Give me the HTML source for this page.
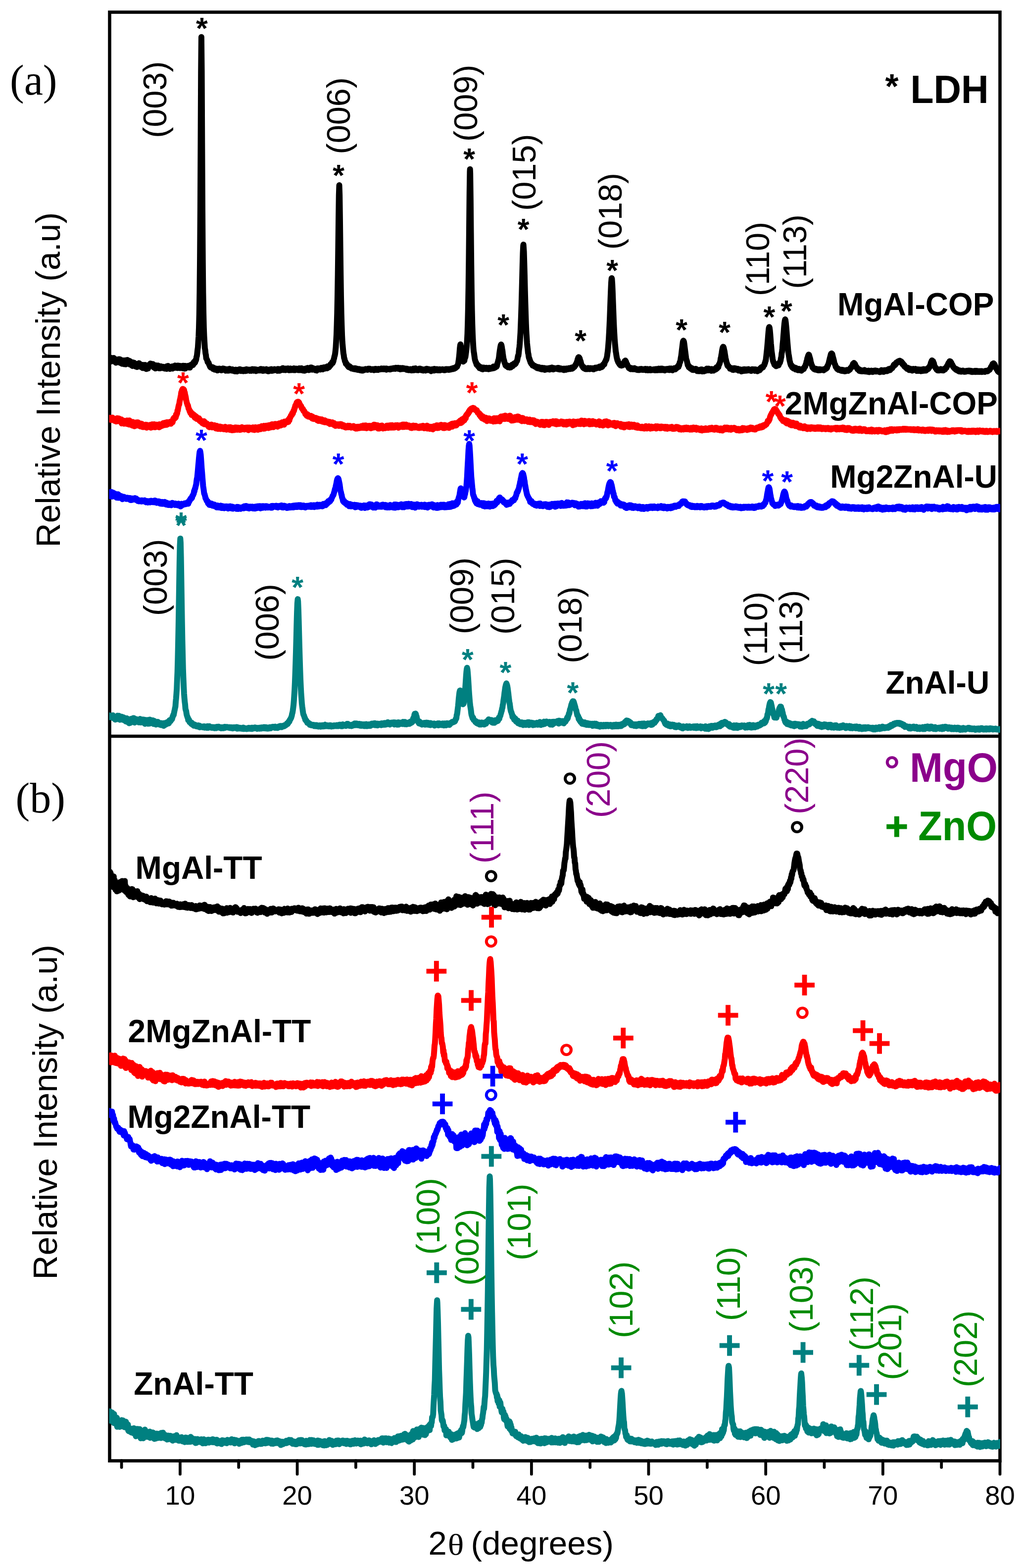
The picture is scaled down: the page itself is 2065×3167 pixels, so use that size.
<!DOCTYPE html><html><head><meta charset="utf-8"><title>XRD patterns</title><style>html,body{margin:0;padding:0;background:#fff}svg{display:block}</style></head><body>
<svg width="2065" height="3167" viewBox="0 0 2065 3167">
<rect width="2065" height="3167" fill="#fff"/>
<defs><clipPath id="pa"><rect x="220.5" y="28" width="1800.5" height="2919"/></clipPath></defs>
<g fill="none" stroke="#000" stroke-width="6.6">
<rect x="221.5" y="24.6" width="1799" height="2925.9"/>
<line x1="221.5" y1="1487" x2="2020.5" y2="1487"/>
</g>
<g clip-path="url(#pa)" fill="none" stroke-width="12.0" stroke-linejoin="round" stroke-linecap="round">
<path stroke="#000000" d="M220.0 722.8l.7 3.4 .7 1 .7-4.8 .7 1 .7 6.7 .7-7.5 .7 .3 .7 6.8 .7-3 .7-2.3 .7 1.2 .7 1.3 .7-3.1 .7-.8 .7 6.1 .7-.6 .7-.8 .7 3 .7-2 .7 4 .7-6.7 .7 3 .7-.6 .7-1.3 .7 2.1 .7-3.1 .7 4.9 .7 .7 .7-6.2 .7 3.1 .7-1.5 .7-1.4 .7 7.3 .7-3.7 .7-2.1 .7 4.9 .7-3.7 .7 6.3 .7-5.7 .7-1.3 .7 1.6 .7 1.3 .7 1.2 .7 3.8 .7-1.8 .7-3.1 .7-2.9 .7 1.1 .7 7 .7-4.8 .7 1.7 .7-5.6 .7-.3 .7 7 .7-2.1 .7-2.2 .7 .5 .7-1.6 .7 1.2 .7-.7 .7 7.4 .7-2.7 .7-2.6 .7 5.7 .7-4.4 .7-.9 .7 4.9 .7 2.8 .7-7.2 .7 6.9 .7-5 .7-.7 .7-.5 .7 2.5 .7 3.9 .7-2 .7 3.1 .7-5.5 .7 .9 .7-.5 .7 6.2 .7-.3 .7-5 .7 .9 .7-1 .7 3.8 .7-6.1 .7 .3 .7 2.9 .7-1.3 .7 5.3 .7-.6 .7-1.3 .7 1.3 .7 .6 .7 1.1 .7 1.4 .7-6.2 .7 4.1 .7-3.9 .7 2.5 .7 2.9 .7 1 .7-1 .7-5.6 .7 2.8 .7-1.4 .7 6.8 .7-6.6 .7 .9 .7 1 .7-2.5 .7 6.1 .7-2.2 .7-4.2 .7 2.1 .7-3.8 .7 3.5 .7-3.4 .7-1.9 .7 .3 .7 3.1 .7 .5 .7-2.3 .7 2.6 .7-1.9 .7-1.3 .7 1.9 .7 1 .7 4.3 .7-5.3 .7 .2 .7 3.7 .7 3.1 .7-.3 .7-1.4 .7-4.4 .7 5.3 .7-.8 .7-3.8 .7 2.3 .7-2.8 .7 5.3 .7-.5 .7 .7 .7-.3 .7-3.2 .7 3.6 .7-3.5 .7-.7 .7 1.8 .7 .8 .7-1.3 .7 2.2 .7 0 .7-2.4 .7 2.5 .7-1.7 .7 2.5 .7-2.9 .7 3.3 .7-2.5 .7 .8 .7 .7 .7-1.1 .7-1.8 .7 4.5 .7-5.7 .7 1.4 .7 1.5 .7-3.3 .7 .9 .7 4.2 .7 0 .7-.8 .7 1.8 .7-.8 .7-2.9 .7 2.3 .7-2 .7 2.5 .7-2.4 .7-1.7 .7 4.4 .7-1.4 .7 .1 .7-1.4 .7 1.3 .7-2.3 .7 .7 .7-3.2 .7 2.9 .7 1.6 .7-.7 .7 .6 .7-1.9 .7 2.4 .7-4.7 .7 4.8 .7-3.1 .7-1.6 .7 3.2 .7-.9 .7-.1 .7 2.6 .7-4.3 .7 2.9 .7-1.1 .7 .7 .7-.1 .7-2.2 .7 2.4 .7 2.1 .7-4.1 .7-1 .7 .4 .7 2.3 .7 3 .7-5.5 .7 5.5 .7-2.7 .7-2.5 .7 1.6 .7-1.4 .7 2.7 .7-1.2 .7-1.6 .7-.4 .7 3.4 .7-.7 .7-1.9 .7-.2 .7 1.8 .7 1.2 .7-5 .7 .2 .7 .9 .7 .4 .7-2.8 .7-.7 .7 .3 .7 .2 .7 1.1 .7-1.6 .7-3.9 .7-.9 .7 1.1 .7 1.1 .7-1.1 .7-4.4 .7 .8 .7-2 .7-5.4 .7-1.7 .7-6.1 .7-6.5 .7-4.9 .7-11.7 .7-10.1 .7-17.7 .7-27.1 .7-44.7 .7-67.7 .7-96.8 .7-136.1 .7-144.8 .7-70.1 .7 69.7 .7 144.2 .7 135.1 .7 99.8 .7 68 .7 41 .7 29 .7 17.5 .7 12.6 .7 11.7 .7 3.5 .7 7 .7 2.9 .7 7 .7 .9 .7 1.6 .7 1.3 .7 3.6 .7 .7 .7 .1 .7 .9 .7 2.7 .7 1.8 .7 .7 .7 2.5 .7 .8 .7 .8 .7 .1 .7-.8 .7 .8 .7 0 .7 .5 .7-1 .7 3.6 .7-1.9 .7-.5 .7 2.1 .7 1.4 .7-1 .7 0 .7 1.4 .7-1.9 .7-.4 .7 2.4 .7-.1 .7 1.3 .7-1.7 .7 1.4 .7-3.2 .7 0 .7 2.2 .7-1.5 .7-.7 .7 .3 .7 1 .7-.1 .7 1 .7 1.2 .7-2.1 .7-.8 .7 1.5 .7-2.4 .7 1.5 .7-.2 .7 .3 .7-1.2 .7 2.1 .7 .5 .7 .6 .7 .9 .7-2.4 .7 1.2 .7-.9 .7-.9 .7 2.7 .7-.6 .7 .8 .7-.5 .7 .4 .7-3.2 .7-.4 .7 .8 .7 .9 .7 1.2 .7-.9 .7 .4 .7 1.1 .7-2.6 .7 2.6 .7-2.4 .7 1 .7 2 .7 0 .7-1 .7-.3 .7 2.2 .7-2.2 .7-1 .7 .9 .7-1 .7 3.2 .7-2.9 .7 3.3 .7-3.2 .7 .2 .7 1 .7-1.2 .7 .2 .7-1.2 .7 1.1 .7-1.5 .7 .7 .7 2.8 .7-2.6 .7 0 .7 1.8 .7 .9 .7-2.2 .7 .5 .7 1.5 .7 .4 .7-.7 .7-1.9 .7-.1 .7 2.2 .7-.4 .7 .6 .7-.6 .7-1.6 .7-1.2 .7 3.1 .7-.8 .7-.5 .7 .4 .7-1.2 .7-.2 .7 .9 .7-.4 .7 .9 .7 .9 .7-.4 .7-1.9 .7 0 .7 2.3 .7-2.2 .7 1.7 .7-2.9 .7 1.5 .7 .3 .7 1.2 .7 .3 .7-3 .7 1.9 .7 .1 .7-1.9 .7 2.9 .7-1.1 .7 1.8 .7-3.1 .7 1.5 .7-.8 .7 1.3 .7-.2 .7-.6 .7-.9 .7 .5 .7-.8 .7 1.9 .7-2 .7-.1 .7-.9 .7 0 .7 2.9 .7-2.5 .7 2.4 .7-1 .7 1.8 .7-3.2 .7 3.3 .7-.5 .7-.8 .7 .7 .7 .1 .7-1.1 .7 .8 .7-1.7 .7-.9 .7 2.7 .7-.8 .7 1.8 .7-2.6 .7 2.4 .7 .7 .7-.3 .7 .3 .7-3.3 .7 0 .7 .2 .7 .5 .7-1.1 .7 0 .7-.7 .7 3.7 .7-2.4 .7 1 .7-.7 .7 1.2 .7 .2 .7-1.7 .7 .6 .7-1.7 .7 .8 .7-.1 .7 .4 .7 .2 .7 1.1 .7-1 .7-.1 .7 2 .7-3.5 .7-.1 .7 .1 .7 3.3 .7-1 .7 .2 .7 .9 .7-3.2 .7 2.7 .7-3.1 .7 1 .7 .4 .7 .3 .7-2.4 .7 .8 .7-1.9 .7 1 .7 2.9 .7-.3 .7-1.3 .7 .9 .7 .5 .7-2.3 .7 2.8 .7-2.1 .7-1.1 .7 1.6 .7 .3 .7 .4 .7 0 .7-2.6 .7 2.5 .7 1.1 .7-1.1 .7 1.2 .7-1.9 .7 1.2 .7-2.8 .7 3.1 .7-1.9 .7 1.9 .7-2.3 .7 1.2 .7 .9 .7-.6 .7-.4 .7 1.4 .7-3.6 .7 .1 .7 1.9 .7 1.7 .7-1 .7-1.4 .7-.8 .7 1.5 .7 .2 .7-.1 .7 .6 .7-1.5 .7 2.4 .7-2.6 .7-.9 .7 .9 .7 2.5 .7-3.4 .7 .5 .7 3 .7-2.6 .7 2.4 .7-3.6 .7 4 .7-2.9 .7-.2 .7 2.7 .7 1.2 .7-.1 .7-1 .7 .8 .7 .4 .7-2.1 .7-2.1 .7 3.4 .7-2.3 .7-.6 .7 .9 .7-2.5 .7-.2 .7 1.2 .7 1.6 .7 .7 .7 .9 .7-.9 .7 .5 .7-1.8 .7 .4 .7-.9 .7-2.6 .7 0 .7 3.7 .7-2.6 .7 3.3 .7-1.4 .7-2 .7 3.1 .7-.3 .7-1.7 .7 1.1 .7 .4 .7 .1 .7 1.8 .7-2.9 .7 1.3 .7 .6 .7 1.6 .7-4.2 .7-.2 .7 .6 .7 .2 .7-.2 .7-.4 .7 .6 .7 0 .7 1 .7 .6 .7-1.6 .7-1.2 .7-.6 .7 .6 .7-.6 .7 1.3 .7 1.8 .7-.8 .7-2.5 .7-.8 .7 .1 .7 1.6 .7-.5 .7 1.3 .7-2.9 .7 .5 .7 1.7 .7-.8 .7-.5 .7 1.4 .7-3.9 .7-.1 .7 1.2 .7-.5 .7 1.3 .7-.6 .7-2.2 .7 .2 .7-.8 .7-3 .7 1.4 .7-2 .7-.5 .7-1.8 .7-1.6 .7 2.3 .7-2 .7-1.6 .7-3.9 .7-1.9 .7-3.9 .7-1.9 .7-3.7 .7-6 .7-7 .7-12.6 .7-12.1 .7-20.6 .7-24.1 .7-35.2 .7-42.7 .7-53.5 .7-58.3 .7-48.8 .7-19.4 .7 19.7 .7 48.9 .7 57.6 .7 54 .7 45.5 .7 34.4 .7 23.5 .7 20.1 .7 13.6 .7 7.7 .7 7.7 .7 7.2 .7 3.3 .7 6.1 .7 1.1 .7 3.9 .7 2.2 .7 .2 .7 3.9 .7-.6 .7 .4 .7 .8 .7 2.2 .7 1.4 .7-.7 .7 2.6 .7-1.5 .7 2.5 .7-2.4 .7 1.3 .7 0 .7 1.4 .7 0 .7 .4 .7 1.8 .7-.6 .7 .3 .7-.6 .7 1.6 .7-.9 .7 .9 .7 .6 .7-.9 .7-.5 .7-.5 .7 2.2 .7-.4 .7 .3 .7-1.6 .7 .9 .7 1.6 .7-1.8 .7 2 .7-.7 .7-.8 .7 .7 .7-.8 .7 2 .7 .4 .7-2 .7 1 .7 1.5 .7-1.6 .7 1 .7 .8 .7-.7 .7-1.4 .7 2.3 .7-.5 .7-.6 .7-.8 .7 .7 .7-.7 .7-.9 .7 0 .7-.4 .7 .3 .7 0 .7 1 .7-.3 .7-.1 .7 .6 .7-2.1 .7 .8 .7-.9 .7 1 .7-.9 .7 0 .7 .1 .7 .9 .7 1.1 .7-1.3 .7 1.4 .7-1.3 .7 .3 .7 .7 .7-1.1 .7 1.1 .7 .4 .7 .6 .7-2.2 .7 1.9 .7-.8 .7-.1 .7-1.6 .7 2.2 .7-1.8 .7 .7 .7 0 .7 1 .7-.9 .7 1.1 .7-2.1 .7 1.2 .7-.3 .7-.2 .7 .2 .7-.2 .7-.7 .7 .8 .7-1.6 .7 1 .7-.1 .7-.6 .7 .9 .7 .3 .7-1.4 .7 .5 .7-.6 .7 1.5 .7-1.3 .7 .4 .7 .5 .7 0 .7-1.1 .7 2.4 .7-1.9 .7 1 .7-1 .7 1 .7-.6 .7 0 .7 .4 .7 .3 .7 .1 .7 .2 .7-1.2 .7-.5 .7 .3 .7 .1 .7 .7 .7-.7 .7-.4 .7-.6 .7 1.1 .7-1.4 .7 .9 .7 .3 .7-.3 .7-1.3 .7 .4 .7 1.4 .7-2.2 .7 1.5 .7-.6 .7 .5 .7-.6 .7-.7 .7 1.2 .7-1.4 .7 2.4 .7 0 .7-1.1 .7 .6 .7 0 .7 1.3 .7-2.6 .7 .8 .7 .3 .7 1.1 .7-.2 .7-.8 .7-1.2 .7 1.9 .7-.6 .7-.8 .7 1.5 .7-.5 .7-.4 .7 0 .7 .8 .7-.8 .7 .5 .7 1.8 .7-1.3 .7-.6 .7 1 .7 1.4 .7-.1 .7-.5 .7 .9 .7-.4 .7-.1 .7-.8 .7-.8 .7 2 .7-.3 .7 1.1 .7-2.2 .7 1.8 .7-2.3 .7 2.4 .7 .1 .7-3.4 .7 .9 .7 2.2 .7-.2 .7-1.1 .7-2 .7-.5 .7 .9 .7 2.6 .7-.4 .7-1.3 .7 1.3 .7 .7 .7-2.2 .7 2.2 .7-2.2 .7 .2 .7-1.1 .7 .4 .7 1.5 .7-1.9 .7 2.1 .7-1.4 .7 2.4 .7-2.3 .7 .4 .7 .4 .7 1.3 .7 .9 .7-.2 .7 0 .7-.3 .7-.6 .7-.8 .7-.8 .7 2.7 .7-2 .7 .9 .7-2.5 .7 1.1 .7-1 .7 1.1 .7 1.5 .7-1.4 .7 1.5 .7-1.9 .7 1.2 .7 .4 .7 .5 .7-.9 .7 1.9 .7 .7 .7-.4 .7-3 .7 1.5 .7-.7 .7 .6 .7-1.9 .7 2.2 .7-1.2 .7 1.8 .7-3.3 .7 1.3 .7 .2 .7 1.2 .7-.3 .7-2 .7 .4 .7 1.4 .7-1 .7-.5 .7 2.3 .7-.3 .7-1.5 .7 .6 .7 1.2 .7-2.3 .7 2.1 .7-.2 .7-.6 .7-.2 .7 0 .7-.4 .7 .2 .7-1 .7 1.1 .7 .4 .7-.4 .7 .6 .7-.6 .7 .9 .7-.2 .7-1.8 .7 1.8 .7-1.4 .7-.5 .7 0 .7 .5 .7 .4 .7-.5 .7-.4 .7 1.3 .7-1.1 .7 1.1 .7-1.5 .7 .9 .7-.8 .7 1 .7-.5 .7-.1 .7-1.4 .7 1.3 .7-1 .7 .6 .7 0 .7-1.7 .7-.5 .7 1.4 .7 .2 .7-.4 .7-1.2 .7 .5 .7-2.1 .7-.4 .7 .6 .7-.8 .7-.2 .7-2.5 .7-1.2 .7-1.4 .7-4.9 .7-4.6 .7-6.1 .7-7.4 .7-9.1 .7-6 .5-2 .9 3.9 .7 6.8 .7 7.4 .7 6.3 .7 4.1 .7 3.2 .7 1.9 .7 1.2 .7-.9 .7-1.2 .7 .3 .7-3.9 .7-2.6 .7-.5 .7-5.4 .7-4.9 .7-5.3 .7-8 .7-10.6 .7-13.5 .7-22.5 .7-30.1 .7-40.8 .7-53.2 .7-67.6 .7-68.3 .7-44.7 .3-4.9 .4 8.6 .7 50.8 .7 68.6 .7 65.5 .7 53.3 .7 38.5 .7 28.5 .7 19.8 .7 14.5 .7 12.1 .7 7.6 .7 3.7 .7 5.5 .7 5.1 .7 3.6 .7 1.7 .7 2.8 .7 .2 .7 3.5 .7 1.5 .7-.3 .7 .3 .7 .1 .7 3 .7 .6 .7-1.7 .7 2.5 .7 2 .7-3 .7 .8 .7 0 .7 1.7 .7 0 .7 2.1 .7-3 .7 .7 .7 3 .7-3.6 .7 1 .7 .5 .7-1.5 .7 1.1 .7 1.3 .7 .1 .7 0 .7 .2 .7 0 .7-2.3 .7 2.5 .7-.3 .7-1.5 .7 .7 .7-.8 .7 2.4 .7-2.5 .7-.5 .7 2.3 .7-.3 .7 .2 .7-.9 .7-1.2 .7 .1 .7 .1 .7 0 .7 1.2 .7-2.8 .7 1.8 .7-3 .7 .5 .7 2.6 .7-2.9 .7 .7 .7 1.2 .7-1.4 .7-1 .7 .2 .7 .2 .7-1.3 .7-4 .7-2 .7-1.9 .7-3.4 .7-1.9 .7-4.1 .7-6.5 .7-5.2 .7-4.7 .7-4.2 .7-3.5 .8-1.9 .6 1 .7 3.3 .7 4.4 .7 3.8 .7 6.2 .7 5 .7 4.7 .7 2.3 .7 2.2 .7 3.5 .7 1.7 .7 1.6 .7 2.7 .7 .4 .7 .8 .7 .4 .7-1.5 .7 0 .7 1.5 .7 2 .7-.6 .7 .6 .7-.6 .7 .6 .7 .7 .7-1.2 .7 .3 .7 .2 .7-1.3 .7-.1 .7-3.3 .7-.5 .7 3 .7-3.1 .7-.1 .7-1.1 .7 1.5 .7-2.8 .7 2.5 .7-2.6 .7 1.1 .7-.2 .7-1.9 .7-2.2 .7-.7 .7-.8 .7-2.6 .7-4.2 .7-3.8 .7-.2 .7-5.2 .7-7.2 .7-4.6 .7-7.9 .7-10.9 .7-10.4 .7-17.2 .7-18.6 .7-21.5 .7-25.2 .7-26.7 .7-28.1 .7-24.3 .7-13.9 .4-2.6 1 14.6 .7 22.9 .7 26.3 .7 28.7 .7 25.3 .7 22.6 .7 20.3 .7 16.4 .7 10.5 .7 11 .7 7.3 .7 5.6 .7 7.2 .7 2.6 .7 5.5 .7 3.1 .7 .3 .7 3.8 .7 .3 .7 3.7 .7-.4 .7 2.7 .7 .8 .7 .6 .7-.6 .7 3 .7-1.3 .7 2.1 .7-.8 .7 .3 .7 1.4 .7-1.2 .7 2 .7-.9 .7 1.5 .7 .1 .7 1.3 .7-1.9 .7 .1 .7 2.8 .7-1.7 .7-.2 .7 1.3 .7-1.6 .7 3 .7-.6 .7-.2 .7-1.2 .7 2.3 .7 .7 .7-.3 .7 .7 .7-3.1 .7 2.7 .7 .6 .7-1.5 .7-1.4 .7 1.9 .7-1.1 .7-.7 .7 3.7 .7-.3 .7-.7 .7 .5 .7-.3 .7-.8 .7-1.3 .7 .7 .7 .8 .7 .2 .7-1.2 .7-.9 .7 .7 .7-.8 .7 2.8 .7-3.1 .7 .5 .7 .5 .7-1.2 .7 .9 .7 .2 .7-1.9 .7 3.5 .7-1.5 .7-1.3 .7 3.2 .7-2.9 .7 2.2 .7-.9 .7-.7 .7 .4 .7 .4 .7-.4 .7-.4 .7 .5 .7 0 .7 .9 .7-1.8 .7-.5 .7 2.7 .7-2.6 .7 1.9 .7-.2 .7 1.5 .7-2.5 .7 2.5 .7-2.3 .7 .3 .7 1.8 .7-1.4 .7 1.4 .7 .4 .7-1.7 .7 2.1 .7-1.1 .7 1.6 .7-2.9 .7 .2 .7 1.6 .7-1.1 .7 .3 .7 1.4 .7-1.7 .7-.9 .7 .2 .7 1 .7 .5 .7-.2 .7-.9 .7-.8 .7-.5 .7 .1 .7-.2 .7 1.9 .7-1.5 .7-.9 .7 1.4 .7-.7 .7-1.4 .7 2.5 .7-.4 .7-2.3 .7 1.3 .7-1.5 .7 .1 .7-.6 .7-.5 .7-1.6 .7-1.7 .7 .5 .7-2.3 .7-1.7 .7-1.1 .7-2.2 .7-1.6 .7-3.3 .7-1.5 .7-2.3 .7-.7 .3 .1 .4 .2 .7 1.1 .7 1.2 .7 3.3 .7 1.3 .7 2.1 .7 3.3 .7 1.8 .7 1.7 .7 1.9 .7 .8 .7-.1 .7 2.6 .7-1.9 .7 3 .7-.8 .7 .2 .7 .7 .7 .1 .7 1.6 .7 0 .7-.1 .7-1.4 .7 .6 .7-1.1 .7 1.8 .7-2.1 .7 .9 .7-.8 .7 2 .7 .2 .7-1.9 .7 1.7 .7-2 .7 1.6 .7-1.3 .7 .6 .7 .6 .7-.8 .7-.4 .7 1.2 .7 .6 .7 .6 .7-2 .7-.3 .7-.6 .7 .2 .7-.7 .7 .5 .7 1.2 .7-2 .7 1.3 .7-1.3 .7-.4 .7 .6 .7-.3 .7-.1 .7-1.1 .7 1.2 .7 .9 .7-2.9 .7 0 .7 1.3 .7-1.1 .7-.6 .7 1.8 .7-2.4 .7 1.3 .7-1.5 .7-2.3 .7 0 .7-1.3 .7 .4 .7 .1 .7-3.5 .7-1.4 .7-1.4 .7-1 .7-2.3 .7-.1 .7-3.5 .7-3.1 .7-5.4 .7-4.7 .7-7 .7-9.1 .7-9.1 .7-12.7 .7-13.8 .7-15.8 .7-19.3 .7-19.2 .7-17.7 .7-15.2 .7-8.3 .3-.7 .4 1.5 .7 9.7 .7 15.2 .7 19.4 .7 18.7 .7 18.9 .7 16.1 .7 13.1 .7 12 .7 8.4 .7 7.3 .7 7.4 .7 3.7 .7 5.2 .7 3.8 .7 3.2 .7 2.6 .7 .1 .7 3.5 .7 .4 .7 1.6 .7 .6 .7 2 .7-.7 .7-.2 .7 2.9 .7-.1 .7 .4 .7-1.6 .7 .2 .7 1 .7-.1 .7-.9 .7-1.1 .7-1.1 .7-2.8 .7-1 .7-1.8 .7-.2 .6-.7 .8 1.3 .7 1.6 .7 2.5 .7 2 .7-.1 .7 3.3 .7 .6 .7 .3 .7 2 .7 1.7 .7 .4 .7-1.6 .7 .6 .7 1.8 .7 1 .7-2.4 .7 .1 .7 1.9 .7-.1 .7 .6 .7-1.8 .7 .9 .7 .9 .7-1.3 .7 .1 .7-1.1 .7 2.3 .7-.9 .7-.1 .7 1 .7 .8 .7 .2 .7-1.4 .7 1 .7-.6 .7 1.4 .7-.1 .7-.3 .7 .4 .7-.9 .7 .2 .7-1.2 .7 1.7 .7-1.2 .7 .8 .7-1.6 .7 1.2 .7 .7 .7 .1 .7-.2 .7-1 .7 1.2 .7 0 .7-.3 .7-.7 .7-.7 .7 1.3 .7-1.6 .7 2.7 .7-1.7 .7-.1 .7 .5 .7-1.1 .7 2.4 .7 .2 .7-.5 .7-.8 .7 1.1 .7-1.9 .7 .4 .7-.9 .7 .9 .7 1.7 .7-.8 .7-.3 .7 .1 .7 .4 .7 .1 .7-.4 .7 .2 .7-1.3 .7 1.2 .7 .7 .7-1.6 .7 0 .7 1.7 .7-2.4 .7 .1 .7 2 .7-2.4 .7 .6 .7 2 .7-1.7 .7 1.4 .7-.2 .7-2.7 .7 .7 .7 2.3 .7-2.1 .7 .2 .7 1.8 .7-2.9 .7 3 .7-1.1 .7 0 .7-2.1 .7 2.4 .7 .8 .7-1.4 .7-1 .7 .4 .7-.1 .7 1.3 .7 1.4 .7-2.8 .7 1.2 .7-.2 .7-.2 .7 .2 .7-.1 .7-1.4 .7 2 .7-1.1 .7-.7 .7 2.2 .7-1 .7-2 .7 3.1 .7-1.4 .7-.8 .7-.3 .7-.6 .7 .8 .7 .2 .7 .2 .7 2.4 .7-1.7 .7-1.6 .7 .5 .7 0 .7-1.5 .7 1.2 .7 0 .7 1.2 .7-2 .7 .6 .7-.3 .7-2.3 .7 .9 .7-1 .7-1.7 .7-1.3 .7 2.4 .7-4.4 .7 1.2 .7-3.6 .7-3.1 .7 0 .7-4.3 .7-4.6 .7-3.6 .7-5.6 .7-6.4 .7-5.5 .7-5.7 .7-5.3 .7-2.1 .4-.2 1 2.4 .7 4.6 .7 6 .7 5.7 .7 5.2 .7 5.6 .7 5.2 .7 3.7 .7 1.6 .7 2.7 .7 3 .7 3.9 .7-.6 .7 1.7 .7 3 .7-1.8 .7 1.3 .7 .5 .7-.3 .7 3.2 .7-1.2 .7 .7 .7 .1 .7-.7 .7 3.5 .7-2.6 .7 .9 .7 1.9 .7-1.4 .7 .8 .7-.6 .7 1 .7-.9 .7 .6 .7-1.8 .7 .1 .7 2.1 .7 1.4 .7 .9 .7-.7 .7-1 .7 .5 .7 .2 .7 .2 .7 1.1 .7-2.7 .7 .4 .7 1.4 .7-2.3 .7-.4 .7 3.5 .7-3.5 .7 3.8 .7 .2 .7-3.1 .7 2.4 .7-2 .7-.3 .7 2.7 .7-.7 .7-.8 .7-1.6 .7 2 .7-1.9 .7 1.6 .7-1.2 .7-2.8 .7 3.1 .7 .1 .7 .2 .7-1 .7-2.4 .7 3.4 .7-1.7 .7-.8 .7 .1 .7 .1 .7 2.6 .7-2.8 .7 3.5 .7-3.6 .7 2.9 .7-2 .7 1.1 .7-1.5 .7 2.8 .7-3.2 .7 1 .7 .3 .7-.9 .7-1.3 .7-.2 .7 2 .7-3.6 .7-1 .7 2.9 .7-.7 .7-1.4 .7-1.5 .7 .8 .7-3 .7-2.7 .7-.3 .7-1.8 .7-2.5 .7-2 .7-5.6 .7-1.9 .7-4.9 .7-3.9 .7-4.8 .7-3.9 .7-2.6 .9-1.5 .5 .6 .7 2.1 .7 3.5 .7 2.9 .7 4.6 .7 4.3 .7 4.5 .7 3.3 .7 2.9 .7 3 .7 1.6 .7 3.3 .7 1.8 .7 .5 .7-.4 .7 2.1 .7 .2 .7 .3 .7 .9 .7 2.4 .7-1.5 .7 .6 .7 .1 .7-.6 .7 1.7 .7-.5 .7 2.2 .7-1.1 .7 1.5 .7-.4 .7-1.4 .7-1.8 .7 .8 .7-.4 .7 2.4 .7-2.4 .7 2 .7-1.2 .7 .7 .7 1.2 .7-1.6 .7-.3 .7 .8 .7 2.9 .7-1.3 .7-.8 .7-.3 .7-.1 .7 1.3 .7 1.2 .7-.5 .7 1.4 .7 .8 .7-1.8 .7-1 .7 1.8 .7-3 .7 2.6 .7 .4 .7-.6 .7-2.8 .7 1.9 .7 .9 .7-1.6 .7 1.8 .7-2.7 .7 1.5 .7 .1 .7 .9 .7-1.6 .7-.7 .7 1.8 .7-2.5 .7 1 .7 .4 .7 1.3 .7-1.5 .7 .7 .7 .5 .7 .1 .7 1.2 .7-1.9 .7 .5 .7-2.2 .7 .7 .7 .2 .7-.2 .7 1.2 .7-1.3 .7 1.5 .7 1.1 .7-2.9 .7 .8 .7 1.2 .7-1.7 .7 .5 .7 1.8 .7-.7 .7 1.9 .7-1.5 .7 .6 .7-1.9 .7-.2 .7 1.4 .7-1.3 .7 .6 .7-3.1 .7-1.1 .7 1.7 .7-2.7 .7-.7 .7 .7 .7 .5 .7-1.8 .7 .9 .7-1.9 .7-1.4 .7-.2 .7-1.1 .7-3.3 .7-.5 .7-4.1 .7-.7 .7-5.6 .7-6.1 .7-6.5 .7-6.7 .7-7.9 .7-8.5 .7-9.2 .7-8.4 .7-6.7 .8-2.6 .6 1.5 .7 5 .7 7.8 .7 9.3 .7 9.7 .7 7.2 .7 8.5 .7 4.5 .7 5.5 .7 5.5 .7 3.7 .7 2.4 .7 1.7 .7 0 .7 3.8 .7-.5 .7 1.8 .7 .7 .7-2.1 .7 3.1 .7-3.1 .7 2.2 .7-1.4 .7-.7 .7 1.5 .7-1.7 .7 1.5 .7-2 .7-1.7 .7-2.3 .7 .6 .7-2.4 .7-2.1 .7-4.7 .7-2.3 .7-7.4 .7-2.9 .7-6.9 .7-9 .7-6 .7-10.7 .7-8 .7-9.6 .7-7.1 .7-5.3 .8-3 .6 1.6 .7 5.4 .7 6.9 .7 8.3 .7 9.2 .7 9.1 .7 8.4 .7 8.3 .7 7.9 .7 5 .7 3.9 .7 5 .7 4 .7 2.8 .7 3.1 .7 2.2 .7 1.9 .7 .6 .7-.7 .7 3.6 .7 .8 .7 .4 .7-.6 .7 2 .7-2.6 .7 2.7 .7-.3 .7 .6 .7-2 .7 3.6 .7-3.2 .7 .9 .7 1.6 .7 .5 .7-1.3 .7 .6 .7 2.5 .7-2.1 .7 .5 .7-1.1 .7 1.8 .7 .5 .7 .3 .7-1.8 .7 .6 .7 1.1 .7 1.1 .7-.8 .7-2.1 .7-.7 .7 .5 .7 .2 .7-1.4 .7 .9 .7-2.6 .7-1.5 .7 .2 .7-1.1 .7-3.3 .7-1.7 .7-2.5 .7-3.2 .7-1.4 .7-4.3 .7-1.9 .7-2.5 .7-1.9 .7-1.3 .7 .6 .7 2.4 .7 2.5 .7 2.1 .7 3 .7 4.5 .7 1.7 .7 3.4 .7 .7 .7 1.9 .7 3.2 .7-.8 .7 1.5 .7 1 .7 1.3 .7-.7 .7 1.4 .7-1 .7 1.6 .7-1.8 .7 .6 .7-.3 .7 .2 .7 1.9 .7-.8 .7 1 .7 .6 .7-2.3 .7 1.8 .7 .6 .7-1.8 .7-.6 .7 1.2 .7 .2 .7 .5 .7-.3 .7-.8 .7-.3 .7 .5 .7 .3 .7-.8 .7 .2 .7 1.6 .7-1.5 .7-1 .7 1.2 .7-1.1 .7 0 .7-.8 .7-1.3 .7 .9 .7-1.3 .7-.1 .7-3.7 .7-.2 .7-2.1 .7-2 .7-1.8 .7-3.5 .7-2.5 .7-3.4 .7-2.3 .7-3 .7-2.8 .7-1.4 .8-.5 .6 .6 .7 .9 .7 2.8 .7 3.1 .7 2.3 .7 2.5 .7 3 .7 3.8 .7 1.9 .7 1.2 .7 1.8 .7 3.1 .7 1 .7 1.1 .7-.6 .7 2.9 .7-1.3 .7 .8 .7 .1 .7 2.3 .7-.4 .7 .1 .7-.1 .7 1.1 .7-.5 .7 .2 .7-.7 .7 2 .7-2.1 .7 2.4 .7 .2 .7-1.1 .7-.9 .7 .3 .7-.2 .7 1.7 .7-.9 .7 1.9 .7-1.9 .7 0 .7 .9 .7 .5 .7-1.1 .7-1.3 .7 0 .7 1.5 .7 0 .7 .4 .7-1.4 .7 .3 .7-.7 .7-.9 .7 .2 .7-2.5 .7-1 .7-.6 .7-1 .7 .1 .7-1.8 .7-1.6 .7-1 .7-2.4 .7 .5 .7-.6 .4-1.6 1 1 .7 .7 .7 1 .7 3.2 .7 0 .7 2.6 .7 .6 .7-.4 .7 2 .7 1.9 .7-.6 .7 .6 .7-.1 .7 1.6 .7 1.8 .7-2.6 .7 3 .7-.8 .7-.9 .7 2 .7 .1 .7 .2 .7-1.6 .7-.2 .7 .9 .7 .8 .7-1.7 .7 0 .7 .3 .7-1.2 .7 2.9 .7-1.2 .7 .1 .7 .7 .7 .7 .7-.2 .7-1.2 .7 0 .7 .3 .7 .8 .7 1 .7-2.7 .7 2.1 .7 .9 .7-1 .7-.6 .7 .3 .7 .1 .7 .3 .7-2 .7 2.4 .7-.9 .7-1 .7 2.2 .7-1.9 .7 1.3 .7-1.8 .7 .9 .7-1.4 .7 .3 .7 .2 .7-.7 .7 2.4 .7-1.1 .7-.3 .7 1 .7-1.2 .7 .8 .7 .5 .7 .2 .7-.8 .7 1.2 .7 .4 .7 .3 .7-1.7 .7 1.4 .7-.2 .7-1.3 .7-2.2 .7 2 .7-.5 .7 .7 .7-1.8 .7 2.9 .7-2.7 .7 2.7 .7-3.1 .7 .8 .7 .8 .7-1.8 .7 .5 .7 .9 .7 .2 .7 .5 .7-1.7 .7 1.6 .7-3 .7 1.2 .7 .4 .7-2.9 .7 2.7 .7-.2 .7-1.3 .7 1 .7-1.4 .7-1.9 .7 1 .7-1.8 .7-.1 .7 .4 .7-1.8 .7-.5 .7-.6 .7-2.9 .7-1.2 .7-.6 .7 .6 .7 .9 .7-2.4 .7 .7 .7-2.7 .7-1.1 .7 0 .7 .6 .7-.2 .7-1.8 .7-.8 .7 .8 .7-1.2 .5-.5 .9 1.3 .7-1.7 .7 2.2 .7 .8 .7-1.9 .7 2.6 .7-1.6 .7 1 .7 1.3 .7 3 .7-2.1 .7 2 .7 .8 .7-.1 .7 3.5 .7-1.9 .7 3.1 .7-.6 .7 1.3 .7 .8 .7 .3 .7 1.1 .7 .8 .7-2.5 .7 .2 .7 1.8 .7-1 .7 2.3 .7 1.7 .7-1.5 .7-1.2 .7-.1 .7 1.8 .7 1 .7 .4 .7-.1 .7-1.2 .7 1.9 .7-1.4 .7 .7 .7-2.8 .7 2.1 .7-1.8 .7 .5 .7 .3 .7 1.1 .7-2.2 .7 2.8 .7-1.3 .7-.6 .7 3.3 .7-1.1 .7-1.2 .7-.8 .7 1.7 .7 1.3 .7-1 .7-.8 .7-.8 .7 .4 .7 2.3 .7-2.8 .7 3.3 .7-1.1 .7-1.5 .7-.9 .7 1 .7 2 .7-3.5 .7 .5 .7-.8 .7 2.5 .7 .8 .7-1.6 .7-1.1 .7 2.5 .7-1.5 .7 1.4 .7-2.3 .7-1 .7-.6 .7 .4 .7 .1 .7 .4 .7-1.9 .7-1.8 .7 1 .7-2.5 .7-1.5 .7-1.1 .7-2.2 .7-3.1 .7 .1 .7-3.5 .7-1 .6 .9 .8 .4 .7 .3 .7 2.9 .7 .3 .7 3 .7 3.2 .7 1.6 .7 .6 .7 2 .7 .7 .7-.4 .7 2.9 .7-.2 .7 .5 .7 1.6 .7-1.1 .7-.7 .7 .4 .7 .4 .7 1.1 .7-.2 .7-1.6 .7 .3 .7-1.5 .7 2.1 .7 .6 .7-2 .7 1.6 .7-1.7 .7 2.3 .7-.4 .7 .5 .7-2.4 .7-.7 .7 .9 .7-2 .7 1.9 .7-2.5 .7-.9 .7-.7 .7 .6 .7-3 .7-.2 .7-2.1 .7 0 .7-3.2 .7-1.2 .7 0 .7-1.7 .7-1.6 .9 1.5 .5-1.1 .7 .8 .7 1.7 .7 .7 .7 2.2 .7 .8 .7 .8 .7 2 .7 2.1 .7-.3 .7 1.9 .7 .7 .7 1 .7-.2 .7 .1 .7 1.7 .7 .9 .7-.6 .7-.6 .7 2.3 .7-.4 .7 .8 .7-1.2 .7 2.2 .7-.8 .7 1.7 .7-1.5 .7-.5 .7 1 .7 1.2 .7 0 .7 .4 .7-1.7 .7 1 .7-1.4 .7 .3 .7-.5 .7 1.6 .7 .7 .7-.8 .7 .1 .7 .8 .7-1.4 .7 .6 .7 .7 .7-1.6 .7 1.3 .7-1.6 .7 .7 .7-.5 .7 .6 .7-.7 .7-.4 .7 1 .7-.2 .7 .9 .7-1.7 .7 1.6 .7-1.3 .7 1.2 .7-1.1 .7 2.3 .7-.9 .7 0 .7-.9 .7 1.7 .7-1.3 .7 .5 .7 .5 .7 .1 .7-1.1 .7-.8 .7 2.1 .7-1.7 .7-.5 .7 1.4 .7 .7 .7-1.8 .7 0 .7 1.6 .7-.2 .7-.7 .7 .1 .7 1.1 .7-1.7 .7 .5 .7 .2 .7 .9 .7-1 .7-.6 .7 1.6 .7-.1 .7-1.2 .7 1.3 .7-.2 .7-.6 .7 .4 .7-.2 .7 .4 .7 .2 .7-1.4 .7-.6 .7 .4 .7 .5 .7-.8 .7-.3 .7 0 .7 1.2 .7-.5 .7-1.5 .7 0 .7-.6 .7-.9 .7 .6 .7-1.9 .7-.5 .7-1.4 .7-1.8 .7-1.4 .7-.3 .7-1.6 .7-1.5 .7-1.7 .7-.6 .7-.3 .5-.5 .9 1 .7 1.3 .7 .3 .7 2.6 .7 .9 .7 2.4 .7 1.6 .7 0 .7 2.4 .7 .5 .7 1.8 .7 1.5 .7 .1 .7 1 .7 .6 .7-.6 .7 .9 .7 0 .7 .6"/>
<path stroke="#ff0000" d="M220.0 843.9l.7 3.6 .7-3.7 .7 0 .7 1.1 .7-.5 .7 2.4 .7-2.8 .7 4.3 .7-.1 .7-4.7 .7 3.1 .7-2.4 .7 1 .7 1.1 .7 .5 .7 .3 .7 3.2 .7-4 .7-.3 .7 3.3 .7 2 .7-.2 .7-.4 .7-5.9 .7 6 .7-2.3 .7 1.5 .7-3.4 .7-1.4 .7 4.7 .7-.6 .7 1.5 .7-3.8 .7 .1 .7 5.7 .7-5.6 .7 8.1 .7-6.4 .7 4.2 .7-1.5 .7-.8 .7-1.4 .7 5.3 .7 1.1 .7-1.7 .7-1.2 .7 1 .7-1.6 .7 .2 .7 3.3 .7-6 .7-.6 .7 7.1 .7 .1 .7-4.5 .7 3.5 .7-.3 .7 2.3 .7-8.2 .7 8.3 .7-3.7 .7-.2 .7 2.5 .7-.3 .7-1.5 .7-1 .7 6.1 .7-.7 .7-6.4 .7 3 .7 3.5 .7 1.2 .7 .9 .7-6.2 .7 5.9 .7-1.7 .7-5.5 .7 1.2 .7-.3 .7-1.1 .7 5.1 .7-3.3 .7 3.2 .7-5.1 .7 6.6 .7-1.4 .7 .9 .7-1.3 .7-.9 .7-1.8 .7 6.1 .7-5.8 .7 3.2 .7-2.8 .7 .2 .7 4.7 .7 1.6 .7-3 .7 2.6 .7 .6 .7-2.1 .7 1.9 .7-3.2 .7-.7 .7 .4 .7-1.1 .7 .5 .7 4.6 .7 .9 .7-5.6 .7 4.2 .7 .3 .7-.6 .7-1.2 .7 0 .7 1.4 .7-2.9 .7 3.3 .7-3.7 .7-1.1 .7 5.8 .7-5.7 .7 .5 .7-1.1 .7-.4 .7 .6 .7 5.2 .7-1.5 .7-1.9 .7-2.5 .7 5.6 .7-2.1 .7 2.6 .7-2.3 .7-2.8 .7-.1 .7 4.6 .7-4 .7-.6 .7 1.6 .7-1.1 .7 0 .7 3.5 .7-2.2 .7 3.5 .7-6.1 .7 1.2 .7 3.6 .7-3.3 .7 1.9 .7-2.6 .7-.5 .7 2.9 .7-4 .7 1.5 .7 .1 .7-3.3 .7 .4 .7 .9 .7-1.6 .7 4.4 .7-1 .7-1.8 .7 .1 .7-2.7 .7 2.1 .7 2.7 .7-5.3 .7 3.9 .7 .3 .7-3.1 .7 .5 .7-.9 .7 2.2 .7-1.6 .7-1.9 .7 .5 .7-.8 .7 4.1 .7-2.9 .7-1.4 .7-.5 .7-.1 .7 1.8 .7-4.3 .7-2.8 .7 0 .7-1.9 .7 .2 .7 1.2 .7-3.2 .7 1.9 .7-.9 .7-6.1 .7 1.8 .7-2.8 .7-.6 .7-6.3 .7 0 .7-4.7 .7-3.6 .7-2.9 .7-.9 .7-5.3 .7-3.8 .7-2.5 .7-3.9 .7-3.6 .7-5.4 .7-.9 .7-3.2 .7-1.4 .7-1.3 .4-.1 1 .5 .7 .8 .7 1 .7 3.6 .7 1.4 .7 3.8 .7 3 .7 3.2 .7 4.7 .7 3.3 .7 3 .7 1.7 .7 3 .7-.1 .7 2.9 .7 3.8 .7 .6 .7 1.9 .7 2.9 .7-.9 .7 4.3 .7 .7 .7-2.1 .7 2.6 .7 3.2 .7-2.4 .7-.7 .7 1.3 .7 2.3 .7-1.7 .7 .3 .7 .9 .7 4.1 .7 1.3 .7-3.7 .7 2.8 .7 1.1 .7-2.7 .7 4.7 .7-.4 .7 0 .7-.8 .7 1.9 .7 .5 .7-2.5 .7 .2 .7 4.6 .7-2.1 .7 .3 .7 3.6 .7-.5 .7 .8 .7 1 .7 .7 .7-.5 .7 2.2 .7-.9 .7 .5 .7 .4 .7-4.2 .7 6 .7-.8 .7-3.5 .7 4.3 .7 .4 .7-.7 .7-.8 .7 1.8 .7-1.9 .7 1.8 .7 1.8 .7 1 .7-.7 .7 2.6 .7 .4 .7 .5 .7-1.7 .7-1.9 .7-1.1 .7 3.3 .7-.5 .7-3.4 .7 .7 .7 5 .7-1.3 .7 1 .7-3.5 .7 .9 .7 1.3 .7-.9 .7-2 .7 3.1 .7 1.5 .7-1.8 .7 3.8 .7 .2 .7-5.6 .7 2.5 .7 1.3 .7-1.2 .7 3.7 .7-4.2 .7 3.8 .7-3.4 .7 3.6 .7-4.7 .7 4.9 .7 .2 .7-1.5 .7-1.5 .7 .6 .7-1.7 .7 .9 .7 1.5 .7 0 .7-.3 .7 2.5 .7-4.1 .7 3.6 .7 .6 .7-3.2 .7-1.8 .7 4.8 .7-.5 .7-1.4 .7 2.8 .7-4 .7 3 .7-.4 .7-1.6 .7 2.4 .7-4.2 .7 1.2 .7 1.1 .7 2.9 .7-1.2 .7-4.2 .7 3.6 .7-2.8 .7 1.7 .7 3.7 .7-4.1 .7-1 .7 5 .7-4.4 .7 2.2 .7-2.1 .7 4 .7-1.3 .7 .2 .7-4.2 .7 1.6 .7 2.9 .7-3.3 .7-1 .7 4.5 .7-3.4 .7 1.9 .7-2.3 .7-.4 .7 2.1 .7 .8 .7 .7 .7 .9 .7-2.5 .7 .9 .7-2.3 .7 3.3 .7-3.2 .7-1.7 .7 1.1 .7-.3 .7 2.9 .7-2.6 .7 1.7 .7-.7 .7 2.6 .7-2.9 .7-.4 .7 .2 .7-.6 .7 2.5 .7-.7 .7 .9 .7-3.1 .7 3.9 .7-1.3 .7 2.5 .7 .2 .7-5.2 .7 3.2 .7-2 .7 2.3 .7-3.2 .7 2.2 .7 .9 .7-1.2 .7-1.6 .7 2.5 .7 1.1 .7-3.6 .7-.9 .7 1.8 .7 .2 .7 0 .7 3.3 .7-4.1 .7-1.1 .7-.2 .7 2.7 .7-1.3 .7 1.2 .7 1.2 .7-2.4 .7-1.3 .7 4.8 .7-4.5 .7 .8 .7-1.8 .7 3.6 .7-2.4 .7 3 .7-2.2 .7 2.2 .7-3.4 .7 2.4 .7-4.9 .7 1.5 .7-.5 .7 .4 .7-1.3 .7 .5 .7 4.5 .7-5.8 .7 2.8 .7 2.7 .7-3 .7-.2 .7 .3 .7-2.9 .7 .2 .7 3.2 .7-.9 .7-2.8 .7 1.6 .7 3.4 .7-5.5 .7 4.1 .7 .9 .7-2.8 .7-2.8 .7 2.2 .7 2.2 .7-.9 .7 1.2 .7-2.5 .7-3.7 .7 0 .7 5.4 .7-2.1 .7 2.5 .7-.7 .7-1.7 .7-.6 .7 1.2 .7-4.6 .7 1.5 .7 2 .7-.8 .7-2.5 .7 1.3 .7-1.2 .7 5.1 .7-4.7 .7 3.2 .7-3.6 .7-.7 .7-.9 .7 1.7 .7 2.9 .7 0 .7-3 .7 1.8 .7-1.8 .7 1.8 .7-5.3 .7 .2 .7 0 .7 3.6 .7 .7 .7-1 .7 1.1 .7-6.2 .7 .9 .7-.2 .7 .9 .7-.1 .7-.2 .7-2 .7 1.7 .7 .1 .7 .2 .7-4.5 .7 3.9 .7-4.9 .7 0 .7 1.7 .7-5.1 .7 .4 .7-1.5 .7-2.6 .7-1.4 .7-.6 .7 0 .7-3.4 .7-.8 .7 1.4 .7-3.4 .7-2.5 .7 .5 .7-2.8 .7-3.1 .7-.6 .7-4.1 .7-1.1 .7-.4 .7-2.5 .7-2.1 .7-1.1 .7 .7 .7-1.3 .7 .7 .7-.8 .7 1.1 .7 .2 .7 2.2 .7 1.2 .7 1.8 .7 .4 .7 2.1 .7-.2 .7 2.6 .7 1.7 .7 1.2 .7-.3 .7 .3 .7 3 .7 1.6 .7 .3 .7-.1 .7 1.9 .7 .3 .7 3.5 .7 .1 .7 .5 .7 1.1 .7 1.6 .7 .5 .7-3.5 .7 .5 .7 4.3 .7-2.3 .7 1.9 .7-1.2 .7 2.1 .7 .1 .7-1.6 .7 2.2 .7-2.7 .7 .4 .7 2.3 .7 2.2 .7 .6 .7-3.9 .7 1.6 .7-.5 .7 3.7 .7-1.9 .7-.2 .7 .8 .7 0 .7 .8 .7-1.9 .7 .3 .7 1 .7-.4 .7 4.1 .7-3.5 .7 3.7 .7-2.4 .7 3.5 .7-3.6 .7 2.2 .7 .8 .7-3 .7 2.6 .7-.2 .7 1.5 .7-2 .7 .6 .7-2 .7 3.2 .7 1.5 .7-.7 .7 .3 .7 0 .7-2.3 .7 3.6 .7-3.8 .7 2.1 .7 1.9 .7-.1 .7-2 .7 .4 .7 1.4 .7-.5 .7-.9 .7 .8 .7 2.5 .7-1.1 .7 .5 .7-1.6 .7-.2 .7 4.3 .7-.1 .7-1.6 .7 .8 .7 .1 .7-.9 .7-1.5 .7-.2 .7 3.6 .7 .7 .7-3.2 .7 3.9 .7-3.4 .7 4.4 .7-1.4 .7 .2 .7 2.5 .7-1.1 .7-.9 .7 1.4 .7-1.8 .7-.9 .7 2.4 .7 .1 .7-1 .7-1.5 .7 3.3 .7-.7 .7-2.9 .7 2.3 .7-.3 .7-2.3 .7 3 .7-2.5 .7 2.9 .7 .1 .7 1.4 .7-2.4 .7 1.6 .7 1 .7-2.8 .7 .8 .7 2 .7 1.3 .7-1.9 .7 2.4 .7 .2 .7-2.7 .7-.1 .7 1.3 .7-.1 .7 1.2 .7-3.3 .7 3.3 .7-2 .7-.9 .7 .5 .7-.8 .7 .5 .7 2.4 .7-1.8 .7 2.7 .7-.9 .7-1.1 .7 .2 .7 1 .7 .3 .7-1.4 .7-1.4 .7 2.8 .7-1.2 .7 2.4 .7 .6 .7-2.7 .7 .1 .7 3.3 .7-1 .7 0 .7-2.8 .7 3.6 .7-1.8 .7-.6 .7-1.3 .7 2.5 .7 .5 .7-2.1 .7 1.9 .7-.5 .7-2.4 .7 2.2 .7-3.2 .7 2.1 .7 0 .7 1.3 .7 0 .7-1.2 .7-3.3 .7 .5 .7 2.8 .7 1.4 .7-4.8 .7 4.3 .7-1.7 .7 1 .7-3.8 .7 2.3 .7 3.3 .7-4.6 .7 .5 .7 1.3 .7 .7 .7-2.6 .7 .2 .7 3.3 .7-3.8 .7 1.3 .7 0 .7-.3 .7 4.1 .7-4.8 .7 2.7 .7-3.2 .7 4.6 .7-1.3 .7-3.6 .7 2.3 .7-.3 .7-3.7 .7 5.7 .7-4.2 .7 3 .7-4 .7 2.6 .7-.5 .7 2.5 .7-2.9 .7-.9 .7 1.3 .7-1.2 .7 6.5 .7-4.2 .7 3.8 .7-2.5 .7 2.8 .7-3 .7-2.2 .7 .3 .7 1.1 .7-2 .7 3.5 .7-3.8 .7 2.8 .7 .5 .7 2.7 .7-3.4 .7 2.9 .7-2.6 .7 .7 .7 1.2 .7-2 .7 2.5 .7-.5 .7-3.1 .7 2.2 .7-3.6 .7 .5 .7 3.9 .7-3.6 .7 3.8 .7-4.7 .7 1.8 .7-1.9 .7 3 .7-.4 .7-2.2 .7-.8 .7 4.6 .7-1.4 .7-.3 .7 .7 .7-3.9 .7 .6 .7 4.3 .7-3 .7 2.1 .7 .6 .7 0 .7 0 .7-.9 .7-3.6 .7 2.5 .7-.4 .7-1.7 .7 2.4 .7-1.9 .7-1.1 .7 2.6 .7-2.2 .7 4.8 .7-4.5 .7 1.2 .7 .5 .7-1.5 .7 1.5 .7 .1 .7-2.5 .7 .1 .7 2.1 .7-1.4 .7 2.8 .7-4.7 .7 4.8 .7-4.6 .7-.4 .7 2.5 .7 2.3 .7-1.7 .7-2.2 .7 2.2 .7-.4 .7-2.5 .7 2.8 .7 1.5 .7 0 .7-2.2 .7 0 .7 .9 .7 1.1 .7-2.4 .7 .6 .7 0 .7 2.9 .7-.1 .7 1.5 .7-3.5 .7 .4 .7 3.4 .7-3.8 .7 1.7 .7-2.6 .7 3.4 .7-3.6 .7 4 .7-2.5 .7 2 .7 .5 .7-2.7 .7 .4 .7-1.2 .7 2.3 .7 .1 .7 1 .7-2.3 .7 .8 .7 .4 .7 1.8 .7-2.1 .7 2.3 .7-1.3 .7 1.1 .7-.1 .7-3 .7 2.9 .7-2.3 .7 2.2 .7-1.8 .7 1.6 .7-1.5 .7-2.3 .7 2.4 .7-2.2 .7 4.4 .7 .5 .7-4.2 .7 4 .7-1.9 .7 1.1 .7-.2 .7-2.3 .7 3 .7-4.7 .7 5.7 .7-3.2 .7 3.1 .7-4.2 .7 4.1 .7-3.4 .7 3.8 .7-.5 .7 1.1 .7-1.1 .7-3.3 .7 0 .7 3.7 .7 .6 .7 .5 .7-1.1 .7 1.6 .7-4.3 .7-.1 .7-2 .7 4.5 .7-4 .7 2.7 .7-.7 .7 .4 .7-1.6 .7-2.8 .7 4.7 .7 .5 .7-5.4 .7 5.5 .7-2.3 .7 1.3 .7 .5 .7-.5 .7-2.2 .7 1.4 .7-4.1 .7 2 .7 .3 .7-2.9 .7 5 .7-.1 .7-2.2 .7-1 .7-1.1 .7 5.8 .7-5.5 .7-.3 .7 1.9 .7 4 .7-6 .7 .2 .7 1.4 .7 .8 .7 2 .7-3.3 .7 1 .7 2.8 .7-3.8 .7 0 .7 4 .7-.7 .7 1.3 .7-1 .7-1.2 .7-4.3 .7-.2 .7 .6 .7 3.1 .7-3.2 .7-2.2 .7 5.9 .7-4.1 .7-2.3 .7 4.8 .7-.4 .7-2.8 .7-1.4 .7 4 .7-4.8 .7 4.2 .7-1.8 .7 2.2 .7-4.1 .7 3.1 .7-2.1 .7-2.2 .7 1.9 .7-2.2 .7-.4 .7-1.3 .7 1.9 .7-1.2 .7-.7 .7-2.6 .7 5 .7-4.5 .7 3.9 .7-5.2 .7-1.7 .7 5.3 .7-2.3 .7 .3 .7-2.5 .7-2.8 .7 3.9 .7 .1 .7-3.4 .7-2.8 .7 .1 .7 2 .7-6 .7 .5 .7-2.4 .7 1.4 .7-1 .7-2.6 .7-.1 .7-.1 .7-3.7 .7 .1 .7 .3 .7-3.6 .7 1.6 .7-2.4 .7-.9 .7-.9 .7 .5 .7 0 .7-1.2 .7 .6 .7-1.2 .7 1.7 .7-.2 .7-.9 .7 2 .7 .8 .7-.4 .7 1.2 .7 .7 .7 .4 .7-.9 .7 .3 .7 2.1 .7 2 .7 1.4 .7-.7 .7 .7 .7 1.7 .7-1.1 .7 4 .7-1.4 .7 0 .7 4.2 .7-2.7 .7 2.7 .7-.8 .7 4.4 .7-1 .7-3.2 .7 4.8 .7-2.9 .7 2.7 .7 1 .7 .6 .7 .9 .7-1.3 .7 1.4 .7-4.4 .7 4.1 .7 .6 .7 2.2 .7-3.3 .7-2.2 .7 3.5 .7-1 .7 1.1 .7-3.6 .7 .1 .7 3.5 .7 1.1 .7-1 .7-2.4 .7 2.2 .7 1.6 .7-.3 .7 0 .7-2.5 .7 3.5 .7-4.3 .7 4.9 .7-6.2 .7-.5 .7 1 .7 3.2 .7 2.1 .7-5.4 .7 2.9 .7-3.8 .7 2.7 .7 2.8 .7 .2 .7-.1 .7-1.7 .7-4 .7 4.9 .7 .4 .7-3.3 .7 4.4 .7-2.4 .7-1.9 .7-4.7 .7-.8 .7 3.6 .7-.2 .7 .4 .7-.1 .7 1.3 .7-1.6 .7-4.1 .7 .7 .7 .4 .7-.9 .7 5.5 .7-6.7 .7 .5 .7 3.7 .7-2.9 .7 .6 .7 1.8 .7 2.4 .7 .3 .7-2.9 .7 3.2 .7-4.4 .7-1.7 .7 3.6 .7 2.4 .7-6.5 .7 5.1 .7-3.3 .7 5.1 .7 2.9 .7-1.3 .7-.3 .7-.8 .7 2.2 .7-1.2 .7-1.8 .7-1.2 .7-.6 .7 4.1 .7-6.1 .7 3 .7-1.4 .7 1 .7-.7 .7-1.7 .7-1.1 .7 6.2 .7-6.5 .7 1.7 .7-1.5 .7 1 .7 3.2 .7-1.9 .7-.5 .7 5.6 .7-2.6 .7 2.1 .7-.5 .7-1.4 .7 4.3 .7-6.4 .7 3.2 .7-3.2 .7 5.6 .7-1.7 .7 .9 .7 1.4 .7 .1 .7-.5 .7-1.2 .7 1.3 .7-.3 .7-.5 .7-2.6 .7 2.1 .7-.5 .7 2.7 .7 1 .7-3.6 .7 1.2 .7 1.4 .7-3.7 .7 5.2 .7-3.9 .7 .5 .7 2.1 .7 1.3 .7-2.8 .7 1.8 .7-2.3 .7-.7 .7 2.6 .7-.3 .7 2.7 .7-4.6 .7 .8 .7 .2 .7 3.2 .7 .2 .7 3.1 .7-5 .7 3.4 .7 .2 .7-.2 .7-3.1 .7 3.9 .7-.1 .7-.2 .7-1.5 .7 1.4 .7-.6 .7 2.4 .7 1 .7-4.7 .7 4 .7-4.9 .7-.6 .7 4.6 .7-3.5 .7-.9 .7 1.2 .7 5.3 .7-5.6 .7 1.8 .7 4 .7-6.4 .7 5.7 .7-4.9 .7 3.4 .7-4.5 .7 0 .7 2.1 .7-.6 .7 1.3 .7 .7 .7-3.1 .7 3.7 .7 2.1 .7-1.7 .7-.8 .7-.8 .7-3.1 .7 1.1 .7 1.7 .7-2.2 .7 .2 .7-.3 .7 2.7 .7-1.2 .7-3.1 .7 4.3 .7-2.1 .7-1.8 .7 2.5 .7 2.2 .7-1.7 .7-1 .7-2.4 .7 2.9 .7 3.2 .7-5.8 .7 5.4 .7-4.3 .7 3.1 .7 .8 .7 .1 .7-1.1 .7-.4 .7-1.1 .7 2.1 .7-.4 .7 .3 .7-2.6 .7-1.6 .7 .1 .7 0 .7 2 .7 1.4 .7 1.4 .7-3.2 .7 4.2 .7-4.9 .7 4.7 .7-1.2 .7-3.5 .7 .4 .7 .4 .7-.4 .7 4.8 .7-5.5 .7 2 .7-1.8 .7 3 .7 .9 .7-1.1 .7-1.1 .7-2.6 .7 2.3 .7-2.1 .7 3.2 .7 .7 .7-.2 .7-1 .7 1.5 .7-3.5 .7 1.1 .7 5.3 .7-6.1 .7-1.3 .7 4.3 .7-.1 .7-3.2 .7 2.2 .7 3 .7-1 .7-4.4 .7 3.2 .7-1 .7-1.6 .7 2.7 .7-4 .7 .5 .7 .8 .7 3.6 .7-3.7 .7-1.2 .7 4.6 .7-4.9 .7 .5 .7 4.8 .7-2.8 .7-4.1 .7 4.3 .7-1.5 .7-.5 .7-.1 .7 3.5 .7-4.2 .7 5.9 .7-2 .7-4.9 .7 5.4 .7-1 .7-2.9 .7-.2 .7 4.5 .7-3.4 .7-1.5 .7 4.2 .7-1.6 .7-.7 .7 2.4 .7-4.5 .7-.4 .7 3.9 .7 2.8 .7-4.4 .7-.8 .7 .6 .7-1.5 .7 1.3 .7 4.4 .7 0 .7-3.4 .7-2.6 .7 1.6 .7 3.9 .7-.3 .7-.9 .7-3.1 .7 3 .7-2.2 .7 .8 .7 .8 .7 3.2 .7-3.9 .7 1.8 .7 1.5 .7-4.4 .7 2.1 .7-2.5 .7 4.3 .7-5.2 .7 4.8 .7 2.8 .7-6.1 .7-.2 .7 4.5 .7-1.8 .7-.9 .7 1 .7 3.1 .7-1.8 .7 3 .7-3.3 .7-1 .7-2.6 .7 1.3 .7-2.5 .7 2.8 .7-2.7 .7 4.6 .7-4.2 .7-.8 .7 7 .7-3.9 .7 1.4 .7-1.5 .7 5.1 .7-1.6 .7-5 .7 .3 .7 3.3 .7 1.6 .7-1.2 .7 1.1 .7-1.9 .7 .7 .7-1.3 .7 2.2 .7-.7 .7-2 .7 3.2 .7 .9 .7-4.3 .7-.1 .7-.3 .7 4.7 .7 .7 .7-4.7 .7 5.9 .7-.6 .7-3.6 .7 2.8 .7-2 .7-2.6 .7 2.5 .7 0 .7-.3 .7 1.6 .7-.3 .7 0 .7 .9 .7 .2 .7-3.1 .7 5.5 .7-1.8 .7-2.9 .7 .2 .7 5 .7-.4 .7-2 .7 2.4 .7-4.4 .7 5.5 .7-4.1 .7 2 .7-1 .7 1.4 .7-2.6 .7-.9 .7-.7 .7 1.9 .7-.3 .7-.8 .7 2.2 .7 1.5 .7-4.8 .7-.3 .7 3.8 .7 1.9 .7-.9 .7-3.7 .7 .3 .7 2.2 .7-3 .7 1.9 .7 .2 .7 2.4 .7-1.5 .7 .9 .7-1.9 .7 .3 .7-1.9 .7 4.4 .7-3.2 .7-.1 .7 4.1 .7-1.9 .7 2.3 .7-4 .7 3.9 .7-4.1 .7 4.8 .7-3.8 .7 2.3 .7 1.1 .7-1.4 .7 1.9 .7-1.1 .7-.4 .7 1.9 .7-2.3 .7 2.5 .7 .1 .7-1.8 .7-1.2 .7 2.5 .7-.2 .7 1 .7-1.3 .7 1.7 .7-2 .7 2 .7-2.4 .7-1 .7 2.8 .7-4.2 .7 1.1 .7 3 .7 .6 .7-2.8 .7 1.3 .7-1.4 .7-.4 .7 2.4 .7-3.4 .7 2.5 .7 1.3 .7-2.3 .7 3.1 .7-3.2 .7 .5 .7-1.4 .7 .8 .7 2.7 .7-2.1 .7-.2 .7 .6 .7-.9 .7 1.2 .7 .7 .7-2.5 .7 1.6 .7-1.3 .7-1.1 .7 3.3 .7 1.2 .7-.9 .7-2.1 .7-1.5 .7 3.6 .7-2 .7 1.6 .7-2.8 .7 1.8 .7 .7 .7-.2 .7-1.9 .7 3.2 .7-1.1 .7-2.4 .7 0 .7 2.9 .7-2.6 .7 .4 .7 1.4 .7-1.3 .7-.2 .7 1 .7-.2 .7 .1 .7 2.3 .7-3.3 .7 1.9 .7 1.6 .7-.9 .7-2.4 .7 0 .7 3.7 .7-.6 .7-.4 .7-1.3 .7-.1 .7 .2 .7-.3 .7 1.7 .7-2.5 .7 .8 .7 1.1 .7-.7 .7-1.2 .7-.7 .7 2.5 .7 1.6 .7-1.1 .7 1.3 .7-1.2 .7 .2 .7 .6 .7 .1 .7-.9 .7 .7 .7-1.4 .7-2.1 .7 .3 .7 1.7 .7-1.7 .7-.1 .7 1.9 .7-.7 .7-.7 .7 3.5 .7-1.4 .7 2.1 .7-.1 .7-1.8 .7-.8 .7 .5 .7 2.7 .7-.7 .7-1.2 .7 1.3 .7 0 .7-1.2 .7-1.5 .7 3 .7-1.8 .7 .7 .7-2.3 .7 1.2 .7-.8 .7-.7 .7 3.3 .7-3.4 .7 2.7 .7-1.7 .7 2.4 .7-.9 .7-2 .7 .6 .7 .5 .7 2 .7-1.7 .7 2.3 .7-2.7 .7 2.1 .7-2.9 .7 2.5 .7-.8 .7 1.7 .7-3.3 .7 .3 .7 1.8 .7-3.1 .7 .6 .7 3 .7-.5 .7-.9 .7 .6 .7-1.4 .7-.3 .7-.7 .7 4.1 .7-2.6 .7 1.3 .7 .2 .7 .3 .7-2 .7 2.2 .7-1.7 .7 .6 .7 1 .7 1.5 .7-2.4 .7-.2 .7 2 .7-2.9 .7 2 .7 2.4 .7-1.9 .7-1.8 .7 .7 .7-.7 .7 1.9 .7 .6 .7-2.6 .7 2.7 .7-2.4 .7-1.1 .7 2.5 .7-2.3 .7 3.1 .7-.4 .7-.5 .7 .3 .7-1.5 .7 1.9 .7-.7 .7-1.5 .7-1 .7-.5 .7 1.9 .7 .9 .7-2.4 .7 .2 .7-.8 .7-.3 .7 .8 .7 2.1 .7-1.3 .7 .1 .7 1.8 .7-1 .7 1 .7 .7 .7-1.1 .7-.9 .7-2.2 .7 .2 .7 3.2 .7-3.2 .7 2.4 .7-1.8 .7 3.2 .7-.6 .7-2 .7 2.4 .7-1 .7-.9 .7 1.1 .7 2.2 .7-3.5 .7 3.3 .7-3.6 .7 .5 .7 .1 .7 1.7 .7 2 .7-4 .7 .2 .7 1.2 .7-1.8 .7 1.3 .7-1.6 .7-1.4 .7 1.3 .7-1.1 .7 3.5 .7-2.6 .7 .1 .7-1.2 .7 2.5 .7-2.3 .7 2.7 .7 1 .7-.5 .7 .7 .7-1.4 .7-1.6 .7 2.9 .7-1.6 .7 2.1 .7-.9 .7-2.8 .7 2.7 .7-.6 .7-.5 .7 .7 .7-.4 .7-1 .7 .3 .7-1.5 .7 2.5 .7-.3 .7-1.1 .7 .6 .7 1.7 .7-.8 .7 2.3 .7-2.1 .7-.3 .7-.1 .7 2.3 .7-.9 .7 1.6 .7-3 .7 3.2 .7-2.7 .7 2.2 .7 .2 .7-1.7 .7 1.1 .7-1.5 .7 .8 .7 1 .7-4.5 .7 3.6 .7-.3 .7 .4 .7-2.7 .7-.5 .7 1.3 .7 .8 .7-.5 .7-.2 .7-.4 .7 1.3 .7-1.8 .7 3 .7-.3 .7-.2 .7-2.1 .7-1 .7 1.5 .7 1.2 .7-2.4 .7 1.3 .7-2.7 .7-.4 .7 1.5 .7 .7 .7 .5 .7-1.6 .7-.6 .7 2.9 .7-.5 .7-1.1 .7 1.1 .7-1 .7 2.2 .7-1.5 .7 .6 .7 .9 .7-.7 .7-1 .7-.7 .7 .4 .7-2.1 .7 .4 .7 1 .7-1.7 .7 .3 .7 1.2 .7-.6 .7 0 .7-2.6 .7 1.7 .7-2.1 .7-.1 .7 2.6 .7-.6 .7-1.2 .7 .2 .7 .8 .7-3.4 .7 1.5 .7-.8 .7-1.6 .7 1.3 .7 .1 .7-2.1 .7 .6 .7-.3 .7-.5 .7-.5 .7-2.1 .7-.5 .7-1.7 .7-2.7 .7 1.8 .7-.7 .7-1.3 .7-1.3 .7-1.5 .7-3.5 .7-2.5 .7-1.2 .7-1.8 .7-.9 .7-1.5 .7-1.8 .7-.5 .7-1.4 .7-1.4 .7-.8 .7-1.4 .7-1.5 .7-.3 .3-.1 .4 .3 .7-.6 .7 1.4 .7-.7 .7 1.5 .7 .9 .7 .8 .7 1.6 .7 .8 .7 1.6 .7 1.8 .7-.5 .7 2.1 .7 .5 .7 .4 .7 2.4 .7 2.3 .7 0 .7 1.2 .7 2.1 .7-1 .7 2.1 .7-.3 .7 .1 .7 3.4 .7-.4 .7-1.9 .7 .5 .7 1 .7 1.8 .7-1 .7-1.9 .7 4.9 .7-.4 .7-2.6 .7 4.6 .7-2.4 .7-2.8 .7 2.6 .7-1.4 .7 4 .7-.1 .7-1.6 .7-1.2 .7 5.4 .7-3 .7-1.1 .7 5 .7 .4 .7-4.5 .7 1.3 .7-2 .7 0 .7 5.2 .7-.2 .7 .1 .7-3.1 .7-.9 .7 4.6 .7-3.8 .7 4.9 .7-1.7 .7-.7 .7-2.7 .7 2.9 .7-.7 .7 3.5 .7 .1 .7-.1 .7 .5 .7 1.1 .7 .8 .7-.8 .7-3.3 .7 .2 .7 4.2 .7-2.1 .7 .1 .7-.1 .7 .9 .7 .1 .7-1 .7 3.2 .7-2.5 .7-.1 .7 2.1 .7-3.6 .7 .6 .7 3.6 .7-1.1 .7-1.1 .7 2.1 .7-2.2 .7 2.3 .7 1.5 .7-2.6 .7 1.2 .7-1.5 .7-.5 .7 2.4 .7-1.2 .7 1.1 .7 .9 .7-2.3 .7-.6 .7-.6 .7 .8 .7-.5 .7 .5 .7 1.8 .7-.8 .7-1 .7 .6 .7-.9 .7 2.4 .7 .4 .7-1.5 .7 1 .7 .6 .7-2.6 .7-.2 .7 .1 .7 .5 .7-.9 .7-.1 .7 2.9 .7-1.2 .7-1.5 .7 2.3 .7-2.2 .7 1.6 .7 1.1 .7-2.8 .7 .2 .7 .5 .7 1.5 .7 1.2 .7-1.2 .7-.2 .7 .1 .7-.9 .7-.2 .7 1.9 .7-.3 .7-1.1 .7-.1 .7 .5 .7 1.7 .7-2.3 .7 1.3 .7-.7 .7 1.1 .7-1.7 .7 .7 .7-1.1 .7 2.5 .7-1.7 .7-.2 .7 2 .7 .2 .7 .1 .7-.9 .7 1.4 .7-2.6 .7 .4 .7-.2 .7 1 .7 0 .7-.8 .7 .7 .7-1.3 .7 .5 .7 .4 .7-.7 .7 .6 .7-1.5 .7 1.6 .7 1.3 .7-2.8 .7 3.2 .7-3.3 .7 1.6 .7-.3 .7-1.1 .7 1.3 .7-1.1 .7 1.9 .7 .8 .7-1.8 .7-1.2 .7 1.8 .7-.5 .7-.2 .7-.1 .7 1.7 .7-.6 .7-2.9 .7 .9 .7 2.5 .7-2.6 .7 2.1 .7-2.2 .7 3.9 .7-.2 .7 .1 .7-1.6 .7 2.2 .7-1.5 .7-.8 .7 2.4 .7-4.2 .7 3.6 .7-2 .7 1 .7-.3 .7-2.3 .7 2.4 .7-1.2 .7 .1 .7 2 .7 1 .7-1.9 .7 2.7 .7-1 .7 1.5 .7-.3 .7-.7 .7 1.1 .7-1.8 .7-2.1 .7 2.3 .7 1.1 .7-1.8 .7-2.1 .7 3.1 .7-.9 .7 .7 .7-.5 .7 1.3 .7-2 .7 .3 .7-1.4 .7 2.9 .7 .8 .7-.2 .7-.3 .7-3.9 .7 4.1 .7-2.8 .7 2.1 .7-1.4 .7 2.6 .7 .3 .7-2.5 .7 1.9 .7-.9 .7-.8 .7-1.5 .7 .6 .7 .5 .7-.9 .7 2.7 .7-1.3 .7 2.4 .7 .3 .7-.7 .7-1.4 .7 2.1 .7 .1 .7-.3 .7-1.3 .7-.1 .7-.9 .7 1.8 .7 .9 .7 .1 .7-2.2 .7 .1 .7-.5 .7-1.2 .7 3.2 .7 1 .7-2.2 .7-1.2 .7 1.6 .7-1.2 .7 .9 .7-.1 .7 .2 .7 1.8 .7-1.9 .7 1.5 .7-1.5 .7-1 .7 .9 .7 .1 .7 .4 .7-1.3 .7 3 .7-3.2 .7 0 .7-.3 .7 .3 .7-.1 .7 1.4 .7-1.1 .7 .5 .7 .4 .7 .3 .7 1.3 .7-.8 .7 1 .7-1.6 .7 .4 .7-.2 .7 .7 .7-.2 .7-1.4 .7 3.1 .7 .6 .7-2.1 .7 1.8 .7 .2 .7-2.8 .7-1 .7-.7 .7 2 .7 1.5 .7-3.1 .7 1.6 .7-.2 .7 .8 .7-1.4 .7-2.3 .7 .5 .7 2.7 .7-1.2 .7 .4 .7-2.8 .7 2.5 .7-1.1 .7 1.9 .7-1.2 .7-.3 .7-1 .7 .3 .7-.2 .7-.3 .7 .8 .7 1.2 .7-.1 .7-1.3 .7 1.5 .7-2.4 .7 2.2 .7-1.5 .7-.1 .7 .4 .7 .9 .7-2.2 .7 1.1 .7 .5 .7-.4 .7-1.2 .7 1 .7-.1 .7 .6 .7-.8 .7 .3 .7-.1 .7-1.5 .7 1.1 .7 .5 .7 .3 .7-1.9 .7 1.3 .7-.2 .7-.7 .7 1.6 .7-1.8 .7 1.7 .7-.9 .7-.6 .7 0 .7 .4 .7 .9 .7-.7 .7-.1 .7 .5 .7-.5 .7 .4 .7-.7 .7 1.2 .7 .6 .7-1.1 .7-.4 .7 .3 .7 1 .7 .2 .7 .1 .7-1.5 .7-.3 .7 .7 .7 1.5 .7-.1 .7-1.4 .7-.3 .7 1.5 .7-1.3 .7 .5 .7 .2 .7 .8 .7-.4 .7-1.9 .7 2.3 .7-1.4 .7 2.1 .7-.6 .7-1.5 .7 .2 .7 .9 .7 .2 .7-.5 .7 1 .7 .6 .7-.8 .7-1.5 .7 .3 .7 .8 .7-1 .7 .3 .7 2.3 .7-2 .7 2.3 .7 0 .7-1.7 .7 1.2 .7-1.9 .7 1.1 .7 .5 .7-1.3 .7-.2 .7 1.8 .7-2.6 .7 2.8 .7-.6 .7-.5 .7-.3 .7-1.6 .7 .8 .7-.1 .7 .9 .7-.3 .7 1.8 .7-2.9 .7 1.7 .7-.1 .7 .1 .7-1.2 .7 1.5 .7-.1 .7 .7 .7 .7 .7 .9 .7-1.2 .7-.5 .7 1.6 .7-2.7 .7 1.4 .7-.8 .7 1 .7-.3 .7 1 .7-.1 .7-2 .7 2.3 .7-.9 .7-.1 .7-.9 .7-.2 .7 1 .7 0 .7 1.6 .7-.9 .7-.5 .7-1.2 .7 3 .7-1.4 .7-.8 .7-1.2 .7 1.4 .7 1.3 .7 .3 .7-3.3 .7 2.9 .7-1 .7 .4 .7 1.5 .7 .1 .7-3 .7 .7 .7-.2 .7 .4 .7 .3 .7 1.6 .7-1.1 .7-.9 .7 .5 .7 0 .7-.1 .7 .2 .7 .4 .7-2.2 .7 .8 .7 0 .7 1 .7-2 .7 .6 .7 1.8 .7-1.5 .7 1.9 .7-1.2 .7 .7 .7-.6 .7-1.7 .7 2 .7-.9 .7 .5 .7-1 .7-.5 .7 .5 .7 .1 .7 0 .7-.8 .7 .5 .7-.3 .7 1.7 .7-2 .7 .1 .7 2.5 .7 .5 .7-.1 .7 0 .7-2.1 .7 1.5 .7-.7 .7 .7 .7-.8 .7 .3 .7-.9 .7 .7 .7 .4 .7-.4 .7 .3 .7 .3 .7 1.3 .7-.7 .7-1.3 .7 2.2 .7-.9 .7-.3 .7-1.3 .7 .2 .7 2 .7-.3 .7-.6 .7 1 .7-.1 .7-.4 .7-2.1 .7 .3 .7 .9 .7 1.1 .7-2.3 .7 .1 .7 1.6 .7-.9 .7-.5 .7 1.1 .7-.3 .7 1.8 .7-.1 .7-2.1 .7-.5 .7 2.2 .7-2.5 .7 2.4 .7-2.3 .7 2.7 .7-1.9 .7 .9 .7-.2 .7-1.9 .7 .6 .7 .3 .7 0 .7 .8 .7 .5 .7-1.1 .7-.4 .7-.1 .7 1.8 .7 .4 .7-1.9 .7 2 .7-1.2 .7-.6 .7 2.1 .7-2.1 .7-.2 .7 1.9 .7 0 .7-2 .7 2.3 .7-.3 .7 .3 .7-.7 .7-.1 .7 .5 .7-.2 .7-.4 .7-1.4 .7 .5 .7-.7 .7 .9 .7 1.2 .7-.3 .7 .1 .7-.2 .7 .9 .7-.4 .7-1.5 .7 1.4 .7-.5 .7-.9 .7 1.5 .7-.7 .7 .6 .7 0 .7-.2 .7-1.5 .7 .9 .7 1.3 .7-1.3 .7-.4 .7-.1 .7 .4 .7 0 .7-1 .7 .4 .7 .6 .7-.6"/>
<path stroke="#0000ff" d="M220.0 1001.3l.7 0 .7-.3 .7-5.4 .7-1.7 .7 8.7 .7-3.2 .7-5.8 .7 8.7 .7 .7 .7-6.5 .7 5 .7-6.5 .7 3.3 .7 3.6 .7-3.3 .7 1.2 .7-3 .7 6.2 .7-2.4 .7-1.7 .7 4.4 .7 1.8 .7-3.4 .7 1.6 .7 2 .7-7.1 .7 4.4 .7 2.8 .7-5.8 .7 1.1 .7 2.6 .7 1.6 .7-.7 .7 .3 .7-2.8 .7 4.7 .7-2.3 .7-1.3 .7 5.5 .7-1.7 .7-1.1 .7 1.5 .7-1.4 .7-2 .7 2.5 .7 .6 .7-.1 .7-1 .7 1.9 .7 .2 .7-.2 .7-2.1 .7-.1 .7 1.5 .7 .9 .7-1.8 .7 1.9 .7-.4 .7-1.6 .7 1.8 .7 0 .7 2.4 .7-3.7 .7 3.6 .7 0 .7-1.3 .7-1.7 .7 2.5 .7-2.7 .7 .6 .7 1.4 .7-1 .7 .1 .7-.7 .7-1 .7 1.4 .7 2.1 .7 .2 .7-2.9 .7 2.3 .7-.6 .7 .5 .7 2.7 .7-.5 .7-1 .7 .2 .7 2 .7-2.1 .7 1.8 .7-.1 .7 .2 .7-1.1 .7 1 .7 .7 .7-2.3 .7 1.9 .7-1.1 .7 .2 .7-.3 .7-.3 .7 1.6 .7-1.4 .7-.8 .7 2.7 .7-1.5 .7 1 .7 1.8 .7-1.3 .7-.3 .7-.9 .7 1.9 .7 1.1 .7-1 .7 .3 .7-1.8 .7-.1 .7 .2 .7 .5 .7 1.7 .7-1.9 .7-1.3 .7 1.3 .7-1.2 .7 1.4 .7-1.3 .7 2.5 .7-2.2 .7 .6 .7 .1 .7-.6 .7 2.5 .7-3.7 .7 3.1 .7-1.8 .7-.6 .7 .6 .7 2.6 .7 .7 .7-.5 .7-1.9 .7 1 .7-1.5 .7 1.4 .7-.4 .7-.8 .7 1.3 .7 2.8 .7-1.5 .7-1 .7-.5 .7 3.5 .7-3.4 .7-.2 .7 .4 .7 2.8 .7 .8 .7-3.6 .7 2.3 .7 .1 .7-.5 .7-2.3 .7 3.2 .7-1 .7 2.5 .7 .5 .7-1.4 .7-2.1 .7 1.2 .7 1.6 .7 1.4 .7-1.9 .7-.2 .7 1.3 .7 1.2 .7-3.1 .7 1.9 .7 .1 .7-.7 .7-.6 .7 2.7 .7-.7 .7-3.2 .7-.8 .7 1.3 .7 .8 .7-1.2 .7 .9 .7 1.7 .7 .3 .7 .4 .7-.2 .7-2.6 .7 1 .7 .9 .7-.7 .7-.1 .7 1.4 .7 .9 .7 .1 .7-2.9 .7-.4 .7 1.2 .7 3 .7-2.4 .7 2.4 .7-.8 .7 2.1 .7-4.6 .7 3.7 .7-4.3 .7 3.1 .7-.6 .7-1.7 .7 0 .7 .4 .7 .4 .7-2 .7 1.3 .7-2 .7 2 .7 0 .7-1.1 .7 .3 .7 .1 .7-.7 .7-2.2 .7-.3 .7-.3 .7 3.1 .7-3.3 .7 .2 .7-3.4 .7 .6 .7-1.4 .7-2.2 .7-.9 .7-1 .7 1.3 .7-1.2 .7-.7 .7-3.8 .7-.7 .7-.7 .7-2.5 .7-.6 .7-5.5 .7 .7 .7-4.5 .7-.9 .7-3.2 .7-2.9 .7-2.4 .7-6.5 .7-4.9 .7-2.6 .7-7.7 .7-7.3 .7-8.4 .7-7.5 .7-7.9 .7-6.9 .7-5.9 .9-2.2 .5 2.6 .7 4.8 .7 8.9 .7 10 .7 10.7 .7 7.7 .7 9.3 .7 8.4 .7 8.6 .7 4.6 .7 5 .7 5.9 .7 .5 .7 2.9 .7 2.3 .7 3.8 .7 .3 .7 2.1 .7 1.8 .7 1.3 .7 .3 .7-.2 .7 4 .7 1 .7-.7 .7-.7 .7 4 .7-3.7 .7 4 .7-.8 .7-1.5 .7 1.8 .7 .1 .7-2.4 .7 2.4 .7 1.7 .7-.4 .7-2.1 .7 .6 .7 2.6 .7-2.9 .7 3.4 .7-.5 .7-.5 .7 .3 .7 .5 .7-1.7 .7 4.1 .7-2.4 .7 1.3 .7-2.6 .7 3.7 .7-.9 .7-2 .7 3.1 .7 0 .7-1.8 .7-.8 .7 2.7 .7-3.8 .7 4.6 .7 .1 .7-4 .7 4.1 .7-3.1 .7 2.6 .7 .3 .7-3.2 .7 .8 .7 2.9 .7-.7 .7-.2 .7-2.1 .7 2.4 .7-3.1 .7 1.2 .7 0 .7-.9 .7 1.9 .7-2 .7 4.3 .7-2.3 .7 1.2 .7-1.2 .7-1.9 .7 1.4 .7-2 .7 1.4 .7 1.6 .7-2 .7 3.5 .7-1.1 .7-2.6 .7 1.9 .7 2.3 .7-2.8 .7-.5 .7 .8 .7 .9 .7-.4 .7-.7 .7 .9 .7 0 .7 .9 .7 1.3 .7-1.6 .7-2.4 .7 .4 .7 .8 .7 2.9 .7-3.8 .7 2.7 .7-1 .7-.6 .7 1.9 .7 .5 .7 .1 .7-2.5 .7-.2 .7-.1 .7-.1 .7-.3 .7 1.1 .7-1.2 .7 1.1 .7 1.2 .7-1 .7-3.3 .7 3.7 .7-2.6 .7-.9 .7 .3 .7-.9 .7 1 .7 .9 .7-1.5 .7 3.9 .7-2.2 .7 .7 .7-.7 .7 2.8 .7 0 .7-1.5 .7-2.1 .7 2.9 .7-1.6 .7-1 .7 1.3 .7 1.1 .7-.3 .7-2.5 .7 3.6 .7-1.8 .7 1.9 .7-2 .7 2.2 .7-.2 .7-3.5 .7 3.8 .7-.9 .7-.5 .7-2.7 .7 2.6 .7-.1 .7 .7 .7-2.3 .7-1.6 .7 2.8 .7-1.7 .7-.1 .7 1.6 .7-2.8 .7 .1 .7 4.4 .7-.4 .7-.3 .7-1.4 .7-.5 .7-1 .7-.8 .7 3.4 .7-2.5 .7 2.2 .7-3.1 .7 .9 .7 .8 .7-.3 .7-.8 .7 2.5 .7-3.2 .7 2.3 .7-.2 .7-.2 .7-1.6 .7 2.1 .7 .4 .7-.7 .7 .1 .7-.1 .7-.5 .7 .6 .7-.3 .7-1.1 .7 2.5 .7-2.3 .7-1.1 .7 2.3 .7 1.1 .7-3.4 .7-.4 .7 1.3 .7-.3 .7-.6 .7 .4 .7 .6 .7-1 .7 1.4 .7-.6 .7-.1 .7-1.3 .7 2.8 .7-.7 .7-.4 .7-1.3 .7 3 .7-1.3 .7 .3 .7-1.3 .7 .3 .7 .3 .7-1.8 .7 0 .7 2.5 .7-2 .7-1.2 .7 2.1 .7 1.9 .7-1.9 .7 .7 .7 1.6 .7-3.3 .7 .2 .7-.6 .7 1.8 .7-.9 .7 2.2 .7-.9 .7-1.1 .7 2.9 .7 .1 .7 .5 .7-2.7 .7 .7 .7 .3 .7 .9 .7 .3 .7-2.8 .7-.5 .7 .4 .7 .1 .7 2.4 .7-.6 .7-2.2 .7 2.3 .7 .1 .7-.9 .7 1 .7-3.2 .7 2.7 .7-3.1 .7 3.5 .7-1.6 .7 1.2 .7-3.3 .7 .2 .7 2.9 .7-3.4 .7 1 .7 2.1 .7 .3 .7-3.3 .7-.4 .7 2.5 .7-1.9 .7 .3 .7-1.1 .7 1.4 .7 2.2 .7-1 .7-2.5 .7 .3 .7 3.7 .7-1.2 .7-2.1 .7 2 .7 .8 .7 .2 .7-.8 .7-2.3 .7 3.4 .7-.7 .7 .9 .7-1.5 .7 1.9 .7-.2 .7-2.2 .7-.8 .7 2.2 .7-2 .7 .5 .7-.6 .7 .6 .7-.3 .7 1.5 .7-.5 .7-2.1 .7 2.2 .7 .5 .7-1.4 .7-2 .7 3.6 .7-.3 .7-3.1 .7 1 .7 2.2 .7-.6 .7-2.4 .7 .9 .7-1.4 .7 4 .7-.6 .7-2.6 .7 .8 .7 1.4 .7-1.1 .7-2.1 .7 3.2 .7-.4 .7-3.5 .7 3.9 .7-2 .7 .4 .7 .2 .7 .9 .7-2 .7-1.3 .7 .7 .7 2.2 .7-1.1 .7-.4 .7 .1 .7-.3 .7 2 .7-.1 .7-3 .7-1.8 .7 .5 .7 .2 .7 .6 .7 1 .7-.3 .7-1.2 .7 1.8 .7-4.3 .7 1 .7 1.3 .7-1.2 .7-1.2 .7 0 .7-3.7 .7 2.6 .7-1.6 .7 .8 .7-3.6 .7 .2 .7 1.6 .7-3.6 .7 .5 .7-.1 .7-2.7 .7-1.3 .7-1.3 .7-2.4 .7-.5 .7-1 .7-2.5 .7-2.5 .7-2 .7-3.3 .7-2.8 .7-.6 .7-4.6 .7-2.7 .7-3.7 .7-4 .7-2.7 .7-1.5 .7-1.1 .3 .3 .4 .3 .7 1.7 .7 3.1 .7 3.4 .7 3.3 .7 5.3 .7 5.4 .7 3.6 .7 2.2 .7 4.1 .7 1.5 .7 4.8 .7 1.2 .7 2.8 .7 3.4 .7-.1 .7 2.1 .7-2.7 .7 2.3 .7 1.9 .7-1.3 .7 2.3 .7-.5 .7 1.1 .7-1.5 .7 3.6 .7-1.9 .7 .7 .7-.6 .7 .7 .7-.3 .7 4.4 .7-.8 .7-.2 .7-3.3 .7 1 .7 3.6 .7 0 .7-3.5 .7 2.3 .7 .6 .7-1.2 .7-.3 .7-.3 .7 2.5 .7-1.9 .7 2.3 .7-3.6 .7 3 .7 2 .7-3.9 .7-.6 .7 4 .7-2.9 .7 2.1 .7-2.9 .7 2.8 .7-.3 .7-2.1 .7 1.7 .7 1 .7 .4 .7-1.1 .7 1.8 .7 .4 .7-3.7 .7 4.4 .7-3.2 .7 1.3 .7 1.7 .7-1.3 .7-1.4 .7 1.9 .7-2.3 .7-1.6 .7 3.8 .7-1.5 .7 2.8 .7-4.6 .7 3.9 .7-1.6 .7-2.5 .7 1.8 .7 2 .7 .1 .7-1.9 .7 .1 .7 .7 .7 .1 .7-2.7 .7-2.9 .7 3.6 .7-3.5 .7 .1 .7 2.7 .7 .7 .7-2.9 .7 3.4 .7 .8 .7 1.2 .7-2.6 .7 3.3 .7-4.4 .7 2.3 .7-2 .7 .7 .7-.8 .7 4.3 .7-.5 .7-2.6 .7-3.4 .7 .6 .7-.5 .7 .7 .7 .9 .7-.2 .7 .6 .7 2.6 .7-2 .7 .9 .7 .1 .7-1.2 .7 2.1 .7-2.6 .7-.6 .7 2.8 .7 .6 .7-4 .7 2.3 .7-2.6 .7 1.3 .7 1.9 .7 .1 .7-1.6 .7 2.7 .7 .2 .7-4.1 .7 4.8 .7-4.4 .7 4.4 .7-2 .7 2.3 .7-3.9 .7 3.4 .7-3.1 .7 2.5 .7 .5 .7 .7 .7-1.2 .7-1.2 .7-2.8 .7 4.7 .7-.9 .7-3.1 .7 3.8 .7-2.1 .7 1.8 .7-1.4 .7 2.3 .7-.6 .7 1 .7-.1 .7-6.1 .7 4 .7 2.4 .7-6.6 .7 4.9 .7-3.2 .7 1.9 .7-3.2 .7 3.9 .7 1.4 .7-.8 .7-.4 .7 1.1 .7-2.3 .7-2.5 .7 1.9 .7 1.9 .7-3.5 .7 .7 .7 2.8 .7-5 .7 .1 .7 2.2 .7 3.6 .7-4.8 .7 3.1 .7 .8 .7-4.3 .7 5.3 .7-.6 .7-5.4 .7 2.8 .7-.4 .7 2.1 .7-5 .7 2.2 .7-2.1 .7 3.2 .7-3.1 .7 4.9 .7-3.3 .7-2.3 .7 1.9 .7 1.6 .7-2.2 .7-.4 .7 4.4 .7-1.3 .7-3.5 .7 4.7 .7-4 .7 5.1 .7 .5 .7-3.5 .7-1.7 .7 3.8 .7 .2 .7-1.6 .7 .4 .7-2.6 .7 6.1 .7-6 .7 2.2 .7-1.5 .7 2.3 .7-2.8 .7-1.2 .7 2.9 .7-1.8 .7 2.6 .7-2.6 .7 4 .7-2.2 .7-.6 .7-.1 .7 .8 .7 0 .7 0 .7-2 .7 4.2 .7-2.4 .7-.8 .7 2.6 .7 .2 .7-1.8 .7 2.4 .7-3.5 .7-1 .7 1.2 .7 3.7 .7-4.2 .7 3.7 .7-.5 .7 .2 .7-1.7 .7 .6 .7 2.9 .7-3 .7-2.4 .7 2.6 .7-2.8 .7 .4 .7 .5 .7 1.7 .7 .2 .7-1 .7-2.5 .7 .5 .7 3.1 .7-3.9 .7 5.1 .7-1.1 .7-.1 .7 2.4 .7-5 .7 3.3 .7-1.2 .7 2.6 .7-1 .7-.2 .7-.9 .7 3.2 .7-2.2 .7-2.4 .7-1 .7 5.6 .7-.4 .7-1.9 .7 .6 .7 1.1 .7-1.7 .7-3 .7 2.8 .7-.9 .7-2.9 .7 2.3 .7 2.6 .7-.1 .7-4 .7 3.8 .7-4.6 .7 .9 .7-.9 .7 1.1 .7 4.2 .7-5 .7 .3 .7 .8 .7 3.8 .7-3.8 .7 .6 .7 .7 .7 2.2 .7-3.2 .7 2.4 .7 .4 .7-5.5 .7 5.7 .7-3.9 .7 1.2 .7-3.4 .7 5.8 .7-5.7 .7 5.4 .7-3.1 .7 1.1 .7-.5 .7-4.4 .7 4.1 .7-3.1 .7-1 .7 5.3 .7-4.6 .7 3.9 .7-4.4 .7 2.9 .7 0 .7-3.2 .7 .4 .7 2.2 .7-4.8 .7-1.8 .7 3.6 .7-.6 .7-4.8 .7-3.3 .7-2.6 .7-2.1 .7-2.1 .7-5.1 .7-4 .7-4.1 .5-1.1 .9 2.1 .7 3.5 .7 2.1 .7 4.6 .7 .2 .7 1.4 .7-.1 .7 1.7 .7 2.9 .7-.3 .7-4.6 .7-1.4 .7-4.4 .7-2.3 .7-5.6 .7-4.1 .7-9.2 .7-9.8 .7-15 .7-12.5 .7-12.2 .7-14.2 .7-8.8 .7-3.7 .7 3.2 .7 10.3 .7 12.1 .7 13.6 .7 13.4 .7 13.4 .7 7.2 .7 8 .7 7.1 .7 5.5 .7 7.7 .7 2.7 .7 .4 .7 3.8 .7 .1 .7 4.1 .7 2.5 .7-2.7 .7 5.2 .7 .4 .7 2 .7-2.4 .7 .8 .7-2.7 .7 6 .7-.2 .7-.6 .7 1.1 .7-3.1 .7 3.9 .7-.5 .7-2.9 .7 3.5 .7-1.1 .7 1.2 .7-3.5 .7 4.4 .7-2.7 .7 3.1 .7 1 .7-5.7 .7 4 .7-3.7 .7 2 .7 4.4 .7-2 .7 .4 .7-1.6 .7-.8 .7-1.5 .7 3.1 .7 2 .7-3.1 .7 0 .7 1.8 .7-4.1 .7 3.7 .7 1.9 .7-4.8 .7 5.3 .7-1.1 .7 .5 .7-5.1 .7 2.3 .7 1.4 .7 .1 .7-3.5 .7 4.5 .7-5.3 .7 3.3 .7 1 .7-1 .7-.1 .7-3.2 .7 1.9 .7-.6 .7-2.3 .7-.5 .7-3.9 .7 .3 .7 2.8 .7-2.8 .7 .3 .7-1.9 .7-1.7 .7-2.2 .7 .2 .7-1.7 .4-.2 1 1.7 .7 .6 .7 2 .7 .6 .7-.8 .7 .1 .7 2.9 .7-1.8 .7 1.1 .7 1.6 .7 2 .7-1.5 .7 .2 .7 2.5 .7 .7 .7-.3 .7 1.6 .7-1.5 .7 3.3 .7-1.5 .7-2 .7-.1 .7 2.7 .7-3.9 .7 2.4 .7 .3 .7-2 .7 2.1 .7-1.2 .7-2.3 .7-1 .7 .2 .7-.2 .7 .1 .7-3.3 .7-.3 .7 .6 .7 .4 .7-1.1 .7 1 .7-3 .7-1.4 .7 .1 .7 .2 .7-2.9 .7-2 .7-1.6 .7-4.1 .7-1.7 .7 .4 .7-3.2 .7 0 .7-2.9 .7-1.5 .7-2.8 .7-3.8 .7-2 .7-4.6 .7-2.2 .7-4.3 .7-2.8 .7-4 .7-3.1 .7-1 .7-.9 .4 .2 1 1.9 .7 3.5 .7 2.5 .7 5 .7 3.6 .7 6.2 .7 2.9 .7 4.6 .7 3.7 .7 3.1 .7 3.2 .7 3.4 .7 1 .7 2.3 .7 .8 .7 1.6 .7 1 .7 2.3 .7-.2 .7 1.2 .7 4.5 .7-1 .7 1.1 .7 1.3 .7-3.1 .7 1.5 .7 1.2 .7 2.8 .7-.7 .7 1.3 .7-.7 .7-.7 .7 1.6 .7-1.1 .7 3 .7-.3 .7-1.7 .7 1.9 .7-2.3 .7 3.5 .7-3.5 .7 2 .7-.6 .7-1.7 .7 2.3 .7-2.7 .7 0 .7 1.3 .7 3.4 .7-4.9 .7 .7 .7 .6 .7 2.3 .7-.3 .7 1.6 .7-2.3 .7-.3 .7 3 .7-2.6 .7-1.1 .7-.1 .7 .2 .7 2.2 .7-.8 .7-1.8 .7 2.1 .7-2 .7 4 .7-.2 .7 .6 .7 1 .7-1.1 .7-3.4 .7 .3 .7 4 .7-2.1 .7 2.8 .7-5.2 .7 4.7 .7-5.1 .7 4.2 .7-3.1 .7 2.2 .7-4.2 .7 .9 .7 2.9 .7-2.6 .7-1.2 .7 2 .7 1.9 .7-1.5 .7-2.6 .7 5.9 .7-6.1 .7 3.5 .7-.9 .7 .7 .7 1.5 .7-2.4 .7-2.8 .7 3.8 .7-3 .7 1.3 .7-2.1 .7 0 .7 1.7 .7-1 .7-.3 .7 4.5 .7-2.2 .7-3.2 .7-.7 .7 .2 .7 1.4 .7 3.7 .7 .3 .7-1.5 .7-1.7 .7 3.3 .7-1.3 .7-1.7 .7 .6 .7 2.2 .7-3.7 .7 3 .7 .4 .7-6.4 .7 2.8 .7 2.5 .7-3.2 .7-1.9 .7 3.6 .7 1.9 .7-4.5 .7 3.1 .7 1 .7-3 .7 1.9 .7-2.4 .7-.5 .7 .9 .7-1.5 .7 3 .7-1 .7 .1 .7 1.2 .7-2.8 .7 1.9 .7 1.8 .7 1 .7-.7 .7-3.4 .7 3 .7-2.7 .7 1.7 .7-.4 .7-.2 .7 .9 .7-.1 .7 4.7 .7-2.2 .7-.7 .7-1.1 .7 3.8 .7-2.7 .7 1.7 .7-3 .7-1.3 .7 4.5 .7-.5 .7-.2 .7 .4 .7-2.8 .7-1.7 .7 4.9 .7-3.2 .7 2.9 .7-5.4 .7-.3 .7 .8 .7 5.8 .7-1.8 .7 0 .7 .9 .7 .9 .7-3.9 .7-2.5 .7 4.3 .7 .6 .7-1 .7-3.5 .7 3.7 .7-1.2 .7 1.6 .7-.5 .7 1.9 .7-4.5 .7 .8 .7-2.2 .7 4.2 .7-1.6 .7 3 .7-5.2 .7 2.9 .7 1.6 .7-2.9 .7 .8 .7 2.2 .7-.5 .7-5.6 .7 3.9 .7-1.6 .7 .7 .7-1.4 .7 4.4 .7-2.4 .7-2.2 .7 1.5 .7-3.7 .7 4 .7-.2 .7-1.6 .7-3.4 .7 3.1 .7-4.4 .7 .4 .7 2 .7-1.6 .7 2.4 .7-.1 .7-1.4 .7-2.2 .7 3.9 .7-1.8 .7 0 .7-5.3 .7-1.3 .7-1.4 .7 1.4 .7-.8 .7-4.1 .7 .2 .7-3.6 .7-4.7 .7-1.4 .7-4.3 .7-4 .7-3.4 .7-2.7 .7-2.2 .7-1 .7-1.4 .3-.3 .4 .6 .7 .4 .7 2.8 .7 1.9 .7 3.7 .7 3.2 .7 4.1 .7 1.9 .7 4.9 .7 .3 .7 6.2 .7-.3 .7 1.1 .7 3.2 .7 3.7 .7-1.3 .7 .8 .7 4.1 .7 .4 .7-.8 .7 2.8 .7-.1 .7-3 .7 1.5 .7 1.9 .7-.8 .7-.1 .7 1 .7-.7 .7 4.1 .7-.5 .7-1.4 .7 2.2 .7-2.7 .7 2 .7-.6 .7-1.2 .7 1.2 .7 .9 .7-1.6 .7 3.1 .7-1.2 .7 3.6 .7-3.4 .7 2.8 .7-.9 .7 2.8 .7-3.1 .7 2.4 .7-4 .7 1 .7-1.1 .7 .3 .7 1.7 .7 1.4 .7-4.4 .7 1.1 .7 2.6 .7-1.9 .7-1.5 .7 2.8 .7-1 .7 3.3 .7-4 .7 2.5 .7-.4 .7 2.1 .7-.2 .7-1.4 .7-1.4 .7 2.3 .7-2.9 .7 2.2 .7 .7 .7-.8 .7 1.1 .7-2.2 .7 1.9 .7-1.8 .7 3 .7-1.7 .7-1.1 .7 .6 .7-1.3 .7 2.2 .7-1.5 .7 1 .7 1.1 .7 1.9 .7-2.9 .7 3 .7-2.2 .7-1.5 .7 2.7 .7-2.6 .7 .5 .7 3.5 .7-2.2 .7 1.5 .7-.7 .7-1.5 .7 .3 .7-1 .7-.3 .7 .8 .7-1 .7 2.8 .7 .6 .7-1.3 .7-1.2 .7-.1 .7 .5 .7-1.9 .7 1.1 .7 1.4 .7-.7 .7-2.1 .7 2.2 .7-1.8 .7 1.8 .7-2.3 .7 3.2 .7-.9 .7 .1 .7 .1 .7-1.5 .7-1.2 .7 2.9 .7-.1 .7-1.8 .7 1.9 .7-1.5 .7 .1 .7 .3 .7-.4 .7 .1 .7 2.1 .7-3.5 .7 1.3 .7 1.1 .7 .2 .7-1.9 .7 1 .7-.9 .7 1.6 .7-.4 .7-2.9 .7 1.4 .7 1.9 .7-.7 .7 1.3 .7-.8 .7-2.1 .7 .1 .7 3.3 .7-3.4 .7 .7 .7 1.1 .7-.3 .7-.7 .7 1.8 .7 .5 .7-.3 .7 1.3 .7-1.6 .7-1.8 .7 2.8 .7-.6 .7-1.5 .7 1.1 .7-1.8 .7 1.5 .7 0 .7 1.4 .7-2.7 .7-.3 .7-.5 .7 2.8 .7-2 .7 .7 .7 .7 .7-.7 .7-2.6 .7 .7 .7-1 .7-.5 .7 0 .7 1 .7 1.5 .7-2.4 .7-.4 .7 1.4 .7-1.3 .7 .8 .7-1 .7 .3 .7 .4 .7 .6 .7-1.1 .7-2.5 .7-.1 .7-.7 .7-.6 .7 0 .7 .6 .7-1.6 .7-.2 .7-2.9 .7 2 .7-2.5 .7 .7 .8-.5 .6 1.3 .7 0 .7-.7 .7-.5 .7 2.8 .7 .2 .7 1.4 .7-.8 .7 2.4 .7 .1 .7 1.3 .7-1.2 .7 .9 .7 1 .7 .3 .7 .5 .7-.8 .7-.5 .7 .5 .7 2.4 .7-2.2 .7 2.5 .7 .3 .7-2.6 .7 .7 .7 1 .7 1.1 .7-.8 .7-1.2 .7-.2 .7 .4 .7 .3 .7 1.8 .7-1.8 .7 .9 .7 .9 .7-1.9 .7-.3 .7-.4 .7 2.1 .7 .5 .7-.8 .7-.2 .7-1.2 .7 1.2 .7 .9 .7-1.5 .7 1.9 .7-2.8 .7 1.4 .7 .6 .7-1.9 .7 2.3 .7-1.1 .7-.1 .7 .5 .7 1.1 .7-.6 .7-.2 .7 1.2 .7-2 .7 .7 .7-.6 .7 .3 .7 1 .7-2.2 .7 2.4 .7-.5 .7-2 .7 .4 .7 .3 .7-.8 .7 .6 .7 1.1 .7-1.1 .7 0 .7 .5 .7 .6 .7-.9 .7-1.7 .7 1.1 .7-1.3 .7 .1 .7 .5 .7-.5 .7 .5 .7 .2 .7-.3 .7 2.1 .7-.6 .7-1.5 .7 1.8 .7-2.1 .7-.4 .7 1.9 .7-1.8 .7-.8 .7 .2 .7 .6 .7 .4 .7-.4 .7 .2 .7-.7 .7-.2 .7-2 .7 .3 .7-2 .7 .1 .7-.4 .7 .7 .7-.2 .7-1.2 .9-.4 .5 .5 .7 .2 .7-.6 .7 1.9 .7-.4 .7 1.1 .7-.6 .7 1.3 .7 0 .7 1 .7 .9 .7-1.8 .7 .6 .7 .6 .7 1.9 .7-.7 .7 1.9 .7-1.8 .7 0 .7 .9 .7 .7 .7 1.1 .7 .7 .7-2 .7-.2 .7 1.8 .7 0 .7 .9 .7-2.3 .7 2.3 .7-.6 .7-.7 .7 .9 .7-.5 .7 .4 .7-.9 .7-1 .7 1.2 .7-1 .7 1.8 .7 .4 .7 0 .7-1.5 .7 1.9 .7-1.8 .7 .8 .7 .4 .7 1 .7-.7 .7-.4 .7-1.2 .7 .2 .7 2.7 .7 0 .7-.7 .7 .1 .7-1.1 .7 .4 .7 .8 .7-2.4 .7 .9 .7 1.3 .7-.7 .7 0 .7-1.6 .7 1 .7-.3 .7-.3 .7 1 .7-1.2 .7 2 .7-1.3 .7 .5 .7-1.2 .7-.3 .7 2.2 .7-1.7 .7 .9 .7-1 .7 1.1 .7 .7 .7-1 .7-.3 .7-.4 .7-.8 .7 1.8 .7-1 .7-.5 .7 2.6 .7 .1 .7-2.4 .7 1.7 .7 .2 .7-1.6 .7 1.1 .7-2.2 .7 .4 .7 .9 .7-.5 .7-1.1 .7 .8 .7 .5 .7-1.6 .7-.5 .7-.5 .7 2 .7-1.7 .7 .7 .7-.6 .7 .3 .7 1.4 .7-.5 .7-.7 .7-.9 .7-.5 .7 1.4 .7-3.3 .7 1.5 .7-.2 .7-2 .7-1.8 .7-1.4 .7 .5 .7-3.1 .7-2.3 .7-2.1 .7-3.7 .7-5.2 .7-4 .7-3.4 .7-4.2 .7-2.8 .6-.6 .8 1.4 .7 2.4 .7 4.3 .7 5.5 .7 3.3 .7 4.6 .7 2.2 .7 2.8 .7 2.3 .7 3.5 .7 1.1 .7 .1 .7 1.3 .7-.4 .7 .2 .7 1.3 .7 .4 .7 1.7 .7-1.9 .7 1.5 .7-.4 .7-1.4 .7 .6 .7-.4 .7 1 .7-1.9 .7 1.4 .7 .8 .7-1 .7-1.3 .7 .6 .7-1.5 .7-.1 .7-.1 .7-2.7 .7-.5 .7-3.2 .7-.9 .7-4 .7-1.4 .7-4.6 .7-2.8 .7-2 .7-2 .7-1.1 .7 .9 .7 1.6 .7 2.3 .7 3.1 .7 4.6 .7 2 .7 2.9 .7 .7 .7 2.8 .7 2.2 .7 1.5 .7 2.2 .7 .2 .7 1.7 .7-.3 .7-.7 .7-.2 .7 3.1 .7-2.7 .7 1 .7 .4 .7 .4 .7 .9 .7-.9 .7 1.4 .7-1.4 .7 .1 .7 1.7 .7-.2 .7-1.4 .7 .5 .7 .9 .7-1.4 .7 1.2 .7-1.3 .7 2 .7 .6 .7-1.8 .7-1.3 .7 1.7 .7 1.5 .7 .1 .7-1.1 .7 .8 .7-.9 .7-1.3 .7 1.7 .7-.8 .7 2.1 .7-.1 .7 .1 .7-.6 .7-.3 .7-1.1 .7-.1 .7 1.6 .7-.5 .7-2 .7-.5 .7 .7 .7-1.3 .7 1.7 .7-.1 .7-2.5 .7 1.2 .7-1.2 .7-1 .7-2.1 .7 .8 .7-1.4 .7-1.2 .7 .2 .7-1.5 .7 2.2 .7-2.9 .9 1.2 .5 1.1 .7-2.2 .7 1 .7 1.3 .7-.6 .7 2.3 .7-1.1 .7 1 .7 2.7 .7 .9 .7-1.8 .7 2.3 .7-1.2 .7-.1 .7 0 .7 3 .7-1.5 .7 .7 .7 1.7 .7-.3 .7 .4 .7 .1 .7-2.4 .7 1.5 .7 1.3 .7-1.9 .7 2.2 .7-2 .7 1.5 .7 .7 .7-1.2 .7 .6 .7 .6 .7-.1 .7-.6 .7 .4 .7-.3 .7-2.1 .7 1.4 .7-1.4 .7-.7 .7 .6 .7 1.5 .7-3.6 .7 1.5 .7-2.2 .7 2.4 .7-1.5 .7 .8 .7-1.5 .7-2.4 .7 1.7 .7-3.3 .7-.2 .7 .3 .7-1.4 .7 .5 .7-.2 .7-1.2 .7-.8 .7-1 .7 .5 .4 1.3 1-1.5 .7 .2 .7 1.2 .7-.1 .7 .5 .7 2 .7 1.4 .7-1.5 .7 3.2 .7-2 .7 .5 .7 3.4 .7-1.4 .7 2 .7-.9 .7-.6 .7 2 .7 1.1 .7-.3 .7-.6 .7 1.9 .7 .8 .7-.6 .7 .9 .7-1.4 .7 .2 .7 .9 .7-2.7 .7 1.8 .7-.6 .7-.6 .7 1.8 .7-1.6 .7 2 .7-1.2 .7 1.7 .7-2.6 .7-.5 .7 1.4 .7-1.1 .7 0 .7 2.4 .7-1.7 .7 .3 .7 2.5 .7-3.3 .7 1.5 .7 2.1 .7-1.2 .7-1.2 .7 0 .7 1.3 .7 1.1 .7 .5 .7-2.5 .7 1.9 .7-2.6 .7 2.1 .7-2.1 .7 2.2 .7 .6 .7-2.7 .7 3 .7-1.7 .7 2.1 .7-1 .7-1.3 .7-.4 .7 0 .7 2.6 .7-1.5 .7 .4 .7-1.3 .7-.7 .7 .9 .7 2.4 .7-2.7 .7-.2 .7 2.1 .7-2.2 .7 .3 .7 .2 .7 2.6 .7-3.2 .7-.4 .7 1.1 .7 1 .7-.4 .7 2.2 .7 .6 .7-3.7 .7 3.1 .7-2.6 .7 1.9 .7-1.2 .7-.8 .7 1.6 .7-.3 .7 1.4 .7-3.4 .7 3.1 .7 .1 .7-.5 .7-.6 .7-2.4 .7 1.1 .7 1.9 .7-.9 .7 .7 .7-.8 .7 .8 .7 .3 .7-.8 .7 .5 .7 1 .7-.1 .7-.5 .7-.6 .7-1.8 .7 1.5 .7 .3 .7 0 .7-.1 .7-1 .7-1.7 .7 2.1 .7 1.5 .7-1.8 .7-2.8 .7 .2 .7 .2 .7-.9 .7 .5 .7 .3 .7 .9 .7-.5 .7 2.1 .7 2 .7-.1 .7-3 .7 .4 .7 .9 .7 .7 .7 2.3 .7-.2 .7-2.3 .7-1.3 .7 1.1 .7-.2 .7-.8 .7 3 .7-1.8 .7 .5 .7 .8 .7-3.4 .7 1.6 .7 1.1 .7-1 .7 1.5 .7-2.2 .7 1.5 .7 1.1 .7-.6 .7-2.1 .7 1.6 .7-.8 .7-.2 .7 1.6 .7 .1 .7-.6 .7-1.8 .7 1.2 .7 1.6 .7-3.5 .7 .9 .7 1.7 .7-2.1 .7 .1 .7 1.4 .7 1.4 .7-1.1 .7-.2 .7-.8 .7 .6 .7-3 .7-.3 .7 3.1 .7-3.2 .7 .6 .7 1.1 .7-1.5 .7-.7 .7 4.1 .7-3.6 .7 3.1 .7 .1 .7-1 .7 1.7 .7-3.5 .7 4.1 .7-1.1 .7-1.9 .7 .2 .7 4.1 .7-3.2 .7-.3 .7 2.6 .7 .3 .7-2.8 .7 4 .7-1.7 .7-2.4 .7-.8 .7 1.3 .7-.1 .7 .5 .7 1 .7 0 .7-1.8 .7 1 .7-.4 .7-1.3 .7 .4 .7 3 .7-.9 .7 .7 .7-2.4 .7 .5 .7 1.2 .7 .8 .7-4 .7 1.6 .7-.3 .7 3 .7-3.2 .7 1.9 .7 1.6 .7-.5 .7-1.2 .7-2.8 .7 2.6 .7-2.1 .7 2.2 .7-1.2 .7-1.6 .7 .4 .7 3.4 .7-.5 .7-.1 .7-1.9 .7-.6 .7 1.4 .7 1.6 .7-3.7 .7 .5 .7 .2 .7-1.1 .7 .7 .7 3.3 .7-.4 .7 1 .7-1.1 .7 2.2 .7-3 .7-.5 .7 1.6 .7-1.5 .7-2.1 .7 2.2 .7-.4 .7-3.1 .7 1.1 .7-1 .7 1.4 .7 2.8 .7-1.6 .7-2.4 .7 2.4 .7-1.3 .7-.8 .7 2.9 .7-.9 .7 .7 .7-2.5 .7 0 .7 4.5 .7-4.7 .7 .8 .7-.5 .7 .4 .7 1.5 .7-1.3 .7-.9 .7 .4 .7 2.9 .7-2.6 .7 3.3 .7-1.9 .7 .7 .7-1.8 .7 1.6 .7 .7 .7-2 .7 2.7 .7-.5 .7 1.8 .7-.6 .7-.9 .7 1.9 .7-3.6 .7 1.7 .7 .4 .7-1.5 .7 1.1 .7-1 .7-.1 .7-.1 .7 2.7 .7-5.2 .7 4.4 .7-1.8 .7-2 .7 1.1 .7 2.7 .7-3 .7-.6 .7-.2 .7 3.6 .7-.4 .7-1.9 .7-3.2 .7 1.2 .7 2 .7-2.7 .7 .6 .7 4.5 .7-1.4 .7 1.3 .7 .2 .7-1.9 .7-.7 .7 3.1 .7-2.1 .7 1.4 .7-.6 .7-.1 .7-1.1 .7 3 .7-5 .7 2.1 .7 1.5 .7-2.8 .7 1.9 .7 .1 .7 .8 .7 .9 .7-3.1 .7 3.5 .7-4.5 .7 4.6 .7-2.2 .7-1.1 .7-1.7 .7 3.6 .7-3.8 .7 3.9 .7-2.1 .7 1.8 .7-.9 .7 1.2 .7-2.7 .7-.4 .7-.6 .7 .5 .7 3.8 .7-.1 .7-3 .7 2.8 .7 .3 .7-.8 .7-.1 .7 .7 .7-2.5 .7 2.1 .7-.4 .7-1.7 .7 5 .7-3 .7-1.7 .7 1 .7 .3 .7-1.6 .7 .2 .7 .7 .7-2 .7 4.5 .7-5.2 .7 1.6 .7-1.4 .7 4.8 .7-.6 .7-3.2 .7-1.4 .7 .4 .7 .4 .7 1.6 .7-2.8 .7 2.9 .7-2 .7 2.4 .7 1.5 .7-4.3 .7-.5 .7 2 .7-.3 .7-2.3 .7 .2 .7 .2 .7 4.3 .7-3.6 .7-.1 .7 5.4 .7-4.5 .7 4.5 .7-4.1 .7 4.2 .7 0 .7-.8 .7 .3 .7-3.3 .7 4 .7-.3 .7-.8 .7-3.3 .7 3 .7 .7 .7-.6 .7-2.3 .7-1.5 .7 .4 .7 4.9 .7-5.4 .7 3.6 .7 1.1 .7 .8 .7-3.3 .7 1.8 .7 1.5 .7-1.6 .7-3.5 .7 2.2 .7-.2 .7 0 .7-1.9 .7 1.8 .7-.7 .7 1.9 .7 1.2 .7-3 .7 2.3 .7-2.6 .7 3.6 .7-3.1 .7 .1 .7 2.4 .7 .5 .7-4.1 .7 4 .7-.7 .7-1.4 .7 1 .7-1.8 .7-2.3 .7 3.2 .7-3 .7 4.1 .7-3.9 .7 2.7 .7-3.3 .7 4.6 .7 .7 .7-1.2 .7-3.4 .7 .5"/>
<path stroke="#008080" d="M220.0 1448.5l.7-3.6 .7 2.5 .7 1.2 .7-1.6 .7-.6 .7 1.7 .7-.1 .7-1.5 .7 1.2 .7 1.8 .7-4.8 .7 4.8 .7 1 .7-2.3 .7 1.1 .7-1.9 .7 3.4 .7 2.6 .7-5.1 .7 1.2 .7 3.3 .7-2.7 .7-1.2 .7 1.9 .7-5.2 .7 1 .7 5.8 .7-5.7 .7-1 .7 7.4 .7-1.3 .7 1.9 .7-1.8 .7 1.5 .7-4.7 .7 3.6 .7-4.7 .7 5.8 .7-.5 .7-4.3 .7 .2 .7 0 .7 5.6 .7-1.3 .7-3.2 .7 3.3 .7 .5 .7 .4 .7 3.1 .7-.7 .7-3 .7-2.7 .7 2.1 .7-.8 .7 6.7 .7 .4 .7-5 .7 6.5 .7-5.7 .7 1 .7 .7 .7 3.4 .7-1.2 .7-7 .7 6.4 .7-6.4 .7 5.3 .7-1.2 .7-4.6 .7-.8 .7 8 .7-8.1 .7 1.5 .7 7.5 .7-2.2 .7-1.1 .7-.8 .7 1.3 .7-.8 .7-3.3 .7 1.6 .7 .8 .7 1.6 .7-1 .7 2.8 .7 .6 .7-.4 .7-2.8 .7-.6 .7-3.1 .7 3.1 .7 4.1 .7-3.7 .7-.4 .7-1 .7 4.3 .7-1.2 .7-4 .7 1.7 .7-1.4 .7 .7 .7 1 .7-1.6 .7 8.3 .7-3.2 .7-4.6 .7 3.7 .7-1.2 .7-1.8 .7 2 .7 1.4 .7-4.1 .7 7.6 .7-4.1 .7-3.8 .7 5.4 .7 2.3 .7-8 .7 5.8 .7 1.4 .7-3.2 .7-2.9 .7 5.8 .7-3.3 .7-.1 .7 3.9 .7-6 .7 2 .7 5.3 .7-5.7 .7-.5 .7 .4 .7 3.4 .7-.8 .7 1.3 .7 3.1 .7-4.6 .7 3.9 .7-1.2 .7 .4 .7-4 .7 .2 .7 .8 .7 1.9 .7-.4 .7-.4 .7 3.7 .7-1.8 .7-1.3 .7 1.9 .7 1.8 .7-3.8 .7 1.5 .7-.8 .7 1.9 .7-1.9 .7 1.3 .7 3.5 .7-.6 .7-5.1 .7 1.5 .7 2.2 .7-.1 .7-3.1 .7 1.5 .7 .3 .7-2.2 .7-1.9 .7 3.2 .7-.6 .7-1.4 .7 .7 .7 .5 .7-4.6 .7-1.7 .7 2.4 .7-3 .7 2.5 .7-1.4 .7-2.4 .7 .5 .7-.2 .7-2.3 .7-3.5 .7-.5 .7-3.4 .7 .7 .7-3.8 .7-3.7 .7-2.9 .7-3.7 .7-2.8 .7-9.7 .7-7 .7-9.2 .7-9.9 .7-18.4 .7-16 .7-25.2 .7-31.1 .7-35.2 .7-41.2 .7-44.6 .7-44.1 .7-32.5 .8-15.4 .6 8 .7 28.8 .7 42.4 .7 45.5 .7 42.4 .7 38.1 .7 29 .7 29 .7 18.7 .7 16.6 .7 14.4 .7 9.3 .7 7.6 .7 5.1 .7 8.8 .7 3.1 .7 1.4 .7 5.4 .7 3.4 .7 1.7 .7 2.8 .7 .2 .7 5.2 .7-.7 .7-.6 .7 1.9 .7 3.5 .7 .4 .7-.1 .7-.6 .7 2.7 .7 1 .7-2.3 .7 .4 .7 3.5 .7-.1 .7 .9 .7-2 .7 3.2 .7-1.6 .7 1.5 .7-2.1 .7 .8 .7 .2 .7 .4 .7 2 .7-1 .7 1.2 .7-.4 .7 .8 .7-.9 .7-1.6 .7 2.2 .7-1.4 .7-.2 .7 3.4 .7-1 .7 .1 .7 .2 .7-.4 .7-.7 .7 .9 .7 .2 .7 .7 .7-1.1 .7-.7 .7 1.4 .7 .2 .7-1.9 .7 2.8 .7-.5 .7-1.8 .7 2.2 .7-.5 .7-1.7 .7-.1 .7 2.8 .7-.4 .7-2.9 .7 .2 .7 2.9 .7-1 .7-.2 .7-2 .7 2.5 .7-.6 .7 .5 .7 .3 .7-.3 .7 0 .7 1 .7-.7 .7-.9 .7 1.5 .7-.3 .7-.3 .7-.7 .7 .1 .7 2 .7-.9 .7 0 .7-.6 .7 .8 .7 .7 .7-2.8 .7 1.1 .7 .3 .7-1.4 .7 .3 .7-.5 .7-.1 .7 1.4 .7-.3 .7 1.4 .7-.3 .7 .5 .7-1.2 .7 1.9 .7-1.2 .7-1 .7 1.7 .7-.6 .7 .8 .7-2 .7 2 .7-1.6 .7-.9 .7-.2 .7 1.4 .7 .5 .7-1.1 .7-.3 .7 .2 .7-.1 .7-.4 .7 .2 .7-.1 .7 .8 .7 .5 .7 .1 .7-.9 .7 0 .7-.2 .7 1.8 .7 0 .7-1.1 .7 .4 .7-.8 .7 1.1 .7 .9 .7 .2 .7-1 .7-1 .7 1.6 .7-1.8 .7 0 .7 .4 .7 .6 .7-.1 .7 .1 .7 .2 .7-1.7 .7 2.9 .7 .4 .7-3 .7 .7 .7 .8 .7 1.2 .7-2.1 .7 1.2 .7-.1 .7 .9 .7-.8 .7-.5 .7 .1 .7 1.2 .7-1 .7 1.6 .7-.8 .7-1 .7 .7 .7-1.3 .7 2.6 .7 .1 .7-1.7 .7 .1 .7 .1 .7 .2 .7 1.1 .7-.5 .7 .8 .7-1.1 .7 .9 .7 0 .7-1.8 .7-.2 .7 .5 .7 .6 .7-1.3 .7 .3 .7 1.6 .7-.9 .7 .3 .7 0 .7-.3 .7-1.3 .7 2.5 .7-.1 .7-2.3 .7 .5 .7 .3 .7 .4 .7-.5 .7 .6 .7-.3 .7-1.6 .7 .3 .7 .7 .7-.4 .7 .3 .7-.1 .7 2.1 .7-1.9 .7 1.1 .7-.5 .7-.6 .7 1.3 .7-1.7 .7 2 .7-1.4 .7 1 .7-2 .7 .6 .7 1.5 .7-2.2 .7 1.7 .7-1.1 .7 .8 .7-1.8 .7 2.1 .7-1.7 .7-.7 .7 2.2 .7-.7 .7-.7 .7 1.8 .7-2.5 .7 1.2 .7 .7 .7 0 .7 1.1 .7-2.3 .7 1.7 .7-1.7 .7 .3 .7 1.8 .7-1.9 .7-.3 .7-.5 .7 1.4 .7 .9 .7-1.9 .7-.7 .7 .7 .7-.4 .7-.7 .7-.2 .7 1.2 .7-.4 .7-.7 .7 1.4 .7 .4 .7-.7 .7-1.5 .7 2.5 .7-.3 .7-1.1 .7 1.1 .7-1.4 .7-.2 .7 2.1 .7-.3 .7-1.7 .7 1 .7-2.2 .7 .5 .7 1.1 .7-1.8 .7-.6 .7 1.7 .7 .6 .7-.7 .7 .8 .7-2.5 .7 .2 .7 .9 .7-1.1 .7 1 .7-1.8 .7 1.4 .7-2.1 .7 .3 .7-.5 .7 .7 .7-.9 .7-1.4 .7 .6 .7-2.4 .7 1.1 .7 0 .7-1.2 .7-.9 .7-2.7 .7-.6 .7 .8 .7-3.5 .7-.9 .7-.2 .7-2.4 .7-.3 .7-2.7 .7-2.2 .7-4 .7-2.1 .7-4.4 .7-5.3 .7-5.9 .7-8.1 .7-11 .7-11 .7-15.2 .7-18.6 .7-20.6 .7-23 .7-26.6 .7-28.1 .7-24.6 .7-18.4 .8-8.4 .6 4.4 .7 16.5 .7 23.4 .7 27.5 .7 26.3 .7 23.9 .7 22.2 .7 19.2 .7 14.7 .7 13.5 .7 9.2 .7 10 .7 6.1 .7 4.9 .7 5.5 .7 4.5 .7 2.1 .7 1 .7 2.1 .7 2.8 .7 .4 .7 3.8 .7-.5 .7 2.2 .7-.5 .7 1.7 .7 1.2 .7 1.8 .7 .1 .7 .1 .7-.5 .7 .9 .7 1 .7-.1 .7 2.6 .7-.8 .7-.8 .7 2.3 .7-.5 .7-.3 .7 1 .7 .1 .7-.9 .7 .7 .7-.9 .7 1.2 .7-.6 .7 2 .7-1.4 .7-.6 .7 1.6 .7 .6 .7-1.7 .7-.6 .7 1.5 .7-1.2 .7 2.1 .7 .4 .7-1.8 .7 2.1 .7-.7 .7-1.4 .7 .1 .7-.5 .7 .4 .7 2.3 .7-1.7 .7 1 .7-2.1 .7 2.2 .7-2.4 .7 .7 .7 1.2 .7 .6 .7-2.2 .7-.7 .7 2.7 .7-2.7 .7-.6 .7 .6 .7 1.6 .7-1 .7 1.7 .7-.3 .7-.7 .7-.8 .7 1.4 .7 .7 .7-1.6 .7 1.6 .7-.5 .7 .4 .7-2.1 .7 1.1 .7-.1 .7-.7 .7 2.3 .7-.9 .7 .6 .7-1.2 .7 .5 .7-.8 .7 1.4 .7-1 .7-.9 .7 1 .7 0 .7 .3 .7-.9 .7 .1 .7 .8 .7 .1 .7-2.1 .7 2 .7 0 .7-.1 .7 .3 .7-1.6 .7 1 .7-2.2 .7 1.9 .7-1.9 .7 .6 .7-.6 .7 .9 .7 2.1 .7-1.9 .7 1.9 .7-2.2 .7-1.6 .7 3.4 .7-1.4 .7-1.3 .7 .3 .7 1.1 .7 .4 .7-1.4 .7-.2 .7 2.3 .7-.2 .7-1.2 .7-2.7 .7 3.1 .7-.8 .7-2.4 .7 2.6 .7 .9 .7 .1 .7-1.5 .7 2 .7-.3 .7-1.5 .7-.1 .7-.1 .7 2.4 .7-1 .7 .8 .7-2.5 .7 1.9 .7-2.7 .7 1.7 .7-.1 .7-2.2 .7-1.2 .7 3.6 .7-2.1 .7-1.5 .7 1.5 .7-1.2 .7-.3 .7 2.7 .7 .9 .7-.7 .7-2 .7 2.6 .7-.9 .7-1.3 .7-.5 .7 3.6 .7 .1 .7-2.5 .7 .5 .7 2.4 .7-3.5 .7 3.1 .7-.2 .7-.9 .7 .8 .7-1.2 .7 2 .7-3.3 .7 3.6 .7-1 .7-1.8 .7-.6 .7 1 .7 2.5 .7-4 .7 2.3 .7-.2 .7 1.7 .7-.2 .7-.6 .7-2.1 .7-.4 .7 .3 .7 2.5 .7-.2 .7-2.6 .7 2.8 .7-3.2 .7 .3 .7-1.4 .7 2.4 .7 0 .7-2.1 .7 .1 .7-.8 .7 0 .7 2.6 .7-.3 .7 1 .7-3.7 .7 .3 .7 3.6 .7-2.7 .7 1.5 .7-.9 .7 2.1 .7 .6 .7-3.7 .7 .3 .7 2.5 .7-1.4 .7-.1 .7-.3 .7 .3 .7-1.1 .7-.2 .7 1.1 .7 2 .7-3.7 .7 2.2 .7 .3 .7 .4 .7-2.5 .7-.4 .7 2.8 .7-2.3 .7-1.2 .7 3.5 .7-1.7 .7 1.7 .7-3.6 .7 .5 .7 2.6 .7-1.5 .7-2 .7 2.6 .7-3.7 .7 1.4 .7 1.6 .7-1.5 .7 .1 .7 2 .7 1.2 .7-1.3 .7-.8 .7-1.2 .7-.7 .7 2 .7-1.2 .7-.4 .7 2.1 .7-2.7 .7 0 .7 2.5 .7-2.8 .7 4.4 .7-3.1 .7 .4 .7-1.4 .7 3.2 .7 .1 .7-1.5 .7 1.9 .7 .7 .7-3 .7 1.3 .7-3.1 .7 4.6 .7-.5 .7-2.9 .7 .6 .7-1.3 .7 2.8 .7-1.7 .7-.8 .7 2.3 .7-2.8 .7 .3 .7 .9 .7 2 .7-4.3 .7 1.4 .7 2.3 .7-3.6 .7 .6 .7 4 .7-4.5 .7 .8 .7 2.8 .7-.5 .7 1.6 .7-2 .7 1.4 .7-1.8 .7-.3 .7-.9 .7 1.1 .7-1.3 .7 2.9 .7-.2 .7-3.1 .7-1.4 .7 2.6 .7 .3 .7-3 .7 2.1 .7-2.7 .7 1.6 .7-1.2 .7-5.2 .7-2 .7 .3 .7-1.4 .7-5.5 .7-1.6 .9 .7 .5-1.1 .7 .8 .7 3.7 .7 1 .7 3.4 .7 3.5 .7 .7 .7 2.6 .7 1.9 .7-.6 .7 2.7 .7-3.9 .7 .4 .7 3.6 .7 .9 .7-2.8 .7 1 .7 1.9 .7-1.4 .7 2.8 .7-.8 .7-.4 .7-1.7 .7 1.2 .7 .2 .7-1.9 .7 2.5 .7-2.4 .7 3.5 .7-1.1 .7-1.9 .7-1.1 .7 3.5 .7 .1 .7 .2 .7-3.6 .7 .2 .7 3.7 .7-2.2 .7 1.6 .7-2.6 .7 3.8 .7 .1 .7-4 .7 4.1 .7-1.4 .7 .8 .7-2.7 .7 .8 .7 1.5 .7 0 .7-.6 .7-.9 .7 2.4 .7-3.1 .7 4.2 .7-3.2 .7 1 .7 0 .7-.3 .7 1.4 .7-.1 .7-2.7 .7 1.8 .7-2 .7-.5 .7 4.1 .7-.9 .7-1.2 .7-1.8 .7 3.2 .7-1.9 .7-.5 .7 2.4 .7 0 .7 .1 .7-.2 .7 .3 .7-3.2 .7 .9 .7-.5 .7 2.6 .7 .9 .7-4 .7 1.3 .7-.9 .7 2.1 .7-2.5 .7 3.8 .7-1.9 .7-1.7 .7-.6 .7 .5 .7 .2 .7 2.2 .7-.9 .7 .4 .7-2.1 .7 3.1 .7-2.5 .7 .9 .7-.6 .7-1.8 .7-.7 .7-.6 .7 .5 .7-1.3 .7 1.1 .7-.8 .7 .3 .7-.3 .7-1.3 .7-.4 .7 .9 .7-.9 .7-1.7 .7-2.8 .7 0 .7-1.4 .7-6.7 .7-1.3 .7-5.6 .7-5.7 .7-5.6 .7-7.2 .7-8.6 .7-6.2 .7-5.7 .9-3.5 .5-.2 .7 3.7 .7 3.1 .7 5.2 .7 6.1 .7 4.7 .7 4 .7 .5 .7 .7 .7-.8 .7-.6 .7-5.4 .7-4.3 .7-6.2 .7-9.5 .7-8.7 .7-10.3 .7-10.9 .7-8.6 .7-5.9 .6-2.5 .8 3.7 .7 7.8 .7 9.2 .7 11.1 .7 11.8 .7 10 .7 9.1 .7 8.2 .7 5.6 .7 4.6 .7 4.5 .7 6.5 .7 3.6 .7 1.9 .7 2.5 .7 2.1 .7-2 .7 2.1 .7 3.1 .7-.1 .7 .4 .7 .6 .7 1.6 .7 1.7 .7-1.4 .7-.1 .7 1.5 .7 2.3 .7-.6 .7 1.3 .7-1.9 .7 2.3 .7-1.6 .7-1.1 .7 3.3 .7 1.1 .7-1.7 .7 .2 .7 .7 .7 .6 .7-.5 .7-3.5 .7 2.9 .7-2.5 .7 2.3 .7-2.2 .7 1.8 .7 1.6 .7 .1 .7-1.6 .7-.9 .7-1.7 .7 2.2 .7 .8 .7-1.2 .7-3.3 .7-1.1 .7 2 .7-1.4 .7-1.4 .7 1 .7-3.7 .7 2 .7-.1 .7 .5 .7-.2 .7-.9 .7 .4 .7 1.8 .7-1.7 .7-.5 .7 4.8 .7-1.7 .7 2.3 .7-2.9 .7-.8 .7 .1 .7 .7 .7 3 .7-4 .7-1.1 .7 2.6 .7 .1 .7-2.8 .7 2.5 .7-3.1 .7 .2 .7 2.2 .7-.5 .7-3.3 .7-.5 .7-3.1 .7 2.7 .7-3.9 .7-1 .7-1.4 .7-3.3 .7-1.8 .7-3.3 .7-1.4 .7-4.6 .7-1.8 .7-5.5 .7-2.7 .7-6.4 .7-4.5 .7-4.6 .7-6.6 .7-4.5 .7-5.6 .7-3 .7-2.9 .7-1.7 .3-1 .4 1 .7 2 .7 2.5 .7 4 .7 5.9 .7 4.8 .7 7.3 .7 4.9 .7 5.6 .7 2.7 .7 6.2 .7 4.7 .7 3.7 .7 2.4 .7 .7 .7 3.7 .7 .4 .7 5.5 .7-1 .7-.4 .7 3.8 .7-1.8 .7 4.7 .7-.9 .7-.5 .7-.8 .7 1.1 .7 4.7 .7-1.8 .7 .1 .7-.1 .7 2.3 .7-2.1 .7 5.3 .7-.1 .7-2.7 .7 2.8 .7-1 .7 2.1 .7 .8 .7-.5 .7-.3 .7 1.1 .7-4.1 .7 2.5 .7-2.1 .7 3.4 .7-3.1 .7 4.8 .7-4.5 .7 .7 .7 1.6 .7-2.5 .7 1.3 .7 2 .7-2.2 .7 3.3 .7-4.4 .7-.1 .7 3.5 .7-1.7 .7-2.6 .7 4 .7 1 .7-5 .7 5.6 .7-.4 .7-.7 .7 0 .7-.9 .7 .9 .7-.2 .7-3.5 .7 .3 .7 .1 .7 .5 .7 4.2 .7-3.2 .7-.7 .7-.2 .7 3.2 .7-1.8 .7 1.9 .7-2.8 .7 .6 .7 .1 .7 0 .7-2 .7 2.7 .7-1.5 .7 2.8 .7-.3 .7-2.3 .7 .5 .7 .5 .7 1.3 .7-5.2 .7 1.8 .7 3.3 .7 .9 .7-2.5 .7 1.1 .7 .5 .7-.8 .7-2.6 .7 3.1 .7-2.3 .7 1.6 .7-4.8 .7 3.2 .7 1.4 .7-2.3 .7 1.3 .7-2.4 .7 .5 .7-2.1 .7 2.3 .7-1.3 .7 1.7 .7 .7 .7-1.9 .7 .8 .7-1.3 .7-.3 .7 2.6 .7-.1 .7 3 .7-4.9 .7 .7 .7-.3 .7 2 .7-2.9 .7 5.7 .7-5.2 .7-.7 .7 .4 .7 3.3 .7-3.8 .7 2.6 .7 0 .7-.2 .7-.9 .7-.7 .7 .2 .7 .7 .7-1 .7-1.9 .7-.2 .7 2.4 .7-1.5 .7 4.3 .7-.6 .7-5.3 .7 5 .7-3.1 .7-.5 .7 .9 .7-1.3 .7 2.1 .7-1.7 .7-.5 .7 2 .7-2.1 .7 2.2 .7-.1 .7 2.6 .7-1.1 .7-1.2 .7-.4 .7-1.6 .7 .7 .7-2.4 .7-1.6 .7 .4 .7-2.4 .7-2.5 .7 2.3 .7-1.9 .7-3.7 .7-1.1 .7-3.9 .7 .4 .7-3.8 .7-4.2 .7-1.6 .7-2.1 .7-3.2 .7-3.2 .7-1 .7-3 .7-.6 .7-2.1 .6 .6 .8-.3 .7 1.3 .7 2.9 .7 2 .7 2.5 .7 2.2 .7 3.5 .7 2.8 .7 .8 .7 3.6 .7 2.7 .7 3.8 .7-.3 .7 2 .7 .7 .7 5.2 .7 .4 .7-1.5 .7 4.3 .7-1 .7 2.9 .7 1.3 .7-2.2 .7 .4 .7 .8 .7 4.2 .7-1.9 .7 .6 .7 .2 .7 .4 .7-1.6 .7 3.2 .7-3.8 .7 2.1 .7 0 .7-.7 .7 3.2 .7-1.5 .7 1.8 .7-3.3 .7-.1 .7 .1 .7 3.3 .7-1.4 .7 1.8 .7 .1 .7-.9 .7-2.1 .7 .4 .7 2.5 .7-1.8 .7-.1 .7 1 .7-1.6 .7 2.3 .7 1.9 .7-4.2 .7 1.8 .7 2 .7-1.5 .7 .7 .7-3.3 .7 2 .7 1.9 .7 .3 .7-4 .7 2.4 .7 1.8 .7-3.1 .7 3.6 .7-1.5 .7 .9 .7-2 .7 1 .7 2.2 .7-1.6 .7 2.3 .7-2.6 .7-.9 .7-.3 .7 2.6 .7 .3 .7-1.7 .7 1.8 .7-2.4 .7 2.2 .7 .4 .7-3.1 .7 1.5 .7-.9 .7 .5 .7 1.2 .7-2.4 .7 2.9 .7-2.9 .7 1.9 .7-.7 .7 .9 .7-1.9 .7-.1 .7 2.1 .7 .7 .7-2.3 .7 1.4 .7-.4 .7-.3 .7 .3 .7-1.5 .7 2.1 .7-.4 .7-.5 .7 1.5 .7 1 .7-3.2 .7-.1 .7 1.5 .7 1.4 .7-3.3 .7 2.9 .7-1 .7 1 .7 .2 .7-2.7 .7-.8 .7 .1 .7 3.4 .7-2.8 .7-.3 .7 0 .7 3.1 .7-.8 .7-.8 .7-1.8 .7 2.2 .7-1 .7 1.7 .7-.3 .7 .2 .7-.2 .7-3.4 .7-.6 .7 2.4 .7-.6 .7-.5 .7-.4 .7-2.3 .7-.6 .7 2.6 .7-2.1 .7-2.9 .7 2 .7 .1 .7-1.8 .7-2.9 .7 2.1 .9-1.9 .5 1.3 .7-1.1 .7 1.1 .7 1.1 .7 .9 .7-1.5 .7 3.2 .7 0 .7 .7 .7-1.8 .7 4.2 .7 1.1 .7-.5 .7 .3 .7-1.1 .7-1 .7 .9 .7 .2 .7 2.3 .7 .2 .7-3 .7 .7 .7 1 .7-1.2 .7-.6 .7 3.7 .7-2 .7-1.5 .7 2.2 .7 .4 .7-1.2 .7-.4 .7 .7 .7-2.9 .7 .7 .7 2.3 .7-3 .7 3.9 .7 0 .7-2.3 .7 3 .7 0 .7-5 .7 1 .7 4.3 .7-1.3 .7-1.2 .7-1.6 .7-1.4 .7 4 .7 .9 .7 .5 .7-2.5 .7 .7 .7-1 .7-.1 .7 .5 .7-2.9 .7 1.3 .7-1.6 .7 .5 .7 1 .7-.1 .7-.8 .7-.4 .7 .6 .7 1.7 .7-3 .7 1.9 .7 1.6 .7-.2 .7-1.5 .7 1 .7-4.1 .7 .5 .7-.6 .7-.6 .7-1.1 .7 2.5 .7-3.4 .7 1.4 .7-.4 .7-2.4 .7 .2 .7-3.1 .7 1.1 .7-1.5 .7-.9 .7-1.5 .7-3.6 .7 1.3 .7-.3 .7-1.1 .7 .1 .7-.3 .7-1.1 .7 2.4 .7 1.3 .7 1.8 .7 0 .7 .4 .7 1 .7 1.6 .7 .3 .7 1.1 .7 1.2 .7 .2 .7 3.2 .7 .7 .7 2.3 .7-.3 .7-.3 .7 2.5 .7 .2 .7 .2 .7-2.9 .7 2.8 .7-2 .7 3.7 .7-.9 .7 .9 .7-3 .7 .2 .7 1.3 .7 2.7 .7-3.3 .7 3 .7-.6 .7-2 .7-.8 .7 1.8 .7-1.2 .7 1.9 .7-.7 .7-1.1 .7 2.9 .7 1.4 .7-3.1 .7 2.6 .7-2.7 .7 .8 .7 2.8 .7-3.2 .7 .5 .7 1.1 .7-.5 .7-.6 .7 1.1 .7-2.2 .7 1.1 .7-.3 .7 .3 .7 3.1 .7-1.1 .7-.7 .7 1.3 .7-.3 .7-.5 .7 3 .7 .2 .7-1.3 .7-2.7 .7 .1 .7 .9 .7 .8 .7-.2 .7 .8 .7 0 .7-.3 .7-1.7 .7 .9 .7-1.6 .7 2.8 .7-1.3 .7 2 .7-1.5 .7 1 .7-1.7 .7-.1 .7-1.1 .7 1.9 .7 1.1 .7-1.1 .7 1.2 .7-.4 .7-1.2 .7 1 .7-.2 .7 .2 .7-2 .7-.1 .7-.1 .7 1.2 .7 1.6 .7-.2 .7-2.7 .7 2.2 .7-1.5 .7 2.7 .7 0 .7-1.2 .7-2.6 .7 3 .7-.8 .7 1.1 .7-.7 .7-.8 .7 .8 .7-.7 .7-.5 .7-1 .7 1.7 .7-.6 .7 2.8 .7-1.9 .7-1.5 .7 1.5 .7-1.1 .7 .7 .7 .3 .7 .7 .7 .9 .7-2.3 .7 1.6 .7 1.9 .7-4.8 .7 3 .7-1.7 .7 3.7 .7-4 .7 .3 .7 3.4 .7-1.9 .7 1.8 .7 .8 .7-2.9 .7-2.4 .7 2.9 .7-.6 .7 .5 .7 .3 .7-2.3 .7-2 .7 1.7 .7-1.4 .7 .1 .7 3.6 .7-3.4 .7 2.5 .7-2.9 .7 .7 .7 1.2 .7 0 .7-2.7 .7 3.5 .7-1.1 .7-1.7 .7 2.7 .7-3.1 .7 2.4 .7-.4 .7-2.2 .7-1.3 .7 1.8 .7 .3 .7-3.2 .7 .2 .7 3.7 .7-3.5 .7-2.1 .7 .8 .7 2.7 .7-4.8 .7 3 .7 .1 .7-2.4 .7-.6 .7-.9 .7 2.1 .7-1.2 .6-1.1 .8-1.1 .7 1.1 .7 1.5 .7-1.5 .7 3.1 .7-.2 .7 1.1 .7 .3 .7 .4 .7-.2 .7-.7 .7 3 .7-3.5 .7 1 .7 .7 .7 3.7 .7-1.9 .7 .6 .7-1.1 .7 2.3 .7 0 .7 1.1 .7-.6 .7-1 .7 2.6 .7-3.7 .7 4.1 .7-5 .7 .3 .7 2.9 .7 .7 .7-3 .7 3.9 .7-5 .7 2.4 .7-.2 .7 1.7 .7 1.4 .7-4.5 .7 2.2 .7 1.3 .7-2.7 .7-.6 .7 .1 .7 .4 .7 2.1 .7-1.4 .7 .9 .7-2.7 .7 1.3 .7-1.3 .7 .1 .7 .9 .7-.6 .7 1.3 .7-.8 .7-.9 .7 2.7 .7-1.5 .7 3.2 .7-2.7 .7-.3 .7 2.6 .7-1.8 .7 .9 .7 1 .7-2.2 .7-2.8 .7 .1 .7 1.6 .7-.9 .7 3.7 .7-4.8 .7 .4 .7 2.9 .7-1.7 .7 4 .7-1.4 .7-3 .7 1.9 .7 2.1 .7-3.4 .7-1.4 .7 4 .7-1.4 .7 1.7 .7 .1 .7 .1 .7-2.9 .7-.7 .7 .5 .7 .1 .7 .5 .7-1.8 .7 2.7 .7-2.8 .7-.9 .7 2.6 .7-.6 .7-.3 .7-1.5 .7 1.3 .7-1.7 .7-1.1 .7-1 .7 2.1 .7-3.7 .7 2.1 .7-.6 .7-1.4 .7-.3 .7-.7 .7-.9 .7 3 .7-4.6 .7-.6 .7 3.6 .7-2.9 .7 .7 .7-2.9 .7-3.5 .7 .6 .7-2.6 .7-5.8 .7-1.2 .7-2.9 .7-6.2 .7-1.5 .7-4.9 .7-3.2 .7-3.1 .7-1.3 .3-.6 .4 .1 .7 1 .7 3.4 .7 2.8 .7 4 .7 2.7 .7 3.4 .7 5 .7 2.4 .7 .9 .7 2 .7 3.4 .7-1.5 .7 1.6 .7-1.6 .7 .9 .7 .4 .7 .6 .7-3.6 .7-1 .7-.5 .7-4.1 .7 .7 .7-2.7 .7-4.4 .7-2.2 .7-2 .7-.6 .7-1.8 .6 .1 .8-.2 .7 3.1 .7 1.9 .7 1.1 .7 4.7 .7 1.5 .7 4.5 .7 3 .7 0 .7 2.2 .7 4.1 .7 1.3 .7 2.9 .7 1.1 .7 1.4 .7-1.1 .7-1.6 .7 .9 .7 4.3 .7-3.5 .7 1.3 .7 1.2 .7-1.8 .7 3.8 .7-1.4 .7-1.6 .7 .2 .7 3.6 .7 .2 .7 .7 .7-1.5 .7 1.3 .7-1 .7 1.3 .7-3.1 .7 1 .7 2.7 .7-1.5 .7 2.2 .7-.5 .7-4.4 .7 0 .7 4 .7-.4 .7-2.4 .7 1.2 .7-.1 .7-.7 .7-1 .7 2 .7 .3 .7-1.9 .7 1 .7 0 .7-.7 .7 4.5 .7-3.7 .7 1.4 .7-1.2 .7 2.2 .7-1.4 .7 2.9 .7-3.8 .7-.7 .7-1.2 .7 1.1 .7 1.2 .7 1.1 .7 1.3 .7-1.4 .7 1 .7-2.1 .7 1 .7 1.3 .7-2.3 .7-1.4 .7-1 .7 1.9 .7-.5 .7-.4 .7 .6 .7-2.2 .7 1.9 .7-3.4 .7-.1 .7 1.4 .7-3.2 .7-.5 .7 .8 .7 1.8 .7-4.2 .6 4 .8-2 .7 1.4 .7-2 .7-.3 .7 2.5 .7 1.3 .7 1.3 .7-1.5 .7 2.4 .7-2.3 .7 1.4 .7-.6 .7 4.1 .7 .7 .7-.1 .7-4.1 .7-.2 .7 3.3 .7 .4 .7 1.3 .7-1.7 .7 2.2 .7-3.9 .7 4.4 .7-.7 .7-2.1 .7 3.4 .7-4.3 .7 .5 .7 1.1 .7 .9 .7 1 .7-2.1 .7-2.5 .7 1.7 .7 .7 .7 .8 .7-2.8 .7 1.6 .7 .5 .7-1.3 .7 2.4 .7 1.5 .7-3.9 .7 4.8 .7-.4 .7-4.6 .7 1.4 .7 .9 .7-2 .7 3.8 .7-4.3 .7 .2 .7 4.7 .7 .9 .7-.6 .7 .1 .7-2.7 .7-1 .7 3.4 .7-.1 .7 1.1 .7-.4 .7-.6 .7-3.8 .7 3.2 .7-.8 .7-2.5 .7 1.2 .7-.3 .7 4 .7-1.4 .7 1.4 .7-2.3 .7 1.6 .7-1.1 .7 1.2 .7 1 .7-1.3 .7 .7 .7-3.3 .7 2.6 .7 .7 .7-1.8 .7-.3 .7 1.3 .7-.2 .7-3.7 .7 3.7 .7-1.7 .7 .3 .7-.5 .7 .5 .7 .2 .7-.9 .7 4 .7-2.1 .7-.5 .7-1.7 .7 3.4 .7-2.4 .7 1.1 .7-.1 .7-.9 .7-.4 .7 3.1 .7-3.7 .7 3.3 .7 1.2 .7-3.8 .7 .5 .7-.2 .7 1.3 .7-.1 .7 2.5 .7-.6 .7 0 .7-1.9 .7 0 .7-.8 .7 2.3 .7-2.4 .7 2.4 .7-.8 .7 1.9 .7-3.3 .7-.6 .7 2.5 .7 .1 .7-.5 .7 1.6 .7 .7 .7-3.4 .7 .3 .7 3.4 .7-3.9 .7 1.1 .7-.5 .7 2.7 .7-2.2 .7 3.1 .7 .4 .7-3.1 .7 .9 .7-1.2 .7 2.3 .7 .5 .7-3 .7 2.8 .7-2.5 .7 1.1 .7-1.6 .7 3.1 .7-1.4 .7 .7 .7-1 .7 1.2 .7-2.3 .7 1.4 .7 .1 .7-1.8 .7 1.7 .7 .4 .7-.7 .7 .9 .7 .1 .7-1.4 .7 .9 .7 0 .7-.4 .7-.3 .7 2.5 .7-2.8 .7 0 .7 2.1 .7 1.5 .7-.8 .7-.9 .7-.2 .7-.1 .7 2 .7-1.4 .7-2.3 .7 .7 .7 .6 .7-1.1 .7 2.6 .7-1.6 .7 .7 .7-2 .7 1.2 .7-.9 .7-1.4 .7 4 .7-2.9 .7 1.7 .7-2.5 .7 .3 .7 2.6 .7-1.8 .7-.5 .7-1.8 .7 .5 .7 1.6 .7-1 .7 .3 .7 1.9 .7-.4 .7-.7 .7-1 .7 1.7 .7-.9 .7 .6 .7-.2 .7-.1 .7-1.6 .7 .6 .7 1.3 .7-1.2 .7 .6 .7-1.2 .7-2.1 .7 2.4 .7-1.9 .7-.9 .7-.1 .7-1.6 .7-.2 .7 2.3 .7-2.3 .7-.1 .7 .8 .7-1.4 .7 1.1 .7-2.8 .7 1.8 .7-.2 .7-.6 .7-1.9 .7 1.5 .7-1.1 .7-.5 .7-.1 .7-.5 .5 1.6 .9-1.1 .7 .2 .7 .9 .7-1.6 .7 .8 .7 .1 .7-.5 .7 2.3 .7-2 .7 2.4 .7-.4 .7 .6 .7-1.4 .7 1.4 .7 .8 .7 .8 .7 1.2 .7-2.4 .7 3.1 .7-2.3 .7 1.1 .7 2.8 .7-1.2 .7-.7 .7 .8 .7 .8 .7-1.1 .7 1.4 .7 0 .7 .6 .7-1.1 .7 .6 .7-.5 .7 3.4 .7-3.6 .7 3.3 .7 .4 .7-1.7 .7 1.7 .7-2.6 .7 1.1 .7 .9 .7-1.6 .7 1.1 .7-2.5 .7 .6 .7-.8 .7 2 .7-.1 .7 1.7 .7-1.9 .7-.2 .7-.5 .7 2.2 .7-2.7 .7 1.9 .7 1.3 .7 1 .7-2.2 .7-.1 .7 1.9 .7-2.1 .7 2.3 .7-2.9 .7 3.3 .7-1 .7-1.2 .7-.2 .7 1 .7-1.4 .7 1.1 .7 .4 .7-2.6 .7 4 .7-1.5 .7 1.1 .7-.3 .7 .4 .7 .1 .7-4.3 .7 3.6 .7-3.8 .7 2.2 .7-2.1 .7 1.5 .7-1.4 .7-.8 .7 1.2 .7 1.4 .7 1.6 .7-.5 .7 .7 .7 0 .7-3.4 .7-.4 .7-.4 .7 3.4 .7-.1 .7-3.2 .7 2.1 .7 1.5 .7-1.9 .7 0 .7 1.1 .7 1.9 .7-.5 .7 .2 .7-3.1 .7-.3 .7 4 .7-2.9 .7 2.8 .7-2.5 .7 .1 .7 1.7 .7-1.2 .7-.1 .7-.6 .7 .5 .7 .1 .7-.9 .7 2 .7 .3 .7-.4 .7 .3 .7-2.7 .7 2 .7-.5 .7 2 .7-1.8 .7-2.6 .7 1.2 .7 0 .7 2.5 .7-1.1 .7-.9 .7-.2 .7-2 .7 2.8 .7-.7 .7-.9 .7-.7 .7 1.5 .7 .1 .7 1.6 .7 .6 .7-2 .7-.9 .7 .6 .7-.6 .7 1.9 .7 0 .7-.5 .7-.8 .7 .8 .7 2.3 .7-3.2 .7 .8 .7 1.3 .7-1.5 .7 2.6 .7-1 .7 .9 .7-1.9 .7-1.2 .7 .3 .7 1 .7 1.2 .7 .5 .7-2.6 .7 3 .7-2.1 .7-1.2 .7 .6 .7-.5 .7 0 .7 1.3 .7-.2 .7 .4 .7 2.6 .7-2.4 .7-.7 .7 3.2 .7-1 .7 .2 .7-.5 .7 .3 .7 .8 .7-.2 .7-3.4 .7 1.4 .7 1.7 .7-.5 .7-.1 .7-.4 .7 1.3 .7-2.3 .7 1.4 .7-.3 .7-.7 .7-.1 .7 .5 .7-.9 .7-1.2 .7 .8 .7-.8 .7 1.2 .7-.3 .7 1.9 .7-2.3 .7 2.1 .7 0 .7-1.2 .7-.1 .7 1.8 .7-1.4 .7 .5 .7-.6 .7 1.4 .7-.3 .7-.3 .7-1.2 .7 1.3 .7 .2 .7 1.4 .7-1.1 .7-.7 .7 .8 .7-1.6 .7 1.4 .7 .5 .7-1.7 .7 1 .7-1.5 .7 1.5 .7 1 .7 .1 .7-1.8 .7-.5 .7 .7 .7-.5 .7-1 .7 1.8 .7-1.8 .7 1.3 .7 .9 .7-.2 .7 .8 .7-1.6 .7 1.6 .7-1.4 .7-.2 .7-.4 .7 1.2 .7-1 .7-.4 .7 2.3 .7-2.4 .7 1.2 .7-.2 .7-.2 .7-.6 .7 1.8 .7-.5 .7-.8 .7 1.4 .7-2.2 .7 .6 .7-.6 .7 .5 .7 .3 .7 .5 .7 .2 .7-1.2 .7 1.6 .7 .6 .7-1.6 .7 0 .7 .2 .7-.3 .7 1.2 .7-.5 .7-1 .7 1.7 .7-.3 .7-.8 .7 .8 .7 .5 .7-1.1 .7 .4 .7-.2 .7 .5 .7 .8 .7-1 .7 1 .7-.5 .7-1.1"/>
<path stroke="#000000" d="M220.0 1777.4l.7 3 .7-11.9 .7-7.6 .7 12.9 .7-10.7 .7 14.2 .7-9.1 .7 3.9 .7 14.4 .7-3.2 .7 3.2 .7-5.6 .7 11 .7-21.6 .7 22.5 .7-11.5 .7-3.2 .7 8.1 .7 10.7 .7-14.3 .7 14.8 .7-10.1 .7 12.9 .7-4.4 .7 .9 .7-9.7 .7 5.9 .7-7.8 .7 13.6 .7-13 .7 10 .7-14.1 .7 3.9 .7 2.4 .7-4.6 .7 1.7 .7-1.6 .7-4 .7 6.5 .7 2.6 .7-1.3 .7 10.4 .7-17.5 .7 11.4 .7-5.7 .7-6.4 .7 16 .7-6.4 .7 12.2 .7-2.9 .7 3.1 .7-4.8 .7-3.1 .7 11 .7-7.5 .7 9.5 .7 1.4 .7-9.9 .7 7.2 .7 1.9 .7 3.5 .7-9.5 .7-4.2 .7 1.3 .7 2.5 .7-4.9 .7 10.9 .7-10.4 .7 7.1 .7 8.9 .7-9.6 .7-3 .7 3.3 .7-2.2 .7-.7 .7 1.1 .7 .9 .7 2.6 .7-2.3 .7 5.6 .7 3.6 .7-11.5 .7 6.9 .7 2.6 .7-1.5 .7 3 .7-5.9 .7 10 .7 .9 .7-2.2 .7-3.1 .7 3.3 .7-1.8 .7 2.6 .7-4.2 .7-2.1 .7 3.8 .7-.2 .7-2.8 .7 5.9 .7 1 .7-4.9 .7-.7 .7 5 .7-1 .7 3.3 .7 .4 .7-7.5 .7 2.2 .7 7.2 .7-2 .7 1.4 .7-.4 .7-1.5 .7-2.7 .7-.1 .7 3.7 .7 .2 .7 3.4 .7-2.7 .7-.3 .7-5.3 .7 6.4 .7 2.1 .7-2.4 .7-1.4 .7-1.9 .7 6.2 .7-6.6 .7 4.7 .7-2.4 .7 1 .7-4.7 .7 7.5 .7-3 .7 4.7 .7 .3 .7-.4 .7-1.9 .7-4.3 .7 .3 .7 1.7 .7-1.6 .7 6.8 .7-4.2 .7 2.4 .7-4.3 .7 3.7 .7-3.7 .7 1.8 .7 4.9 .7-2.6 .7 3.5 .7-2 .7 .2 .7-.1 .7-.5 .7 1.2 .7-2.2 .7 4 .7-5 .7 3.4 .7-3.1 .7 1 .7-3.2 .7 5.9 .7-4.6 .7 5 .7-6 .7 1.4 .7 2.6 .7-.3 .7 2.6 .7-5.9 .7 3.1 .7 1.1 .7 .1 .7 .4 .7-1.1 .7 4.6 .7-6.1 .7 1 .7 1.1 .7 3.9 .7-5.5 .7-.1 .7 2.5 .7 0 .7-.3 .7 .5 .7 2.2 .7 .2 .7 .8 .7-3.7 .7 2.5 .7-.2 .7-2.8 .7 2.5 .7-.4 .7 4.5 .7-2.7 .7 1.9 .7-2.5 .7 3 .7 .7 .7-5.8 .7 3.5 .7 .2 .7-.8 .7 2.4 .7-3.4 .7 3.4 .7-.6 .7-1.2 .7-3.7 .7 1 .7 .2 .7 4.7 .7-.4 .7-6.5 .7 7.4 .7-2.2 .7 2.5 .7-4.2 .7-1 .7 2.7 .7 3.1 .7-2.8 .7 .6 .7-3.4 .7 2.5 .7 2.1 .7-1.2 .7 .7 .7 1.8 .7 .1 .7-5.7 .7 1.3 .7-1.5 .7 4.4 .7-.9 .7-1.4 .7 3.6 .7 1 .7-3.9 .7 1.9 .7 .8 .7 .1 .7-3 .7 5.8 .7-6.4 .7 1.7 .7 4.8 .7-4.8 .7 3.6 .7-3.1 .7 .2 .7 3.2 .7-4.4 .7 1 .7 2.9 .7-6.4 .7 2.8 .7 2.2 .7-3.1 .7 3.2 .7 0 .7 .7 .7-.6 .7-.9 .7-3.5 .7 1.2 .7-2.3 .7 1.1 .7 6.2 .7-8.3 .7 5.7 .7-1.7 .7 5 .7-4.9 .7-.5 .7 1.1 .7 2.9 .7 3.8 .7-7.3 .7 1.9 .7 4.5 .7 2.2 .7-1.3 .7-1 .7-4.8 .7-1 .7 7.1 .7-2.8 .7-3.3 .7 7.1 .7-7 .7 6.3 .7-3.6 .7-1.7 .7 1.2 .7 3.2 .7-5.8 .7 4.9 .7-.4 .7-1.6 .7-3.3 .7 3.4 .7-.1 .7-3.8 .7 6.7 .7-2.9 .7-4.8 .7 5.5 .7-3.1 .7-.2 .7 8.4 .7-7.3 .7-.4 .7 3.5 .7-2.6 .7 2.4 .7-1.2 .7 6.3 .7-3.8 .7-2.1 .7-1 .7 6.4 .7 3.2 .7-4.4 .7-3.9 .7 4.4 .7 3.7 .7-8.4 .7 2.8 .7-1.8 .7-1.3 .7 5.1 .7-.1 .7-6.6 .7 9.2 .7-.8 .7-4 .7 1.3 .7-.7 .7-1.3 .7-2.9 .7 7.2 .7-3.1 .7-5.4 .7 .4 .7 6.2 .7-2.2 .7 2.5 .7-3.4 .7 .3 .7-2 .7 7.5 .7-7.7 .7 5.9 .7-6.5 .7 .6 .7-2.1 .7 1.7 .7-2.7 .7 .2 .7 6.5 .7-.8 .7-3.5 .7 4.2 .7 2.7 .7-2.9 .7 .6 .7 .2 .7-.2 .7 1 .7 1.8 .7-.5 .7 .5 .7 2.1 .7-.7 .7-4.5 .7-1 .7 4.8 .7-4.5 .7 .2 .7-1.8 .7 3.8 .7-2.8 .7-3.7 .7 1 .7 2 .7 7.7 .7-6.9 .7 1.1 .7 5.7 .7-4.6 .7-1.5 .7 3 .7-1.8 .7-3.7 .7 .9 .7 3.5 .7 1.3 .7-.3 .7 1.1 .7-1.7 .7-4.7 .7 1.3 .7 5.1 .7-3.9 .7 5.3 .7-3 .7-2.3 .7-1.2 .7 2.5 .7-4.4 .7 .2 .7 3.1 .7-1.3 .7-1.7 .7 1.6 .7-2.1 .7 5.7 .7-.7 .7 2.3 .7-1 .7-2.1 .7 4.2 .7-1.1 .7-2.6 .7 .7 .7 1.1 .7 .1 .7-5.7 .7 3.5 .7-4.4 .7 6.9 .7-.7 .7-1.9 .7-6.2 .7 7.1 .7-5.7 .7 2.7 .7-.2 .7-3.2 .7 5.1 .7 2.2 .7-5.9 .7 7.7 .7-.5 .7-1.3 .7-4.4 .7 5 .7-1.5 .7 1.5 .7 3.7 .7-2.2 .7-4.7 .7 .4 .7 .9 .7-1.8 .7 4.6 .7-5 .7 3.6 .7 1.5 .7-7.3 .7 4.8 .7-1.6 .7 4.2 .7-4.7 .7-1.6 .7 3.7 .7-5.6 .7 6.3 .7-1.4 .7-3.7 .7 3.3 .7-1.8 .7 3.2 .7-.8 .7-.8 .7 .3 .7 0 .7 0 .7 0 .7-1.4 .7 1.1 .7 2.1 .7-4.9 .7 6.4 .7 .4 .7-2.3 .7-3.9 .7 2.4 .7 1.4 .7 1.1 .7 1.4 .7 1.4 .7-7.1 .7 3.9 .7-3 .7 4.8 .7 .2 .7 .2 .7-.9 .7-7.2 .7 1.2 .7-.6 .7 2 .7-.3 .7-.8 .7 3.2 .7 1 .7 1.5 .7-7.7 .7 3.5 .7-.9 .7 5.1 .7-6.7 .7 7 .7-6.6 .7 .7 .7 1.1 .7 2.3 .7-2.1 .7 3.5 .7-6.4 .7 3.7 .7-.2 .7 .2 .7-2.9 .7 1.2 .7 .5 .7-3.6 .7 3.1 .7-.4 .7-2.5 .7 2.9 .7 1.2 .7-3.4 .7 .1 .7 .2 .7 3.8 .7-3.7 .7 1.7 .7-4.1 .7 2.9 .7-.2 .7 2.9 .7 1.5 .7-.8 .7-3.9 .7-.5 .7 .9 .7-1.4 .7 6.3 .7-6.7 .7 5.3 .7-4.1 .7 0 .7 3.1 .7 3.5 .7-3.1 .7 3.3 .7-3.3 .7 3.8 .7-4 .7 3.7 .7 2.6 .7-5.2 .7-3.1 .7 5.7 .7 2.2 .7-8 .7 8.7 .7-6.4 .7 3.3 .7 3.1 .7-6.8 .7 2.4 .7-1.2 .7-.9 .7 .7 .7-.4 .7 3.3 .7-1.4 .7 2.5 .7-5.3 .7 2 .7 .5 .7-1.2 .7 3.8 .7-.6 .7-6.4 .7 5.5 .7-4.6 .7 .1 .7 5.8 .7-2.1 .7-1.9 .7 6.9 .7-1 .7-.8 .7-4.1 .7-2.6 .7 2.5 .7 3.9 .7-6 .7 1.6 .7-4.9 .7 .8 .7 2.9 .7-2.4 .7 6.8 .7-5.7 .7-2.2 .7 .3 .7-.5 .7 1.5 .7 7 .7-.6 .7-8.1 .7 5.5 .7-1.1 .7-1.9 .7 4.8 .7 .8 .7-1.1 .7-1.2 .7-5.1 .7 1.9 .7-1 .7 5.8 .7-3.6 .7 2.2 .7 1.4 .7-7.4 .7 6.9 .7-1.5 .7-.6 .7 2.6 .7-4.4 .7-.7 .7 .8 .7 .4 .7 4.5 .7-.1 .7-5.2 .7 1.4 .7 6.6 .7-5 .7-1.1 .7-.2 .7 5.1 .7-8.3 .7 6.5 .7-5.4 .7 6 .7-5.2 .7 .9 .7 1.4 .7-.9 .7-2.7 .7 4.5 .7-.5 .7-5.7 .7 7.8 .7-6.6 .7 2 .7 2.3 .7 1 .7-1.6 .7 3.5 .7-1.2 .7-3.6 .7 6.5 .7-8.6 .7 7.2 .7-.2 .7-.1 .7-2.7 .7-3.3 .7 7.1 .7-2 .7-.4 .7-2 .7-.7 .7 2.4 .7-6.1 .7 1.4 .7 4.4 .7 0 .7 .6 .7 .4 .7-2.2 .7-5.3 .7 9 .7-2.8 .7-6 .7 7.9 .7-.2 .7-6.9 .7-.3 .7 6.5 .7-4.7 .7-1.3 .7 6.3 .7 2.2 .7-8.2 .7 .6 .7 7.8 .7-1.1 .7-6.4 .7 .9 .7 4.5 .7-3.1 .7-1.3 .7-2.9 .7 6.5 .7-6.1 .7 .7 .7-1.6 .7 .1 .7 .8 .7 6.8 .7-5.6 .7 1.6 .7-5.2 .7-.9 .7 2.1 .7-.1 .7-2 .7 5.2 .7-2.4 .7 3.3 .7 .5 .7-5.1 .7 7.1 .7-4 .7 1.8 .7-2.1 .7 .4 .7-3 .7-2 .7 5.1 .7-4.1 .7-1.6 .7 6.4 .7-.9 .7-.3 .7 2.2 .7 .6 .7-4.4 .7-3 .7 .3 .7 2.9 .7 1.3 .7-4.6 .7 5.3 .7-2.4 .7 3.7 .7 2.1 .7-8.1 .7 3.8 .7 5.8 .7-2.5 .7 2.3 .7-1.4 .7 2.5 .7-4.1 .7 1 .7-.7 .7-1.2 .7-1.5 .7 2.4 .7-3 .7 3.6 .7 0 .7-4.7 .7 6.3 .7-3.2 .7-2.9 .7 4.9 .7-.1 .7 3.1 .7-4.2 .7-3.3 .7 2.7 .7 3 .7 .6 .7-5.6 .7 7.5 .7 .6 .7-1.1 .7-5.5 .7-1.6 .7 1.7 .7 5.2 .7-5.7 .7 5.3 .7-5.5 .7 1.5 .7-1.9 .7-2.3 .7 6.1 .7-6.1 .7 7.6 .7-7 .7 2.1 .7 3.6 .7 0 .7-.5 .7 1.4 .7-8.3 .7 .3 .7 1.4 .7-1.9 .7 5.3 .7 1.5 .7-4.2 .7 4.8 .7-2.1 .7-1.8 .7-3.2 .7 3 .7 2 .7-5.1 .7 6.5 .7-1.9 .7 1.5 .7-3.8 .7 3.8 .7-.8 .7 .2 .7-1.2 .7-3.3 .7 .4 .7-2.9 .7 .4 .7 3.2 .7-4 .7 6.1 .7-.6 .7-1.3 .7-4.4 .7 7.4 .7-1.4 .7-1.1 .7-2.4 .7 .9 .7-1.5 .7-.5 .7 5.8 .7 .5 .7-6.4 .7 2.7 .7-3.9 .7 1.2 .7 2.8 .7 4.6 .7-2.6 .7-.1 .7 2.3 .7-3.4 .7-1.6 .7-.1 .7 3.3 .7 3 .7-5.5 .7 6.3 .7-3.9 .7 .6 .7-5.1 .7 .3 .7 .4 .7 4.3 .7-6.4 .7 4.2 .7 1.8 .7 2.2 .7-3.8 .7-3.5 .7 3.5 .7 .3 .7-.5 .7 4.2 .7-3.4 .7 3.7 .7-2.1 .7-3.7 .7 4.6 .7-1.9 .7-2.5 .7 3.1 .7 .9 .7-4.9 .7 3.6 .7-4.2 .7 3.4 .7-1.2 .7-1.8 .7 0 .7 1.3 .7 2.8 .7 2.7 .7-4.7 .7-2.2 .7 .6 .7 5.9 .7-5.9 .7-1.6 .7 2.9 .7 2.4 .7-4 .7 6.3 .7-4.8 .7 .6 .7-4.9 .7 1.8 .7 4.8 .7-6.7 .7-2 .7 3.8 .7-3 .7 7.5 .7-7.2 .7 2.8 .7-5.7 .7 .2 .7 4.7 .7-5.1 .7 1.7 .7 5.2 .7-7 .7 8.3 .7-1.5 .7 1.9 .7-8.9 .7 .9 .7 3.6 .7-6.2 .7 10.7 .7 1.1 .7-9.3 .7 7.1 .7 2.3 .7-3.4 .7 .1 .7 4.1 .7-7.3 .7 2.7 .7-2.2 .7 2.7 .7 6.1 .7-4.1 .7-10.2 .7 1.8 .7-4.4 .7 8.4 .7 5.2 .7-.8 .7-2.9 .7-1.8 .7 1.7 .7 2.6 .7-13.3 .7 12.9 .7-.8 .7-3.4 .7 1.8 .7 3.3 .7-7.7 .7-7.2 .7 15.5 .7 .3 .7-17.3 .7 2.3 .7 3.6 .7-8.6 .7 3.8 .7 10.2 .7-1.4 .7-8.8 .7 6.4 .7 3 .7 1.9 .7-3.5 .7 5.6 .7-10.9 .7-1.1 .7 4 .7-.5 .7 3 .7 .3 .7-10.7 .7 13.3 .7-5.4 .7 3.8 .7-13.5 .7 8.4 .7-10.5 .7-3.6 .7 10.5 .7-7.9 .7 8.3 .7-2.5 .7 5.4 .7 3.2 .7-15.9 .7 13.3 .7-5 .7-7.2 .7 10.9 .7 4.6 .7-4.9 .7 3.7 .7-5 .7-.7 .7 3.3 .7-7.8 .7-3.6 .7 6.7 .7 5.6 .7-1.1 .7-10.5 .7 8.3 .7-12 .7 10.4 .7-6.7 .7 10.8 .7-2.3 .7-10.4 .7 4.9 .7 10.9 .7-14 .7 12.2 .7-13.7 .7 7.1 .7-1.1 .7 5.2 .7 1.6 .7 .7 .7-12.3 .7 13.3 .7-2 .7-4 .7 4.8 .7-7.8 .7 10.3 .7 1 .7-4.9 .7-11 .7 8.4 .7 2 .7-4.4 .7-3.9 .7-7 .7-.5 .7 7.6 .7-4.8 .7-.7 .7 15.5 .7-.3 .7-4.8 .7-3.9 .7 5.8 .7-4.2 .7 .8 .7-6.1 .7-.3 .7 .2 .7 3.8 .7 6.7 .7-11.1 .7 3.7 .7 2.6 .7-4.8 .7-1.4 .7 11.2 .7 1.4 .7-3.7 .7-2.4 .7 7.4 .7-7.6 .7 4.7 .7-7.7 .7-8.2 .7 9.8 .7 5.2 .7-2.4 .7 2.3 .7 4.3 .7-3.6 .7-6.9 .7-7.5 .7 17.1 .7-11.4 .7-4.6 .7 8.4 .7 5.4 .7-11.3 .7-6.3 .7 7.7 .7 5.9 .7-1.3 .7-2.8 .7-8.9 .7 14.6 .7-12.6 .7-.3 .7 8.3 .7 11.9 .7-5.6 .7 6 .7-5.9 .7-4.3 .7 6.1 .7-3.2 .7-1.3 .7-7.2 .7 7.8 .7 2.3 .7-2.8 .7-7.1 .7 12.1 .7-12.5 .7 3.1 .7 7.1 .7-3.2 .7-4.1 .7 9.9 .7 .7 .7-6 .7 6.1 .7-12.1 .7-1.2 .7 3.5 .7-1.2 .7 8 .7-5.3 .7 14.9 .7-7.2 .7 0 .7 6.3 .7-11.7 .7 3.1 .7 4.9 .7-.1 .7 1.8 .7-6 .7-3.9 .7 14.6 .7-.7 .7-10.8 .7 11.1 .7-14.8 .7 14.2 .7-.7 .7-2.1 .7-.9 .7 .9 .7 3.5 .7 2 .7-8.9 .7-1.3 .7 2.4 .7-1.6 .7 2.6 .7 7.3 .7-1.5 .7-.5 .7-6.1 .7-1.3 .7 7.8 .7-12.6 .7 4.9 .7 9.6 .7-8.5 .7 6 .7-5.5 .7-3.7 .7 11 .7-3.8 .7 1.9 .7-8.1 .7 9.6 .7-7.7 .7-6.5 .7 7.2 .7 2.3 .7 5.6 .7-1.8 .7-6.4 .7 2.8 .7-1.5 .7 6.2 .7-6.3 .7-5.8 .7 13.5 .7-5 .7 1.7 .7-8.7 .7 6.1 .7 1.3 .7-3.3 .7-5.8 .7 3.1 .7-1.3 .7 6.2 .7-5.5 .7 11.1 .7-11.9 .7 9 .7 2.7 .7-10 .7 5.1 .7-8.4 .7 2.6 .7 .9 .7 7.2 .7-4.8 .7 .7 .7-1.5 .7-5.1 .7 10 .7-10.1 .7 .8 .7 6.1 .7 2 .7-1.1 .7-10 .7 4.3 .7 3.9 .7 1.1 .7 3.4 .7-10.2 .7 4.3 .7 3.6 .7-3 .7 5.6 .7-1.4 .7 1 .7-11.7 .7 8 .7 .8 .7-9.8 .7 4.6 .7-4.8 .7-1.8 .7 8.4 .7-7.5 .7 6.5 .7-9.6 .7 8.3 .7-7.9 .7 6.5 .7-6.2 .7 10 .7-8.7 .7 9.7 .7-5.7 .7-5.2 .7 6.8 .7 .9 .7-8 .7 6 .7-4.2 .7-2.7 .7 3.5 .7-1.6 .7 4.1 .7 3 .7-10.8 .7 6.6 .7-2.9 .7 0 .7-.1 .7-7.9 .7 10.5 .7-6.5 .7-2.2 .7-3 .7 .2 .7 6.4 .7-4.8 .7-1 .7-4.4 .7 .9 .7 1.5 .7-.4 .7-1.8 .7-4.1 .7 3.6 .7-.3 .7-2.4 .7-6.5 .7 2.4 .7 0 .7-3.5 .7-7.1 .7 .5 .7-.9 .7-6.9 .7 .4 .7 3.2 .7-7.8 .7-3.1 .7-3.7 .7-2 .7-9.4 .7-.7 .7-.3 .7-6.6 .7-8.1 .7-3.5 .7-5.8 .7 .9 .7-13.6 .7-4.1 .7-5.8 .7-5.9 .7-12.4 .7-11.6 .7-11.9 .7-11.6 .7-11.3 .7-15 .7-9.3 .7-5.2 .4 .4 1 4.3 .7 10.4 .7 9 .7 16.1 .7 11.2 .7 10.1 .7 14.6 .7 8.9 .7 8.6 .7 4 .7 6.1 .7 11.5 .7 .6 .7 10 .7 1.2 .7 11.9 .7 2.9 .7 6.9 .7-.1 .7 4.7 .7 4.4 .7 5 .7-2.1 .7 4.5 .7 2.8 .7 1.7 .7 1.7 .7-6.2 .7 8.6 .7-4.1 .7 2.5 .7 6.5 .7 5.9 .7-2.9 .7 5.6 .7-7.1 .7 6.6 .7 4.1 .7-2 .7 5.3 .7 4.7 .7-3.2 .7 .7 .7-.1 .7 2.7 .7 2.1 .7-6.8 .7 10.3 .7-9.6 .7 3.2 .7 4.8 .7-6.7 .7 9 .7-8.1 .7 4.8 .7 7.5 .7-.5 .7-8 .7 7.4 .7-7.1 .7 1.5 .7 1.5 .7 9.2 .7-7.4 .7-.9 .7 11.7 .7-2.3 .7-4.8 .7 6.3 .7-5.7 .7-1.5 .7 7.9 .7-11.6 .7 10.1 .7-4.5 .7 1.9 .7 3.2 .7 2.3 .7-7.6 .7 8 .7-1.8 .7-2.3 .7 .7 .7-5.1 .7-1 .7-.9 .7 7 .7 5.9 .7 .1 .7-3.2 .7 4.9 .7-1.5 .7-8.9 .7 2.5 .7 8.8 .7-6.7 .7-.6 .7 .1 .7-2.9 .7 5.9 .7 2.6 .7-9.5 .7-2.7 .7 1.5 .7 7.6 .7-8.7 .7 11.6 .7-11.6 .7 7 .7-1.1 .7-3.5 .7 5.4 .7-.6 .7-.5 .7 2.2 .7 2.2 .7-8.2 .7 .2 .7 3.6 .7 7.3 .7-5.6 .7-3.3 .7-.7 .7 11.4 .7-7.1 .7 7.9 .7-5 .7 1.7 .7 1.8 .7-3.4 .7 5.6 .7-9.8 .7 8.3 .7-.7 .7 2.4 .7-8 .7 2.1 .7-7.4 .7 5.1 .7 5.1 .7-1.3 .7-7.1 .7-2.5 .7 4 .7 1.1 .7-2.1 .7-2.8 .7 11.3 .7-3.4 .7 2.1 .7 2 .7-9.4 .7 7.6 .7 .4 .7-11.2 .7-1.1 .7 12 .7-4.3 .7-3.4 .7-.3 .7 7.7 .7-2.1 .7 1.1 .7-5.4 .7 3.9 .7-.3 .7 1.6 .7-7 .7 6.8 .7 2.2 .7-3.2 .7 3.4 .7-3.6 .7 4.7 .7-8.9 .7-2.8 .7 11.1 .7-4.8 .7 1.2 .7 .5 .7-8.6 .7-.1 .7 .9 .7-2.4 .7 4.1 .7 .3 .7-.3 .7-1.8 .7 6.8 .7-8 .7 3.1 .7 7.4 .7 1.1 .7-7.3 .7 6.1 .7 .9 .7-.3 .7-1 .7-4.5 .7 2.4 .7 3.7 .7 2.2 .7-3.4 .7 3.9 .7-10.9 .7-1 .7 7.2 .7-3.6 .7 3.3 .7-6 .7 1.2 .7 8.4 .7 3.1 .7-2.2 .7-1.7 .7-5.9 .7-.3 .7 5.6 .7-6.2 .7 8.6 .7-6.5 .7 7.4 .7-5.2 .7-1.6 .7 .6 .7-4.8 .7 1.6 .7 5.7 .7-4.6 .7-6.7 .7 8.6 .7 4.1 .7-4.2 .7-6.4 .7 0 .7 9.3 .7-1.2 .7-4.7 .7 .6 .7 5.2 .7 .7 .7-5.8 .7 7.8 .7-5 .7 2 .7-6.9 .7 7.1 .7 1.9 .7-7.3 .7-1.2 .7-.5 .7 9.2 .7-3 .7-.8 .7-.4 .7-.4 .7-.4 .7 2.5 .7 3.6 .7-3.4 .7 1.6 .7-8.4 .7 6.4 .7-5.9 .7 7.3 .7 1.1 .7 .5 .7-6 .7 9.6 .7-4.4 .7 .5 .7-.9 .7 2 .7-.5 .7-4.8 .7 1.4 .7 2.3 .7 2.9 .7-5.5 .7 .9 .7-5.4 .7 2.7 .7 5.7 .7-4.1 .7 5.7 .7-3.4 .7-4.8 .7 8.8 .7-3.4 .7 3.4 .7-6.5 .7 3.8 .7-3.8 .7 1.3 .7 1.2 .7-1.3 .7 2.8 .7 4.1 .7-.6 .7-7.6 .7 5 .7 3.8 .7-7.2 .7-1.1 .7 7.1 .7-5.1 .7 3 .7 1 .7-2.8 .7 4.3 .7-5 .7 3.4 .7 0 .7-4.7 .7 1.7 .7 .3 .7 3.3 .7-8.2 .7 4.5 .7-3 .7 3.3 .7-2.7 .7-.3 .7 7.1 .7-7.1 .7 6.8 .7-5.8 .7-2 .7-1.6 .7 1.4 .7 3.6 .7 3.2 .7-1.7 .7-4 .7 0 .7 6.3 .7-7.1 .7 5.3 .7-4.3 .7-.7 .7 3.7 .7 1.4 .7-1.3 .7 .3 .7-2.1 .7 3.9 .7-6.1 .7-.7 .7 7.1 .7-4.1 .7 3.1 .7-4.8 .7-.8 .7 .7 .7 1.5 .7 2.9 .7-1.7 .7-2.6 .7 5.8 .7-1.2 .7-6.5 .7 4.7 .7-4.6 .7 6.3 .7-3 .7 4.2 .7-1.4 .7 1 .7-4.9 .7 6.8 .7-4.9 .7 1.1 .7 5.6 .7-1.3 .7-8.5 .7 6.2 .7-7.6 .7 1.6 .7 1.4 .7-4.1 .7 7.7 .7 .7 .7-6.2 .7 5.3 .7-1.2 .7-.2 .7 2.3 .7-2.3 .7-6.1 .7 8.5 .7-6.2 .7 9.5 .7-5.6 .7-2.1 .7 .7 .7 4.4 .7-4.4 .7 7.4 .7-8 .7 2.7 .7-3.2 .7 1.9 .7-4.2 .7 5.2 .7 3.6 .7-5.3 .7-1.2 .7-2.2 .7 6.9 .7-2.1 .7-2.6 .7 1.3 .7-6.5 .7 .2 .7 9.2 .7-.6 .7-1.5 .7-1 .7 1.1 .7-.8 .7-2.2 .7 1.4 .7 .9 .7 4.6 .7-3.7 .7-2.4 .7-.7 .7 3.9 .7-5.5 .7 0 .7 6 .7-4.3 .7-3.5 .7 4.9 .7 4.9 .7-7.2 .7 5.1 .7 2.3 .7-7.5 .7 7.8 .7-2.2 .7 2.3 .7-3 .7 3.3 .7-.7 .7-7.8 .7-.9 .7 2.1 .7 5.3 .7 1.1 .7-.8 .7-9.2 .7-1.2 .7 10.7 .7-1.2 .7-1.9 .7-4.4 .7-2 .7 5.4 .7-5.2 .7 3.4 .7 6.2 .7-10.1 .7 .1 .7 7.5 .7-6.7 .7 0 .7-1 .7-1.8 .7 5.2 .7-.9 .7-4.4 .7 11.4 .7-1.5 .7-9.5 .7 2.7 .7-2.7 .7 9.2 .7-6.5 .7 5.2 .7-5.4 .7 6.7 .7 .7 .7-5.3 .7 .5 .7 9.3 .7-8.8 .7 8.9 .7-7.3 .7-1.5 .7 2 .7 3 .7-7.6 .7-.8 .7 6.7 .7-4.9 .7 1 .7-3.7 .7 6.7 .7-10.7 .7 3.4 .7-6.1 .7 10 .7-9.9 .7 12.1 .7-11.1 .7 12.2 .7-7.5 .7 3.5 .7-5.6 .7 6 .7 6.1 .7-6.2 .7-5.3 .7 4.2 .7 6.3 .7 3.2 .7-7.1 .7-6.4 .7 11.2 .7-9.1 .7 5.6 .7-1.2 .7-5.3 .7-2.7 .7-1.1 .7 13 .7-.1 .7-8.7 .7-2.9 .7-1.3 .7 8.7 .7 3.6 .7-.1 .7-1.2 .7-8.3 .7 5.3 .7 0 .7-7.5 .7 5.8 .7-3.1 .7-3.8 .7 10.8 .7-1.8 .7-2.1 .7-2.6 .7 .1 .7 5.5 .7-.3 .7-4.4 .7-7.2 .7 12.4 .7-5 .7-.1 .7-3.4 .7 1.2 .7-5.1 .7 2.5 .7 8.5 .7-12 .7 10.3 .7-1.6 .7-4.4 .7 4.4 .7 1.8 .7-7.3 .7 1.7 .7-2.8 .7-4.7 .7 10.8 .7-1.8 .7-3.2 .7-3.1 .7 3.6 .7-3.3 .7-5.4 .7-.9 .7-.3 .7 7.9 .7-7.8 .7 9.2 .7-3.5 .7 0 .7-1.9 .7 .5 .7-12.6 .7 8.9 .7-7.1 .7 6.1 .7-6.9 .7 2.4 .7 5.3 .7-1.1 .7 4.3 .7-10.2 .7 8.7 .7 .5 .7 1.1 .7-.7 .7-1.9 .7-9.8 .7 9.5 .7-12.5 .7-1.5 .7 2.5 .7 3.8 .7 .2 .7-2.8 .7 4.8 .7-8.4 .7-.4 .7 6.3 .7-7.9 .7 6.4 .7-3.3 .7-4.1 .7-.6 .7 .6 .7 1.3 .7-3.9 .7-3.3 .7-4.2 .7 2 .7 .3 .7 2.6 .7 .5 .7-9.6 .7-.8 .7 6.1 .7-9.3 .7-.1 .7-2.4 .7 3.1 .7-2.9 .7-5.6 .7 3.7 .7-3.6 .7-7 .7 2.8 .7-8.8 .7 1.7 .7-5.7 .7-2.2 .7-1.2 .7-.4 .7-3.7 .7-5.3 .7-6.3 .7-4.2 .7-3.7 .7-2.3 .7-1.6 .7-4.2 .7-2.7 .7 1.7 .7-1.7 .7 3.7 .7 3.6 .7 .3 .7 4.2 .7 4.6 .7 2.9 .7 3.6 .7 7.5 .7 3.3 .7 .5 .7 6.5 .7-.9 .7 6.7 .7 1.1 .7-1.1 .7 6.5 .7-2 .7 1.2 .7 4 .7 5.8 .7 3 .7-4.2 .7 .9 .7 3.6 .7 3.6 .7-2.4 .7 5.3 .7 2 .7 .4 .7 4.5 .7-.6 .7-.8 .7 3.4 .7 2.2 .7-.3 .7-2.9 .7-.9 .7 8 .7-3.6 .7 .2 .7-.2 .7 3.6 .7 6.4 .7-1.3 .7 3.3 .7-5.6 .7 4.4 .7 .2 .7 2.5 .7-6.8 .7 1.9 .7 4.1 .7 1.7 .7 2.6 .7-2.6 .7-.8 .7 5.2 .7 0 .7 .3 .7-1 .7 3.8 .7-5.1 .7 .7 .7 3.3 .7-5.4 .7 4.3 .7-1.4 .7 3.8 .7-5.7 .7 3.6 .7 4.2 .7 .2 .7-1.9 .7-.7 .7 0 .7 3.5 .7-.4 .7-2.8 .7 .5 .7-.9 .7 3 .7-3.2 .7 4.3 .7 5.2 .7-8.2 .7 2.7 .7 3.2 .7-4.3 .7-1.9 .7 4.5 .7-3.2 .7 5.8 .7 1.7 .7 1.9 .7-5.6 .7 2.6 .7 3.3 .7-9.1 .7 6.7 .7 2.3 .7-4.9 .7-2.3 .7 7.5 .7-7.5 .7 3.1 .7-3.2 .7-.4 .7-.7 .7 1.5 .7 6.4 .7-.6 .7 0 .7 1.7 .7-7.2 .7 3.3 .7-2.2 .7 1.5 .7-1.5 .7-1.7 .7 1.3 .7 5.5 .7 2.2 .7-3.1 .7 2.8 .7-7.2 .7-.6 .7 5.2 .7-2.7 .7 6 .7-6 .7 3.7 .7-3.7 .7 1.1 .7-.2 .7 4.6 .7-3.2 .7-.3 .7-5.6 .7 7.4 .7-4.5 .7 4 .7-3.6 .7 .6 .7-2.7 .7 1.1 .7 2.5 .7-1.9 .7 7.6 .7-5.8 .7 2 .7 1.6 .7 .1 .7 3.2 .7-.7 .7-1.4 .7 .5 .7 1.5 .7-1.3 .7 .5 .7-1.7 .7-1.1 .7-7.1 .7 1.3 .7 4.9 .7-4 .7 9.7 .7-1.3 .7 .2 .7 1.8 .7-.7 .7-3.1 .7 3.3 .7-2 .7 1.7 .7-.6 .7-4.6 .7 1.4 .7 4.5 .7 .8 .7-1.4 .7-3.3 .7-.6 .7-.6 .7-.4 .7 3.4 .7-7.9 .7-1.1 .7 7.2 .7-3.1 .7-2.5 .7 7.4 .7-4.9 .7 5.8 .7-8.8 .7 9.8 .7-.6 .7-6.7 .7 1.3 .7 4.2 .7-1.8 .7 2.5 .7-1.5 .7-3.2 .7 6.2 .7 .3 .7-4.6 .7 5.1 .7 1.7 .7-9.1 .7 3.9 .7-2.6 .7 5.9 .7-3.5 .7 5.1 .7-1.4 .7-2 .7-.7 .7-5.3 .7 1.2 .7 1.4 .7 .3 .7 3.3 .7-4.4 .7 .9 .7 5.1 .7-6.8 .7 6.2 .7-2.2 .7 .2 .7-.4 .7-1.4 .7 1.8 .7-4.5 .7 2.6 .7-1.5 .7-.5 .7 6 .7-3.8 .7 1.6 .7-4.6 .7 7.3 .7-7.6 .7 8.1 .7-1.6 .7-3.5 .7-2.7 .7 5.9 .7-4.5 .7 4.1 .7-1.2 .7-1.6 .7-4.5 .7 1 .7-.6 .7-1.5 .7 8.3 .7-4 .7 .4 .7-1.4 .7 2.2 .7 .7 .7-3.4 .7 2.7 .7 2.8 .7-4 .7-1.5 .7 6.2 .7-1.1 .7-2.2 .7 .3 .7-4.4 .7 2.3 .7-2.4 .7 7 .7 1.5 .7-8.1 .7-.7 .7 5.9 .7-1.5 .7 .9 .7-2.3 .7-3.3 .7 1.1 .7 4.9 .7-3.1 .7 0 .7 6 .7-2.3 .7 1.1 .7 0 .7-8.3 .7 6.1 .7-5.3 .7 1.4 .7-.7 .7 0 .7 4.4 .7-2.3 .7-.5 .7-1.4 .7 3.6 .7-.3 .7 2.1 .7-2.5 .7 2.5 .7-.3 .7-5.1 .7-.3 .7-.9 .7 1.8 .7-.7 .7 2.7 .7-3.9 .7 3.1 .7-4.7 .7 5 .7-.7 .7-.7 .7-.5 .7-4.1 .7 2.3 .7-1.3 .7 6.4 .7 .3 .7-4.1 .7 4 .7-4.7 .7 3 .7-1 .7-3.9 .7 4.7 .7 4.4 .7-7 .7 7.3 .7-1.5 .7 2.3 .7-7.9 .7 7.6 .7-5.7 .7-3 .7 5.7 .7-.3 .7-1.5 .7 1.4 .7 1.2 .7-.2 .7-4.1 .7 .3 .7 1.9 .7-1.9 .7 3.7 .7 .6 .7 .6 .7-5.1 .7 1.6 .7-.4 .7 2 .7-2.7 .7 2.5 .7 2.4 .7-2.6 .7-2.6 .7 4 .7-.9 .7-4.1 .7 4.5 .7-6.3 .7-.7 .7 1.9 .7 4.9 .7-6.6 .7 5.4 .7-1.8 .7-2 .7 .4 .7 7.2 .7-10 .7 7.4 .7-6.8 .7 9 .7-3.1 .7-5.3 .7 2.3 .7-.7 .7-4 .7 4.8 .7 2.3 .7-5.5 .7 .5 .7 6.3 .7 1.3 .7-2.8 .7 3 .7-2.9 .7-1.1 .7-6.9 .7 6.6 .7-3.1 .7 .7 .7 3.8 .7-10.6 .7 8.6 .7-4.9 .7 .6 .7 4.3 .7-3.4 .7-2.9 .7 5 .7-2.2 .7-.1 .7-5.4 .7 8 .7 3.4 .7-3 .7-6 .7 .8 .7 3.1 .7-3 .7 6.9 .7 1.9 .7-6.5 .7 .4 .7 4.4 .7-7.3 .7 6.2 .7-3 .7 5 .7-5.1 .7 4.7 .7 .8 .7-1.9 .7 4.7 .7-1.6 .7-3.1 .7 3.3 .7 2.1 .7-6.3 .7 1.2 .7-1.4 .7-.1 .7 7.4 .7-1.4 .7-2.3 .7-.7 .7 1.7 .7 1.8 .7-9.4 .7 1.1 .7 6.7 .7-2.8 .7 .8 .7 1.6 .7-.8 .7 .3 .7-4.5 .7 .3 .7 3.3 .7 .3 .7-6 .7 7.6 .7-.7 .7-.9 .7-3 .7 2.5 .7-.3 .7-.8 .7-2.5 .7 2.6 .7 3.5 .7-3.9 .7 .2 .7 3.7 .7-5.1 .7-.3 .7 .8 .7 4.1 .7 .6 .7-4.2 .7 .7 .7-2.4 .7 1.6 .7-.3 .7 4.4 .7-.5 .7-3.1 .7 4.3 .7 1.2 .7-7.3 .7 5.2 .7-1.9 .7-2.3 .7-.5 .7 .3 .7 4.9 .7-2.3 .7-2.7 .7 .7 .7-.4 .7 4.1 .7-2.8 .7 5.7 .7-5.1 .7 3.8 .7-3 .7-2.6 .7 0 .7 .6 .7 4.6 .7-6 .7 6.1 .7-3.5 .7-3.4 .7 6.8 .7-4.5 .7-.8 .7 1.1 .7 1 .7-5.1 .7 2.4 .7 2.1 .7-4.4 .7 2.6 .7 .5 .7 .8 .7-1.3 .7-4.4 .7 3.6 .7 .2 .7-.2 .7-1.4 .7 1.7 .7-3.7 .7-2.7 .7 .8 .7-3.1 .7 2.9 .7-3.8 .7-1.3 .7 3.2 .7-6.2 .7 3.4 .7-.6 .7-2.8 .7-4.2 .7 1.2 .7-.3 .7 .5 .7-.4 .7 .1 .6-3.3 .8 .7 .7 2.6 .7-2.6 .7 3.2 .7-2 .7 2.8 .7 2.8 .7-2.7 .7 .2 .7 6.2 .7 1.9 .7-4.4 .7 1.6 .7 3.2 .7-1.7 .7-.2 .7 3.8 .7-1.8 .7 2.8 .7 1.3 .7-3.4 .7 8 .7-2.2 .7-4.2 .7 7.5 .7-5.6 .7 2.6 .7 5.1 .7-5.2 .7 .7 .7 3.1 .7-3.5 .7 .5 .7 .6 .7 3.1 .7-5.9"/>
<path stroke="#ff0000" d="M220.0 2139.6l.7-2 .7-5.3 .7 4.5 .7 4.7 .7-9.9 .7 14.2 .7-.4 .7-13.4 .7 12.5 .7-10.4 .7 8.2 .7-9.2 .7 8.4 .7 4 .7 .2 .7-5.4 .7-8 .7 4.2 .7-1.3 .7 11.8 .7-9.8 .7 5.1 .7-1.7 .7-3.7 .7 4.5 .7 6.7 .7-5.3 .7 4.6 .7-1.2 .7-7.7 .7 10.5 .7-.8 .7 2.1 .7-10.3 .7 12.8 .7-1.8 .7 .4 .7 .8 .7-5.4 .7-3.9 .7-4.8 .7 10.2 .7-.7 .7 .8 .7-9.5 .7 15.4 .7-8.1 .7-4.4 .7 15.2 .7-3.5 .7-2.9 .7 4.3 .7 .9 .7-1.9 .7-5 .7-.4 .7 5.9 .7-8.6 .7 1.1 .7 0 .7 4.6 .7 2.8 .7-1.6 .7 5 .7 3.6 .7-14.3 .7 1.9 .7 11.1 .7-6.1 .7 6.1 .7-9.3 .7 1.9 .7 13.6 .7-7.4 .7-5.3 .7 14.6 .7-12.3 .7-2.5 .7 8.6 .7 1.2 .7-8.4 .7 11.6 .7-6.4 .7 13.4 .7-11.8 .7 6.9 .7-1.9 .7-1.2 .7-10.2 .7 13.7 .7-9.1 .7 4.2 .7 6.2 .7-2.8 .7-7.4 .7 14.6 .7-2.9 .7-4.7 .7 4.4 .7-7.8 .7 .6 .7 1.5 .7-2.4 .7 .3 .7 6.1 .7-3.1 .7-3.2 .7 6.3 .7-3.5 .7 1.4 .7 4 .7-1.1 .7 6.2 .7-11.3 .7 4.7 .7 3.7 .7-8.3 .7 .8 .7 3 .7 7.4 .7-14.1 .7 10.2 .7-2.4 .7 5 .7 4.4 .7-14.5 .7 14 .7 2.9 .7-9.9 .7 6.5 .7 4 .7-6.9 .7-2.8 .7 10.8 .7-9.1 .7-1.5 .7 5.3 .7-3.6 .7-7.1 .7-.4 .7 7.6 .7-2.2 .7 3.2 .7-6 .7 5.3 .7 4.1 .7-12.7 .7 3.2 .7 9.6 .7-2.3 .7-7.1 .7 7.8 .7 2.7 .7-2.2 .7-.2 .7-5.9 .7 2.6 .7 8.7 .7-4.8 .7-1.5 .7 7 .7-11.4 .7-2.3 .7 4.4 .7-4.2 .7 1.2 .7 7.3 .7-8.5 .7 10.3 .7-6.6 .7-2.8 .7 1.6 .7-1.3 .7 3.5 .7-2.1 .7 7 .7 .1 .7-3.8 .7-2.5 .7 4.6 .7-6.6 .7 9.5 .7-7.2 .7-2.7 .7 2.9 .7-.8 .7-.3 .7 1.5 .7 5.5 .7-3.2 .7 1.6 .7-4.1 .7 5.7 .7-4.2 .7 3.2 .7-2.8 .7 5.5 .7-4.9 .7-.2 .7 3.4 .7 2.2 .7-2.5 .7 .1 .7-.8 .7 5.3 .7-3.7 .7-.4 .7-1 .7 .3 .7 6.1 .7-7.1 .7 0 .7 3.2 .7 .3 .7-3.5 .7 4.2 .7-4 .7 2.4 .7-.6 .7 1.5 .7 5.8 .7-6.7 .7 4.2 .7 1.2 .7-2.7 .7 .2 .7-.5 .7 2.5 .7 1.9 .7-3.7 .7 .6 .7 3 .7-3.8 .7 2.9 .7 .6 .7-4.1 .7-1.8 .7 2.8 .7-3.7 .7 .2 .7 6.6 .7-4.8 .7 2.9 .7-2.7 .7-1.3 .7 6.8 .7-.9 .7-2 .7 3.6 .7-3.1 .7-1 .7 1.1 .7 2.7 .7-3.7 .7-.6 .7 0 .7 1.1 .7 3.2 .7-4 .7 1.1 .7 .7 .7 1.9 .7-2.4 .7-1.8 .7 1 .7-1.2 .7 4.1 .7-1.3 .7 3.4 .7-2.5 .7 .6 .7-3.1 .7 3.6 .7 2.5 .7-4.6 .7-2.9 .7 6.6 .7-3 .7 2.3 .7 1.7 .7-.1 .7 .5 .7-2.8 .7-1 .7 3.5 .7-1 .7-1.9 .7 2.1 .7-2 .7-1.2 .7 2.8 .7-2.4 .7 2.6 .7-5.5 .7-1.4 .7 1.7 .7 1.1 .7 .5 .7 3.4 .7-7.5 .7 1.4 .7 4.1 .7 1.9 .7-6.1 .7-.6 .7 5.8 .7 .6 .7-.2 .7 2 .7-6.6 .7 5 .7 .7 .7 .6 .7 2.1 .7-7.4 .7 8.4 .7-3.4 .7-3.4 .7 3.5 .7-3.5 .7 5.1 .7-.4 .7-.5 .7-.3 .7 .3 .7-5 .7 2 .7 3.9 .7-2.9 .7-1.1 .7 2 .7-5.2 .7 5 .7-3.2 .7 2.4 .7-5.3 .7-1.7 .7 7.6 .7-3.8 .7 2.6 .7-5.4 .7 3.5 .7-.9 .7-1.4 .7-1.3 .7 3.8 .7-1.2 .7 3.6 .7-3.8 .7 5.1 .7-2.7 .7 3.5 .7-6.2 .7 2.8 .7 .9 .7 2.1 .7-2.6 .7-2.2 .7 2.2 .7 2.2 .7-5.9 .7 .4 .7-1.3 .7 7.2 .7-1.3 .7 0 .7 1.2 .7 0 .7-1.7 .7 2.1 .7-.7 .7-6.2 .7 7.1 .7-3.2 .7 .6 .7 1 .7 1.3 .7-.4 .7-7.7 .7 2.3 .7 4.2 .7-5.9 .7 0 .7 .3 .7 4 .7 2 .7 .3 .7-5.3 .7 1.4 .7 4.7 .7-2.6 .7-3.1 .7 1.9 .7 4.1 .7 .3 .7-1.4 .7-3.9 .7 .9 .7-1.8 .7 4.1 .7-1.3 .7-3.7 .7 5.7 .7-.2 .7 .2 .7-.1 .7-3.4 .7-.2 .7 3.1 .7-4.5 .7-.9 .7 5.4 .7-1.6 .7 4.2 .7-4.1 .7 2.6 .7-4.1 .7 3.2 .7-1.7 .7 3 .7 .2 .7-.8 .7-4.8 .7 5.8 .7-2.9 .7-2.5 .7 3.9 .7 1.4 .7-.5 .7 .2 .7-2.9 .7 1.3 .7-2.7 .7 2.3 .7 2.8 .7-5 .7 4.2 .7-3.1 .7 1.1 .7-2 .7 5.2 .7 1.5 .7-1.6 .7-5.1 .7 .6 .7 3.2 .7-4.3 .7-1 .7 3 .7 4.6 .7-6.3 .7 4.7 .7-3.9 .7 3.2 .7-1.4 .7 1.2 .7-3.9 .7 5.3 .7-2.5 .7 3.3 .7 0 .7-.5 .7-1.4 .7-.5 .7 .8 .7-1.4 .7-4.6 .7 3.7 .7 .4 .7-3.8 .7 5.3 .7 .2 .7-.9 .7-.6 .7 1.7 .7-.8 .7 .5 .7-.9 .7 .2 .7-1.2 .7-.2 .7 5.2 .7-1.2 .7-3.2 .7-2.5 .7-.1 .7 6 .7-5.3 .7 3.9 .7-1.6 .7-2.4 .7 2.6 .7-.3 .7 2.8 .7-6.8 .7 4.4 .7-4.3 .7 3.8 .7 2.6 .7-.6 .7-4.2 .7 .2 .7 1.1 .7 3.6 .7-3 .7-2.3 .7-1.3 .7 1.6 .7 3 .7-3.4 .7 1.9 .7-1.8 .7 3.4 .7-2.5 .7 1.8 .7-1 .7 1.2 .7 2.5 .7-4.8 .7 4 .7 .6 .7-3.1 .7 .5 .7 .7 .7-3.6 .7 1.9 .7 2.7 .7-1.3 .7 2.9 .7-.8 .7 .2 .7-5.9 .7 5.3 .7-.6 .7-4.1 .7 4.6 .7-4.4 .7 3.3 .7-.2 .7 2.1 .7-.4 .7-4.9 .7-1 .7 3.1 .7-3.1 .7 .5 .7 5.3 .7-3.6 .7 2.9 .7 .5 .7-4.8 .7 4.6 .7 1.4 .7 2 .7-6.2 .7 2.4 .7-3.6 .7 1.9 .7 4.4 .7 .9 .7-4.7 .7 4.7 .7-6 .7-1.8 .7-1 .7 7.1 .7-7.2 .7-.1 .7 .8 .7-.7 .7-.8 .7 .7 .7 3.3 .7-3.3 .7 1.3 .7 2.9 .7-.3 .7-2.9 .7 1.5 .7-.8 .7 1.2 .7-4 .7 2.6 .7 4.6 .7-6.8 .7 5.8 .7-5.9 .7 0 .7 .2 .7 3.1 .7 2.6 .7-.2 .7-4.4 .7 .9 .7 2.1 .7 1.6 .7 .1 .7-.6 .7-3.1 .7 .5 .7-4.1 .7 4.5 .7 3.7 .7-2.6 .7 .9 .7-3 .7-3 .7 4.5 .7-3 .7 3.8 .7-3.9 .7 1.6 .7 .7 .7-.5 .7 4.1 .7-7.3 .7 1.6 .7 6.6 .7-3.8 .7-.8 .7 1.6 .7-4.1 .7-1.4 .7 4.6 .7 2.8 .7-.8 .7-.3 .7-4.5 .7 6.7 .7-1 .7-5.6 .7 2.9 .7 2.9 .7-4.6 .7 3.9 .7-3.7 .7 3.3 .7 3.3 .7-4.8 .7-.4 .7-2.7 .7 3.5 .7-4.4 .7 5 .7 2.6 .7-5.1 .7-1 .7 5.3 .7-1.3 .7-4.4 .7 5.7 .7-.6 .7-2.6 .7-5.1 .7 8.5 .7-2.6 .7 3.4 .7-2 .7 .6 .7 2.2 .7-2.8 .7-1.7 .7 3.8 .7-6.2 .7 1 .7-.6 .7 .8 .7-.8 .7-4.4 .7 6.5 .7 .1 .7-6.7 .7 3.4 .7 0 .7 4.4 .7-6.4 .7 1.8 .7 4.8 .7 2.6 .7-2.7 .7 .6 .7-3.8 .7-1.7 .7 4.1 .7 2.8 .7-1.1 .7-3.6 .7 4.7 .7-5.4 .7-1.1 .7-.4 .7 4.8 .7-3.3 .7-.2 .7 5.5 .7-5.7 .7 1.1 .7-2 .7 5 .7-7.6 .7 3.8 .7 2.1 .7-1.9 .7 3 .7 .4 .7-3.7 .7 3.5 .7-4.1 .7 3.7 .7 1 .7-5.2 .7 3.2 .7 4.9 .7-1.2 .7-6.7 .7 7.3 .7-8.2 .7-.2 .7 7 .7-2 .7-1.3 .7 1.8 .7 1.3 .7-.9 .7-3.7 .7 4.1 .7-2.1 .7-5.9 .7 .8 .7 4.1 .7-1.2 .7-.8 .7 3.4 .7-4.9 .7 6.5 .7-8.6 .7 7.3 .7-1.6 .7-3.5 .7 6.8 .7-3.8 .7-3.2 .7 1.3 .7 .3 .7 2.8 .7-3.9 .7-1.9 .7 3.5 .7 1.1 .7 1.2 .7-5.9 .7 5.6 .7 1.1 .7 0 .7-1.9 .7-6.2 .7 4.8 .7-.8 .7-4 .7 6.4 .7 1.7 .7-7.3 .7 7.1 .7-1.2 .7 3 .7-1 .7 .4 .7-.6 .7 2.3 .7-1.5 .7 1 .7-4.2 .7 1.9 .7-6.6 .7 2.7 .7-.8 .7 5.3 .7-2.8 .7-1.7 .7 3.3 .7-6.8 .7 6.6 .7-1.1 .7-3.1 .7-1.1 .7 .9 .7 7 .7-8.6 .7 6.3 .7-.4 .7-2.1 .7 2.6 .7-.8 .7-5 .7-2.3 .7-.5 .7 .1 .7 2.2 .7 1.5 .7-2.9 .7-1.7 .7 4.7 .7-2.8 .7 .7 .7 1.4 .7 4.5 .7-4.4 .7-2.6 .7 1.2 .7 .8 .7-2.2 .7 7.4 .7-5.8 .7-2.6 .7 .6 .7 4.4 .7-1.4 .7 .1 .7-2.1 .7 8.4 .7-2.7 .7-6.3 .7 6 .7-.5 .7 .1 .7-.8 .7 3.1 .7-8.2 .7 .6 .7 .9 .7-1.9 .7 .4 .7 5.1 .7-6.3 .7 7.8 .7 .1 .7-6.3 .7-.7 .7 4.3 .7 1.1 .7 1.1 .7 1.2 .7-.2 .7-8 .7 7.8 .7-8.8 .7 2.5 .7 3.3 .7-3.1 .7-2.7 .7 7.3 .7-.2 .7-5.4 .7 .3 .7 5.3 .7-6.4 .7 .1 .7 7.2 .7-8.4 .7 3.1 .7-3.2 .7 7.6 .7 1.1 .7-1.3 .7-4.7 .7 6.2 .7 1.2 .7-6.8 .7 6.8 .7-9.7 .7 10.5 .7-10.1 .7 3.6 .7 1.5 .7 6 .7-2.2 .7-2.2 .7 1.4 .7-.6 .7-1.9 .7-4.2 .7-3.8 .7 7.6 .7-2.9 .7 4.5 .7-10.6 .7 9.3 .7-3.5 .7-3.8 .7 7.5 .7-1.3 .7 1.6 .7-.9 .7-9.3 .7 2.4 .7 1.7 .7 1.4 .7-2.7 .7 7 .7-9.3 .7 3.6 .7-7.4 .7 9.4 .7-2.1 .7 4.6 .7-10.3 .7 .7 .7 3 .7-1.8 .7 3.4 .7-1.6 .7 5.5 .7-3 .7-2.4 .7-3.6 .7-3.9 .7 10.6 .7-5.4 .7-4.4 .7 2 .7 4.5 .7-11.5 .7 4.9 .7 3.4 .7-4.3 .7-2.1 .7-6.6 .7-.9 .7 5 .7-11.7 .7 6.2 .7-9.6 .7 3 .7-10.1 .7-5 .7-2.9 .7-.2 .7-4.9 .7-9.2 .7-10.8 .7-3.4 .7-10.8 .7-13 .7-16.4 .7-10.6 .7-17.2 .7-11.1 .7-10.6 .7-6.7 .4-1 1 1.9 .7 7.9 .7 8 .7 15.9 .7 10.1 .7 7.8 .7 9 .7 14.2 .7 8.9 .7 2.5 .7 9.8 .7 .2 .7 3.5 .7 4.4 .7 11.3 .7-4.4 .7 10.6 .7-3.1 .7 7.1 .7 7 .7-.2 .7 1 .7 3.9 .7-3.5 .7 5.9 .7-.6 .7 8.2 .7-4.9 .7 3.7 .7 .9 .7 1.7 .7 7.7 .7-2.1 .7 3 .7-5.8 .7 1.7 .7 9.5 .7-10 .7 10.3 .7-4.2 .7 6.1 .7-6.9 .7-2.9 .7 4.9 .7-1.8 .7 4.5 .7-7.5 .7 3.6 .7 6.7 .7-3.1 .7 2.9 .7-7.4 .7 4.2 .7 2.7 .7-3.2 .7 2.2 .7-11.1 .7 8.6 .7-7.4 .7 9.8 .7-.6 .7-.4 .7-.7 .7-3.1 .7-4.2 .7 3.2 .7-1.1 .7 3 .7 .5 .7-11.5 .7 9.7 .7-6 .7 3.6 .7-6.7 .7-3 .7 3.3 .7-4.8 .7 3.2 .7-1.3 .7-7 .7 3.8 .7-13.1 .7 4.1 .7-8 .7-.4 .7-5.1 .7-12.3 .7-4.4 .7-9 .7-1.7 .7-11.7 .7-4.5 .7-6.6 .7-3.1 .7-3.3 .5-.9 .9 4.2 .7 2.2 .7 4.8 .7 6.6 .7 4 .7 7.8 .7 5.3 .7 9 .7 5.9 .7-.3 .7 2.5 .7 7.2 .7-3.2 .7 6.6 .7-3.1 .7 9.6 .7-1.5 .7 3.1 .7 6 .7-5.4 .7 9.8 .7-9.3 .7-2.2 .7 4.6 .7 8 .7-8.6 .7-3.5 .7 5.9 .7 2.5 .7-5.8 .7-.8 .7 1 .7-5.5 .7 1.1 .7-4.6 .7-5.3 .7-2.7 .7-12 .7-7.8 .7-3.4 .7 .6 .7-19.2 .7-6.3 .7-11.2 .7-8.5 .7-17.1 .7-15.1 .7-15.8 .7-10.6 .7-18.8 .7-13.3 .7-17.2 .7-10 .7-5.7 .5-1.7 .9 5.8 .7 10.2 .7 10 .7 12.9 .7 19.9 .7 18.6 .7 10.9 .7 16 .7 18.5 .7 3.3 .7 22 .7 8.1 .7 6.8 .7 12.3 .7 7 .7 1.4 .7 8.6 .7 3.6 .7 1.1 .7 1.9 .7 9.3 .7-3 .7 4.8 .7 2.1 .7 2.7 .7-8.4 .7 9.5 .7-5.2 .7 2.2 .7 7.1 .7-5.5 .7 12.7 .7-10.4 .7 7.7 .7-4.6 .7 10.8 .7-9.9 .7-1.7 .7-.5 .7 8.2 .7 1.6 .7-1.1 .7 5.3 .7-8.7 .7 2.4 .7 8.8 .7-13.4 .7 6 .7 3.5 .7-1.3 .7-5.3 .7 11.4 .7-2.1 .7-13.5 .7 6.2 .7 1 .7 .3 .7-7.3 .7 4.1 .7 7.9 .7 1.1 .7 4.8 .7-6.3 .7 7.6 .7-13.3 .7 7.9 .7-4.5 .7 6.1 .7-8 .7 15.1 .7 .7 .7-9.1 .7 .2 .7-4.7 .7 8.4 .7-6.8 .7 9.1 .7-10.1 .7 11.5 .7-11.7 .7 2.9 .7 7.8 .7 .1 .7 3.2 .7-.5 .7-5.5 .7 3.7 .7 1.2 .7-5.2 .7 6.7 .7-10 .7-.9 .7 .1 .7 3.4 .7 3.2 .7 7.7 .7-3.3 .7-2.8 .7 2.2 .7 3 .7-8.1 .7-.2 .7 10 .7-11.5 .7 9.2 .7-5.2 .7-6.4 .7 6.8 .7-4.7 .7 8.8 .7-1.7 .7-1.5 .7-3.7 .7-1.6 .7 5.7 .7 1.6 .7-7.5 .7 5.4 .7 1.5 .7-2.8 .7-1.3 .7 1.8 .7 3.6 .7 3.4 .7-3.9 .7-2.1 .7-4.5 .7-1.3 .7 4.8 .7-6.2 .7 10.5 .7-9.8 .7 8.7 .7-5.6 .7 1.8 .7-6.9 .7 10.9 .7-6.2 .7 3.3 .7-2.6 .7-1 .7 8.8 .7-2.8 .7 .2 .7-5.5 .7 4 .7 3.1 .7-.6 .7-4.1 .7-.3 .7-1 .7 5.1 .7-3.3 .7 4 .7-1.6 .7 .6 .7-8.3 .7 8.7 .7-6.6 .7 4.6 .7-1.5 .7-3.1 .7-5.6 .7 4.1 .7-3.8 .7-2.4 .7 1 .7 4.1 .7 1 .7-6.9 .7 1.5 .7 3.2 .7 1.4 .7-7.8 .7 4.2 .7 2.7 .7-4.3 .7-3.8 .7 3.6 .7-5.7 .7 7 .7-8.4 .7 2.7 .7-2.7 .7-1.2 .7 1.6 .7 1 .7 .5 .7-1 .7-4.9 .7 1.4 .7 2.8 .7-6.4 .7 .8 .7 .6 .7-2.9 .7 1.4 .7 1.9 .7-4 .7 1.8 .7-2.8 .7 .2 .7-1.6 .7 2.5 .7 1.1 .7-.7 .7 .5 .7-1.1 .4-.2 1-2.3 .7 3.3 .7-3.2 .7 4.2 .7-.9 .7-3.1 .7 3.2 .7-1.6 .7-.6 .7 4.6 .7-3.1 .7 1.3 .7 2.3 .7 1.8 .7-.3 .7-1.7 .7 .2 .7 1.5 .7-1.4 .7 5.5 .7-3.3 .7 1.7 .7 4.8 .7-2.5 .7 1.5 .7 .6 .7 1 .7 1.1 .7 4.5 .7 1.1 .7 .4 .7-6.1 .7 .5 .7 6.2 .7-4.3 .7-1.7 .7 7.2 .7-4 .7 1.3 .7 4.6 .7-7.6 .7 8.8 .7-4.7 .7-2.2 .7 5.8 .7-5.5 .7 3.7 .7 3.9 .7 1.7 .7 1.6 .7-.4 .7-6.6 .7 5.2 .7-1 .7-3.9 .7-1 .7 4.4 .7-3.5 .7 3.6 .7 2.9 .7-2.4 .7-1.7 .7 5.6 .7-9.4 .7 5.8 .7 2 .7-1.7 .7-6 .7 8.1 .7 3 .7-2.9 .7-3 .7-.1 .7-4 .7 8.5 .7-2.2 .7 5.7 .7-.7 .7-7.4 .7 5.4 .7 4 .7 .6 .7-.9 .7-7.5 .7 4 .7 4.7 .7 .6 .7 .1 .7-9.6 .7 2.1 .7 3.3 .7-2.6 .7 1.4 .7 5.2 .7-3.6 .7 1.4 .7 3.6 .7-5.5 .7 4.8 .7-6.8 .7-3.1 .7 2.6 .7-4.8 .7 9.7 .7-7.8 .7 6.8 .7 0 .7 .7 .7-1.4 .7-6.2 .7 1.1 .7 .2 .7-2.6 .7 2.7 .7 7.1 .7-6.7 .7-1.8 .7 1.4 .7 1.7 .7 3.5 .7-1 .7 1.1 .7-8.2 .7 12.2 .7-10.9 .7 .4 .7 2.8 .7-3.7 .7 4.4 .7 4.5 .7-10 .7 7.7 .7-1.9 .7-2 .7 6.1 .7-8.4 .7-2 .7 4.8 .7 5.1 .7-10.1 .7-1.1 .7 7.3 .7-1.5 .7-5.8 .7 1.1 .7 2.5 .7 2.8 .7-.9 .7-2.6 .7-2.1 .7 7.3 .7-5.6 .7-.6 .7 1.7 .7-1.6 .7 3 .7-3.6 .7-2.3 .7-2.1 .7-3.4 .7 2.8 .7-5.8 .7 .2 .7 .9 .7-4.2 .7-4.9 .7-2.1 .7-5.6 .7-.6 .7-2.6 .7-4.2 .7-1.1 .7-4.5 .7 .4 .3-.4 .4 .7 .7-.6 .7 3.2 .7 2.2 .7 4.8 .7 3.6 .7 3.4 .7 .9 .7 4.2 .7 3.2 .7 1 .7 3.2 .7 3.3 .7-1.2 .7 2.7 .7 .1 .7 4.4 .7 4.7 .7-2.7 .7 4.7 .7 .1 .7-5.3 .7 2.2 .7 1.9 .7-2.9 .7 1.9 .7-1.2 .7 5.5 .7 .1 .7 .1 .7 1 .7 1.9 .7-.5 .7-1.2 .7 1 .7 1 .7-7.6 .7 7.7 .7-8.7 .7 6.9 .7-5.4 .7-.3 .7 8.7 .7-9.3 .7 3.6 .7-2.6 .7 .4 .7 4 .7-5.3 .7-1.8 .7 9.4 .7-11 .7-.5 .7 7.9 .7-4.3 .7 4.8 .7-2.3 .7 0 .7 .8 .7 4.1 .7-7.5 .7 8.8 .7-6.3 .7 3.8 .7-.1 .7-.8 .7-.7 .7-1.6 .7 5.2 .7-1.7 .7-7.6 .7 1.2 .7 3.8 .7-4.2 .7 1.3 .7 7.7 .7-4.8 .7 5.7 .7-10.3 .7 4 .7 4.2 .7-4.7 .7-3.9 .7 8.1 .7-8.2 .7 2.1 .7-1.5 .7 2.1 .7 .1 .7-.4 .7 4.3 .7-.1 .7-5.1 .7 9.2 .7-.4 .7-5.8 .7 1.3 .7-.8 .7-3.1 .7 2.9 .7 4 .7 .3 .7-4.7 .7 3.4 .7 2.4 .7-7.8 .7-.1 .7 .3 .7 7.5 .7 0 .7-1.1 .7-2.2 .7-5.1 .7 0 .7-.1 .7 6.6 .7-3.7 .7 5.1 .7 2.2 .7-6.3 .7 3.5 .7 3.1 .7-7.8 .7 8.1 .7-3.7 .7-.5 .7 2 .7-5.8 .7-.4 .7-.4 .7 7.4 .7-6.6 .7-1.2 .7-1 .7 2.3 .7 3.1 .7 .5 .7-1.8 .7-3.9 .7 7.1 .7-5.3 .7 1.6 .7 4.6 .7-4.3 .7 2 .7-1 .7 7.1 .7-1.1 .7 .3 .7 .4 .7-9.3 .7 2.6 .7 5.5 .7-7 .7 1.4 .7 4.7 .7-.5 .7-1.9 .7 4.1 .7-6.6 .7 6.8 .7-6.2 .7-1.6 .7 1.5 .7 6.7 .7-8.7 .7 1.9 .7 3.8 .7-2.6 .7 3.9 .7-6.2 .7 0 .7 4.4 .7-4.5 .7 3.7 .7-2.6 .7 4.5 .7-.9 .7-2 .7 .9 .7-2.4 .7 3.6 .7-4.6 .7 5.7 .7-2.8 .7-.7 .7-1.3 .7 2.9 .7-1.5 .7-1.6 .7 5.1 .7 .8 .7-7.9 .7 5.9 .7-5 .7 1.1 .7 2.3 .7-1.5 .7 .5 .7 2.6 .7-4 .7 4.5 .7-2.6 .7 3.7 .7-5.4 .7 1.7 .7 .3 .7-2.1 .7 1.5 .7-.9 .7 0 .7-.5 .7 4.5 .7-3.7 .7 5.2 .7-8.4 .7 1.7 .7 .8 .7 2.6 .7-2.1 .7-.8 .7 5.1 .7-6.9 .7 2.2 .7-.7 .7 .8 .7-2.6 .7 8 .7-1 .7-6.8 .7 4.4 .7 1.7 .7 1.3 .7-3.2 .7-3.2 .7-1.9 .7 .4 .7 1.5 .7 1.5 .7 .6 .7-1.5 .7 5.4 .7-3 .7 2.6 .7-3.8 .7-4.7 .7 3 .7 1.3 .7 1.4 .7-2.4 .7-3.3 .7 2.4 .7 .4 .7 2.2 .7 .8 .7-9.2 .7-.2 .7 6.4 .7-2.9 .7-1.5 .7 0 .7 1.7 .7 1 .7-.4 .7-4.1 .7 4.1 .7 3.1 .7-.6 .7-1.4 .7 1.4 .7-2.4 .7-6.7 .7 4.8 .7 .3 .7-2.8 .7 2.1 .7-1.9 .7-1.3 .7-6.3 .7 4.4 .7-3 .7-3 .7 3.2 .7-5.1 .7-2.5 .7-5.2 .7-1.3 .7 2.5 .7-7.9 .7-2.8 .7-.8 .7-4.4 .7-4.5 .7-4.5 .7-9.5 .7-1.6 .7-6.8 .7-6.4 .7-7.6 .7-3.8 .7-4.9 .7-2 .7 .1 .7 .2 .7 3.1 .7 3.7 .7 5.8 .7 4.6 .7 5.4 .7 7.6 .7 5 .7 5.5 .7 1.2 .7 5.7 .7 8.2 .7 0 .7 5.7 .7 2.1 .7 1.8 .7 2.2 .7 3.5 .7 2.1 .7-.6 .7 .7 .7 9.5 .7-1.3 .7 2.4 .7 2.1 .7-3.8 .7 4.5 .7-3 .7-1.2 .7 5.3 .7-.7 .7 1.1 .7-2.4 .7 .9 .7-4.4 .7 .5 .7 3.3 .7 .9 .7 3.3 .7-7.3 .7 6 .7-6.7 .7 1.7 .7 4.8 .7-4 .7 1.3 .7 .8 .7-1.8 .7 2.5 .7-1.9 .7 1.3 .7 .7 .7 1.4 .7 .8 .7-.8 .7-6.1 .7 6 .7-6.2 .7 4.1 .7-2.8 .7 .6 .7 4.9 .7 3 .7-3.4 .7-5.2 .7 2.6 .7-2.3 .7 8.2 .7-2.7 .7-2 .7 1.4 .7-6.5 .7 7.1 .7-5 .7-2.4 .7 1.3 .7 2.7 .7 4.4 .7-3.5 .7-3.7 .7 .2 .7 .6 .7 .2 .7 2.1 .7 1.1 .7-.2 .7 0 .7 1.4 .7-3.7 .7 5.8 .7-4.7 .7-2.6 .7 3.4 .7 5.6 .7-1.4 .7-4.9 .7 2.2 .7-3.6 .7 2.3 .7 2.7 .7-1.4 .7 2.2 .7-1.1 .7-.2 .7 0 .7-4.1 .7 .9 .7 4.9 .7-6.1 .7 7.2 .7-3.9 .7-3.1 .7-1.8 .7 1.6 .7 4.7 .7-4.9 .7-1.5 .7-.2 .7 2 .7 5.2 .7-5.1 .7-2 .7 5.1 .7-1.1 .7-2.1 .7 2.2 .7-3.6 .7-1.9 .7 2.6 .7 4.8 .7 1.1 .7-7.8 .7 .8 .7-.5 .7 6.8 .7-6.2 .7-1.1 .7 .4 .7 4.7 .7-6.3 .7 0 .7 1.6 .7-.4 .7 3.2 .7 1.3 .7-2.4 .7-2.6 .7 0 .7-.6 .7 4.8 .7-5.5 .7 1.7 .7 2.9 .7-6 .7 2.7 .7-6.9 .7 .7 .7 1.5 .7-.5 .7 5 .7-6.5 .7 3.6 .7 1.7 .7-6.1 .7 2.4 .7-2.4 .7 1.5 .7-5.7 .7 1.2 .7 3.3 .7-1.9 .7 .9 .7-4.5 .7 2.9 .7 .2 .7-.8 .7-2.8 .7-1.1 .7 3.3 .7-3.2 .7-4.8 .7 5 .7-5.1 .7-.6 .7-2.7 .7 5.4 .7-6.3 .7 4 .7-2.1 .7-2.9 .7 2.7 .7 .3 .7-3.5 .7-3.3 .7-1.5 .7-1.7 .7 3.8 .7-5 .7 1.9 .7-3.4 .7 .7 .7-3.3 .7-.5 .7-3.7 .7-1.4 .7-1.3 .7-3.6 .7-2.1 .7-2.8 .7-2.3 .7-2 .7-4.3 .7-5.6 .7-1.9 .7-2.8 .7-.2 .7-2.8 .7 1 .3-.9 .4 1.9 .7 .9 .7 .9 .7 4 .7 2.6 .7 5.1 .7 4.6 .7 3.6 .7 5.3 .7-.5 .7 4.4 .7 1.6 .7 5.9 .7 2.7 .7 3.1 .7 .3 .7 3.9 .7 1.5 .7 0 .7 3.5 .7-1 .7-2.4 .7 3.3 .7 4.7 .7 .4 .7 0 .7 3.9 .7 1.6 .7 1.6 .7 1.2 .7-.5 .7-3.6 .7 1.7 .7 3.1 .7 .6 .7-3.9 .7 4.4 .7 1.3 .7-4.7 .7 4.2 .7-3.3 .7 7 .7-1.8 .7 .4 .7-1.4 .7 4.2 .7-6.1 .7 3.1 .7-2.3 .7-.7 .7 7.5 .7-4.4 .7-2.5 .7 6.7 .7 2.4 .7-2.6 .7 3.7 .7-7 .7 1 .7-2 .7 .7 .7 5.7 .7-1.2 .7-4.1 .7 3.6 .7-4.7 .7 5 .7-2.8 .7 .6 .7-2.5 .7 .3 .7 5.7 .7 .1 .7-2.3 .7 1.4 .7 1.9 .7 1.4 .7-.7 .7 2.4 .7-6.8 .7 5.4 .7-3.4 .7 6.6 .7-8.2 .7 .8 .7 5.6 .7 .2 .7 0 .7-5.1 .7 1.1 .7 3.4 .7-7.2 .7 2.9 .7 4.5 .7-6 .7 6.5 .7-7.2 .7 1.2 .7-4.7 .7 .7 .7-1.1 .7 2 .7-1 .7-1.5 .7-2.1 .7 .2 .7-2.2 .7 2.8 .7 .8 .7-1.1 .7-3.2 .7-.2 .7 .3 .7-3.8 .7 1.1 .7-1.6 .7 3.2 .7 .4 .7-1.2 .7 .5 .7 2.9 .7-5 .7 3.8 .7 2.6 .7 .6 .7-3.1 .7-.2 .7 5.7 .7-4.7 .7 .3 .7 7.4 .7-4 .7-1 .7 3 .7-.4 .7 1.1 .7 0 .7 4.5 .7-1.4 .7-3 .7 3.6 .7-3.6 .7 1.4 .7-2.5 .7 2.3 .7 2.1 .7-6.6 .7 4.1 .7-3.7 .7 3.7 .7-1.5 .7-7.8 .7 .1 .7-1.6 .7 1.1 .7-4 .7-.4 .7-4.4 .7-2.1 .7-.5 .7-3.6 .7-6.2 .7-2.3 .7-4.7 .7-.2 .7-6.2 .7-1.5 .7-5.1 .7-2.1 .7 .8 .4-2 1 1.6 .7 2.1 .7 2.9 .7 .8 .7 4.7 .7 5 .7 3.1 .7 2.6 .7 4.4 .7 3.6 .7-1.7 .7 3.1 .7 6.8 .7 .6 .7 2.2 .7 1.6 .7-3.3 .7 5.4 .7 .8 .7-1.3 .7-5.9 .7 .6 .7 2.3 .7-3.6 .7-2.2 .7-1.1 .7-4.1 .7 .6 .7-4.6 .7-.1 .7-.9 .7-1.5 .7-.8 .3-.3 .4 .6 .7 .6 .7 2.4 .7 .3 .7 3.7 .7 3.1 .7 .4 .7 6.9 .7 1.7 .7 1.8 .7-.5 .7-.2 .7 3.5 .7 3.1 .7 0 .7-2 .7 6.9 .7-5.5 .7 1.6 .7 1.6 .7 4.3 .7 1.1 .7-.1 .7-3.7 .7 5.4 .7-3.2 .7-1.4 .7 6.6 .7-.5 .7-4.4 .7 6 .7-.9 .7-6 .7 .4 .7-.9 .7 6.3 .7-2.4 .7-2 .7-.9 .7 4.8 .7 1 .7-3.9 .7 7.1 .7-1.6 .7 1.1 .7-5.3 .7 5.5 .7-4.4 .7-1.2 .7 1.6 .7-2.5 .7 1.9 .7 3.5 .7 1.9 .7-4.8 .7 .1 .7 4.8 .7-1.3 .7-3.7 .7 2.7 .7 3.9 .7-3.1 .7 1.8 .7-1.1 .7 1.5 .7-6.2 .7 1.4 .7-4.3 .7 4.3 .7 1.3 .7-.4 .7 .4 .7-7.1 .7 1.8 .7 6.7 .7-3.7 .7 1.6 .7-5 .7 6.4 .7-1.4 .7 1.4 .7-1.3 .7 2.5 .7-3.6 .7 1.8 .7 2.2 .7-5.7 .7-.7 .7 1.6 .7 1.5 .7-1.4 .7 1.2 .7 3.9 .7-4.1 .7-1.8 .7-.5 .7 2.7 .7 3.9 .7-7.8 .7 3.8 .7-1.2 .7-2.2 .7 .2 .7 1.1 .7 5 .7-6.6 .7 3.2 .7-3.1 .7 6.3 .7 .6 .7-1.3 .7-3.1 .7 .8 .7 2.2 .7-7.1 .7 2.8 .7-3.5 .7 8.6 .7-6 .7-.9 .7 7.8 .7 1.7 .7-1 .7 2.1 .7-2.6 .7 1.3 .7-5.5 .7 6.3 .7-8.1 .7 6.3 .7-5.1 .7 4.7 .7-5.9 .7 0 .7 8 .7-6.3 .7 1.4 .7 1.2 .7-1.8 .7 .1 .7 5 .7-3.2 .7-1.8 .7-.2 .7-1.4 .7 2.7 .7 5.1 .7-9 .7 5.1 .7 .4 .7-5.8 .7 5.3 .7-.6 .7-1.7 .7-1 .7 8.5 .7-9.8 .7 5.5 .7-4 .7 6.2 .7 1.7 .7-5.4 .7 2.3 .7-.5 .7 3.1 .7-5.9 .7 6.2 .7-9.7 .7 7.1 .7 .7 .7-8.5 .7 .5 .7 6.4 .7 .6 .7-1.3 .7-3.6 .7-4 .7 2.8 .7 2.1 .7 5.8 .7-3.3 .7-.4 .7 .7 .7 3.3 .7-7.7 .7 4 .7-3.2 .7 7.7 .7-10.2 .7 1.8 .7-1.2 .7 7.8 .7 1.9 .7-6.5 .7 .5 .7-2.9 .7 3 .7 4.3 .7-.1 .7-7.1 .7 7 .7 1.1 .7-5 .7 1.7 .7 1.3 .7-8.3 .7 8.6 .7-2.9 .7-1.6 .7 1.9 .7-6.7 .7 1.4 .7 5.2 .7-4.7 .7 .2 .7 4.2 .7 3.3 .7-3.6 .7 8.3 .7-6.9 .7-3.8 .7 7.5 .7-7.5 .7-1.6 .7 5.8 .7-5.9 .7 4.2 .7 5.2 .7-4.8 .7 5 .7-.3 .7-4.4 .7-.7 .7-.2 .7-2.9 .7-3 .7 3.4 .7 6.1 .7-10.9 .7 11.2 .7 1 .7-10 .7 2.7 .7-.8 .7 7.7 .7-8.7 .7 11.1 .7-3.1 .7-3 .7 0 .7-3 .7 9.3 .7-3 .7 5.1 .7-3.8 .7-2.8 .7 6.5 .7-11.8 .7 2.8 .7-1.3 .7-2.3 .7 9.4 .7-12 .7 4.3 .7 .5 .7-2.3 .7-1.5 .7 7.9 .7-2.2 .7 .9 .7-2.1 .7-7.3 .7 11.9 .7-8.1 .7 1.8 .7 1.9 .7-1.5 .7-2.6 .7 2.6 .7 6.1 .7-.7 .7-.4 .7-.1 .7-1.3 .7 5.8 .7 2.1 .7-3.8 .7 .6 .7-5.2 .7 1.8 .7-5.1 .7 8.4 .7 2 .7-12 .7 .4 .7 .1 .7 5 .7-5.6 .7 3.4 .7-3.9 .7-.4 .7 1.1 .7 5 .7 5.6 .7-1.9 .7-7.3 .7 4.8 .7 2.9 .7-8.9 .7 2.5 .7 4.7 .7-4.9 .7-1.6 .7 6.6 .7-10.1 .7 7.6 .7-6.3 .7 1.4 .7 4.8 .7-6.4 .7 11.9 .7 .6 .7-10.5 .7 7.4 .7-6.9 .7 12 .7-3.4 .7-2.9 .7-2.2 .7 5.5 .7 2.2 .7-.7 .7 .3 .7-8.1 .7 5.7 .7 2.6 .7-8.2 .7 3 .7 4.3 .7-.5 .7-3.9 .7 3.1 .7-1.4 .7 2.8 .7-.4 .7-6.7 .7-2.1 .7 12.3 .7-8.5 .7 2.8 .7 7.6 .7-6.4 .7 5 .7-5.5 .7 6.8 .7-9.8 .7 8.9 .7-4.7 .7 4.3 .7-1.8 .7-8.5 .7 6.9 .7 1.1 .7-1.1"/>
<path stroke="#0000ff" d="M220.0 2252.1l.7-8.3 .7 5.1 .7-2.2 .7-2 .7 2 .7 .3 .7 2 .7 2.9 .7-6.7 .7 4.6 .7 5.7 .7-3.1 .7 10.9 .7 .5 .7-4.4 .7 6.5 .7 2.5 .7-1.9 .7 3.2 .7 2 .7 3.4 .7 1.6 .7 0 .7 3 .7 .2 .7-1.7 .7-.5 .7 1.7 .7 4 .7-2.6 .7 5.3 .7-2.4 .7-2 .7 3.9 .7 .5 .7-.7 .7-1.6 .7 3.7 .7-.8 .7 2.3 .7-.5 .7-3.8 .7 8.8 .7-8.7 .7 3.9 .7-.8 .7 2.5 .7 3.8 .7 .1 .7 2.9 .7-1.3 .7 5 .7-4.2 .7 3.4 .7 .6 .7-4.3 .7 3.3 .7-.5 .7 2.9 .7-1.5 .7 4.6 .7 2.3 .7 4.5 .7 3.6 .7-3.5 .7 3.6 .7-.3 .7-2.4 .7 .4 .7 3.7 .7 4.7 .7-1.9 .7 1.4 .7 .6 .7-.9 .7-3.9 .7 2.6 .7 1.1 .7-5.3 .7 3.5 .7 .9 .7-3.6 .7 6.2 .7 .1 .7-4.6 .7 2.2 .7 7.5 .7-4.1 .7-1 .7 7.1 .7-3.2 .7 2.6 .7 3.7 .7-2.9 .7-3.2 .7 6 .7 2.5 .7-4.7 .7 2.6 .7 2.2 .7-6.6 .7 6.2 .7-2.6 .7 1.1 .7 3.8 .7-.6 .7-5.7 .7 2.9 .7 2.8 .7 1.6 .7-5.2 .7 5.2 .7-1 .7-3.2 .7 4.2 .7-.2 .7 .5 .7-1 .7 1.4 .7 4 .7-3.2 .7 4.8 .7-1.2 .7 .5 .7-3.2 .7-2.3 .7-1.8 .7 3.1 .7 .1 .7-1.1 .7-2.8 .7-.7 .7 7.6 .7-4.2 .7 4.7 .7 .1 .7-1.9 .7 3.2 .7 1.3 .7-2.6 .7-5.7 .7 6.2 .7-1.2 .7 3.1 .7-3.9 .7 3.5 .7-2.8 .7 2.5 .7-1 .7-2.1 .7 1.2 .7-2.5 .7 5.6 .7 2.8 .7-2.8 .7-4 .7 4 .7-2.5 .7 1.5 .7-3.7 .7 9.8 .7-4.4 .7 .4 .7-5.2 .7 0 .7 7.4 .7-.7 .7-2 .7 .3 .7 2.6 .7-2.4 .7-.4 .7-4.4 .7 1.2 .7 .1 .7-1.6 .7 4.1 .7-3.7 .7 9.6 .7-2.7 .7-2.7 .7-.3 .7 5.6 .7 2.1 .7 1.3 .7-10 .7 3.9 .7 5.7 .7-4.4 .7 2.3 .7-4.8 .7 5.6 .7 1.1 .7-7.7 .7 .9 .7 1.3 .7 6.5 .7-10 .7 6.6 .7-.1 .7 2.5 .7-7.8 .7 1.1 .7 7.5 .7 1.8 .7-5 .7-.5 .7 2 .7-6.6 .7 7.2 .7-10.1 .7 7.1 .7 2.5 .7-8.7 .7 3 .7-.9 .7 6.3 .7-7.2 .7 2.7 .7 2.4 .7-6.8 .7 4.2 .7-2.5 .7 1.1 .7-1.2 .7 2.8 .7-4.6 .7 2.6 .7-.5 .7 5.9 .7 .1 .7-3.5 .7-3.8 .7 5.7 .7 .2 .7 .3 .7-1.5 .7-1.1 .7-3.1 .7 1.7 .7 .2 .7 2.3 .7-.5 .7 2.1 .7 5.7 .7 .6 .7-7.3 .7 2.2 .7 5 .7-3.7 .7-8.7 .7 5.1 .7 4.6 .7-5.5 .7 7.3 .7-10.3 .7 7.3 .7-1.8 .7-.2 .7-4.9 .7-.1 .7 2 .7 4.1 .7-3.8 .7 8.8 .7-4.5 .7-1.7 .7 2.9 .7-6.8 .7 7.9 .7-7.7 .7 9.1 .7-10.4 .7 8.5 .7 1.4 .7-7.2 .7-.7 .7 9.1 .7-5.9 .7 3.3 .7-2.1 .7-2.2 .7 10.4 .7-8.9 .7 1.7 .7-1.9 .7 5.5 .7-.6 .7 .3 .7-8.1 .7 4.2 .7-8.4 .7 3.4 .7 3.1 .7-2.6 .7 8.7 .7-4.3 .7 3.6 .7-9 .7 5.7 .7-3 .7 4.3 .7 1.5 .7 .2 .7-5.3 .7 8.2 .7-6 .7 3 .7 5 .7-1.7 .7-7.6 .7 8.3 .7-5.9 .7 .5 .7 1 .7 .9 .7 6.1 .7-3.6 .7-3.5 .7-1 .7 7.9 .7-11.1 .7 .8 .7 10 .7-3.2 .7-.3 .7-1.6 .7-6.2 .7 3.5 .7-.1 .7 .6 .7 .4 .7 3.4 .7-8.9 .7 7.2 .7 1.6 .7-.2 .7-8.5 .7 .2 .7-.2 .7 2.6 .7-.9 .7 .3 .7-.3 .7-.2 .7 4.5 .7-2.7 .7 .9 .7-.1 .7 4.9 .7-2.5 .7 .8 .7-.2 .7-4.4 .7 3.7 .7 2.8 .7-4.7 .7-.7 .7 1.5 .7-2 .7 6 .7-.8 .7 2.8 .7-7.8 .7 3.6 .7-1.1 .7-6.4 .7-.1 .7 7.5 .7-6.9 .7 5.7 .7-1.4 .7 2.7 .7-7.1 .7 6.1 .7-.5 .7-5.1 .7 10.6 .7-9.2 .7 10.2 .7-10.7 .7 2.5 .7 4.9 .7 3.5 .7 .4 .7-6.7 .7-3.7 .7 5.7 .7 2.1 .7 .4 .7-8.2 .7-3 .7 5.2 .7 4.9 .7-3.4 .7-1.3 .7 5.3 .7-8.6 .7-1.6 .7 3.9 .7 4.6 .7-7.3 .7 3.6 .7 4.5 .7-9 .7 9.7 .7-8.7 .7-.3 .7 3.8 .7 5.6 .7-2.8 .7-5.9 .7 6.3 .7-4.8 .7 .4 .7 6.9 .7-2.3 .7 1.8 .7-8 .7 2 .7 8.8 .7-.6 .7-5.5 .7 4.3 .7-3.1 .7 2.7 .7-5.3 .7 .7 .7-1.7 .7-5.5 .7 5.8 .7-.7 .7-.4 .7-2.3 .7 3.6 .7 4.4 .7-4.9 .7-4.1 .7 7.2 .7 3.1 .7-4.9 .7-.5 .7 1.9 .7-3.4 .7 9.4 .7-7.1 .7 5 .7-2.2 .7 4.7 .7 .7 .7-4 .7-5.1 .7 2.6 .7-2.5 .7 2.2 .7-2.6 .7-2.7 .7 6.6 .7-3.6 .7 3 .7-8.6 .7 8.7 .7 1.4 .7-10.9 .7 8.1 .7 1.9 .7-9.2 .7-1.2 .7 2.8 .7 2.9 .7-.6 .7-4.3 .7 11.9 .7-3.2 .7 3.4 .7-6.3 .7 3.7 .7-3.3 .7-3.4 .7 10.6 .7 .3 .7-12.6 .7 9.5 .7-4.4 .7-4.2 .7 9.4 .7-8.2 .7 .6 .7 8.6 .7-7 .7 7.8 .7-12 .7 2 .7 5.7 .7 0 .7-1.1 .7 3.2 .7-2.3 .7-2.4 .7-3.7 .7-2.4 .7 3.3 .7-2 .7 6.7 .7 2.2 .7 .4 .7 .5 .7-5.9 .7 7.9 .7-5.2 .7 2.6 .7 2 .7-3.6 .7 .6 .7 .5 .7-.3 .7 2.5 .7-8.3 .7 3.7 .7-3 .7 3.5 .7-4.9 .7 7.8 .7-5.7 .7 7.1 .7-9.5 .7 6.8 .7-5.7 .7 4 .7-1.7 .7-4.5 .7 8.3 .7 4.1 .7-9.3 .7-1.4 .7-.3 .7 8.9 .7 3.8 .7-11.7 .7 .8 .7 8.4 .7-5.8 .7 6.9 .7-3.7 .7 .7 .7 1.8 .7-8.5 .7-4.8 .7 0 .7 11.3 .7-6.1 .7-4.9 .7 12.2 .7-12.7 .7-.6 .7 1.5 .7-2.1 .7 6.2 .7-1.3 .7 7.8 .7-11.7 .7-.8 .7 7.3 .7-4.6 .7 7.6 .7-12.9 .7-.7 .7 8.8 .7-2.9 .7 1.4 .7-.5 .7 8 .7-9.6 .7 13.3 .7-15 .7 .7 .7 1.1 .7-3.1 .7-2.2 .7 13.8 .7 .8 .7-15.9 .7 3.3 .7 8.5 .7-7.9 .7-6 .7 9.5 .7 7.4 .7-16.5 .7 9.5 .7-1.5 .7 4 .7-14.4 .7 8.6 .7-7.5 .7 8.1 .7-8.3 .7 2.1 .7 12.1 .7-.5 .7-11.8 .7 7.8 .7 1.5 .7-5.4 .7 6.6 .7 7.2 .7 0 .7-9.4 .7-.3 .7 11.2 .7 1.3 .7-.3 .7-5.3 .7-2.8 .7 5.1 .7-6.6 .7-1.1 .7 10.6 .7-.3 .7-16.3 .7 11.3 .7-9.5 .7 .2 .7 6.7 .7-10.4 .7 2 .7 3.3 .7-3 .7 4.4 .7 2 .7-4.5 .7 2.5 .7-6.4 .7 .4 .7-5 .7 4 .7 5.3 .7-7.3 .7 9.6 .7-13.7 .7 5.6 .7-3 .7 5.8 .7 2.1 .7 6.6 .7-.1 .7-8.5 .7 .8 .7 10.8 .7-7.3 .7 5.9 .7-8.5 .7 4.8 .7-4.3 .7 5.1 .7 9.3 .7-8.5 .7 3.6 .7-11.8 .7 2.6 .7 5.4 .7 3.7 .7 2.6 .7-5.7 .7 2.4 .7-9.8 .7 8.8 .7-.8 .7-3.3 .7-5.1 .7 11.2 .7-4.4 .7-9.7 .7 4.6 .7-.2 .7 5.3 .7-9.3 .7 10.6 .7-12.5 .7 .8 .7 9.9 .7-4.6 .7 4.2 .7-6.9 .7-3.2 .7 13.3 .7-9.3 .7 8.9 .7-1.6 .7-7 .7 9.3 .7 .5 .7-4.6 .7 5.6 .7-12.6 .7 11.5 .7-4.6 .7 2.4 .7 3.1 .7-8.2 .7 10 .7 0 .7-6.7 .7 3.5 .7-6 .7-5.3 .7 12.6 .7-10.4 .7 8.4 .7-7.5 .7-4.3 .7 11.5 .7-11.4 .7 10.7 .7-12.4 .7 8 .7 6.5 .7-11.5 .7-2.6 .7 5.6 .7 5.2 .7-7.8 .7 3.9 .7 4.9 .7-10.3 .7 11.7 .7-3.7 .7 4.1 .7 .4 .7-13.3 .7 13.1 .7-6.7 .7 2.3 .7 1.7 .7 3 .7-3.1 .7-3.2 .7-1.6 .7 8.9 .7-13.6 .7 3.2 .7-1.3 .7-4.3 .7-.3 .7 15 .7-13.1 .7-3.3 .7 10.3 .7 .1 .7-2.5 .7-8.9 .7 16.4 .7-16.9 .7 3 .7 2.8 .7-3.8 .7 6.5 .7-3.4 .7 3.5 .7 1.7 .7-3 .7 1 .7-5.3 .7-3.2 .7 16.3 .7-6.1 .7-6.4 .7 1.2 .7 1.4 .7 10 .7-2.7 .7 .7 .7 .4 .7 .9 .7-5.9 .7-2 .7-3.5 .7 8.2 .7-12.2 .7 3.1 .7-1.8 .7 9.7 .7 .7 .7 7.7 .7-12.8 .7-1.8 .7 1.4 .7 8.4 .7-6.6 .7-6.9 .7 2.9 .7 .2 .7 13.7 .7 2.4 .7-9.4 .7-.2 .7 4.1 .7 3.2 .7-3 .7-3.9 .7 9.1 .7-10.2 .7-1.5 .7-6.2 .7 5.6 .7-3.9 .7 9.8 .7-11.9 .7 0 .7 10.6 .7 2.9 .7-12.3 .7 2.8 .7 4.7 .7-10 .7 3.8 .7 6.5 .7 4.9 .7-1.6 .7 4.2 .7-10.5 .7-4.3 .7 16.8 .7-19.4 .7 5.8 .7-6.9 .7 8.4 .7 2.7 .7 3.9 .7-7.8 .7 2 .7-5.8 .7 4.3 .7-.6 .7 3.4 .7-16.5 .7 5.5 .7-7.4 .7 3.5 .7-4.9 .7 2.9 .7 5.4 .7 1 .7-5 .7-5.1 .7 1.7 .7-5.2 .7 11.6 .7-6.1 .7 9.1 .7-9.7 .7 1.9 .7-4.6 .7 16.1 .7 1 .7 0 .7 .1 .7-10.3 .7-2.6 .7 13.9 .7-2.1 .7-6 .7 6 .7 1.6 .7-8.8 .7-13.5 .7 12.8 .7-12.8 .7 .5 .7 14.7 .7-2.3 .7 5.9 .7-9.9 .7-5 .7 1.8 .7 8.8 .7-14.6 .7 19.5 .7-5.8 .7-1.2 .7 1.2 .7-7.8 .7 8.2 .7-10.7 .7 13.1 .7-4.2 .7-15.4 .7 6.5 .7 3.3 .7 .5 .7-1.1 .7-5.2 .7-.6 .7 11.8 .7-2.8 .7 4.6 .7-10.1 .7 .1 .7 9.4 .7 2.2 .7-14.2 .7 16.4 .7-4.9 .7 1.5 .7-1.9 .7-2.9 .7-8.5 .7 4.4 .7 0 .7-2.4 .7-.7 .7 4.9 .7-4.4 .7 3.7 .7-2.3 .7 .7 .7 7.4 .7-4 .7 1.7 .7-6.3 .7 .2 .7 4.2 .7 .5 .7-.3 .7-2.9 .7-1.6 .7-7.1 .7 4 .7-1.6 .7-4 .7-5.1 .7 3.7 .7-8.8 .7 5.4 .7-3.3 .7-5.2 .7 .5 .7-8.3 .7 .5 .7 .8 .7-6 .7 .4 .7-2.6 .7-.3 .7-3.7 .7 .2 .7-4.2 .7 .9 .7-1.1 .7-3.7 .7-3.3 .7 .2 .7-1.4 .7-2.7 .7-2.2 .7-.7 .7 .2 .7 .3 .4 .2 1-2.7 .7 1.4 .7 2 .7-1.4 .7-2.2 .7 .2 .7 6 .7-4.3 .7 2.3 .7 1.8 .7-.3 .7-.3 .7 6.8 .7 1.7 .7-2.5 .7 5.9 .7-4.9 .7 .7 .7 5.4 .7 7.9 .7-9 .7 7.5 .7 1.2 .7 3.8 .7-3.9 .7 4.6 .7 2.5 .7-7.9 .7 11.9 .7-6.3 .7-1.4 .7-4.4 .7 4 .7 6.6 .7-2.3 .7-5.3 .7 9.3 .7 2.8 .7-4.4 .7-3.3 .7 5.9 .7-4.8 .7 6.1 .7 13.8 .7-17.6 .7 11.8 .7-12.8 .7 18.7 .7-18.5 .7-3.6 .7 19.2 .7 .5 .7-20.1 .7 20.1 .7-21.7 .7 11 .7 7.9 .7-22.2 .7 19.3 .7 3 .7-16.9 .7 12.2 .7-11.5 .7 9.4 .7-5.6 .7-9.2 .7 13.2 .7-1 .7-15.9 .7 20.7 .7-4.6 .7-11.4 .7 6.3 .7 3.4 .7 10.3 .7-13.3 .7 1.4 .7 1.3 .7-9.3 .7 17.6 .7-1.6 .7-5.7 .7-2.7 .7 4.8 .7-2.3 .7-12.1 .7-2.2 .7 9.1 .7-1.2 .7 6.2 .7-11 .7-2.3 .7 15 .7-16.9 .7 16.5 .7 2.2 .7-18.3 .7-5.1 .7 11.5 .7-11.3 .7-.1 .7 5.2 .7 8.8 .7-13.4 .7-.7 .7 8.4 .7 1.1 .7-1.3 .7 12.1 .7-13.7 .7 14.2 .7-3 .7 .4 .7 .5 .7-4.9 .7-3.8 .7-7.3 .7 10.9 .7-5 .7 1.3 .7-5.9 .7-6.8 .7 1.2 .7-10.5 .7 8.8 .7-8.5 .7 4.3 .7-9.7 .7 5.3 .7-1.3 .7-10.1 .7 2.1 .7 .2 .7-4.1 .7-2 .7-8.8 .7 .2 .7 .8 .7-3.9 .7 2.5 .7-5.2 .7 .9 .7 1.1 .6-.5 .8 3.8 .7 .7 .7 .4 .7-.5 .7 6.2 .7 2.8 .7-.9 .7 1.7 .7 6.1 .7-2.8 .7 8.4 .7-4.6 .7-2.3 .7 10.8 .7-7.3 .7 2.4 .7 8.5 .7 9.4 .7-11 .7 5.5 .7 .6 .7 1.7 .7 15.8 .7-8 .7-5.6 .7 17.5 .7-11 .7-1.6 .7 11.6 .7 3.7 .7 7 .7-14.1 .7 16.1 .7-2.5 .7 6.6 .7-13.2 .7 7.4 .7 7.8 .7-7.1 .7-15.1 .7 11.2 .7-4 .7 7.8 .7-10.7 .7 5 .7-5.6 .7 18.4 .7-7.4 .7 7.4 .7-18 .7 9.7 .7-2.2 .7-2.5 .7 12.4 .7-16.3 .7-4.7 .7 12.6 .7-11.3 .7 8.5 .7 9.4 .7-4.2 .7 2.2 .7 5.8 .7-16 .7 11.2 .7-5.9 .7 11.5 .7-8.5 .7 7.4 .7-7.5 .7 9.7 .7-5.5 .7 5.3 .7 4 .7 1.4 .7 5.9 .7-9.1 .7-8.5 .7 7.3 .7 9.5 .7 .1 .7-2.9 .7-11.4 .7 2.4 .7 9.7 .7 1.4 .7-11 .7 8.7 .7-.6 .7 4.6 .7-4.7 .7 2 .7-3.1 .7 .5 .7 3.1 .7 8 .7-6.5 .7 2.9 .7 0 .7-2.6 .7-1.7 .7 7 .7-1.2 .7 4.8 .7-7.3 .7-1.5 .7 .8 .7-.3 .7 5.5 .7-.6 .7 1.2 .7 3.7 .7-6.1 .7-2.8 .7-.2 .7 0 .7 3.3 .7 0 .7 1.6 .7-3.2 .7 1.5 .7 2.6 .7 1.9 .7-5.9 .7 2.1 .7 1.1 .7 2.3 .7 1.2 .7-3.2 .7 .8 .7 .1 .7 6.1 .7 .8 .7-.9 .7 2.1 .7-5.2 .7-4.7 .7 7.6 .7-7.4 .7 7.3 .7 3.4 .7-11 .7 7.5 .7-2.8 .7-2.1 .7 3.6 .7-1.9 .7 3.5 .7-4.9 .7 6.2 .7-5.3 .7 7.8 .7-5 .7 4.6 .7-.5 .7-.7 .7-3.2 .7 1.2 .7 2.1 .7-.8 .7-5.5 .7 1.7 .7-2.3 .7 3.3 .7 7.5 .7-7.6 .7 2.9 .7-.9 .7-2.1 .7 0 .7 5.6 .7-9.8 .7 2.9 .7 6 .7-7 .7 4.8 .7-5 .7-3.4 .7 10 .7-10.3 .7 7.3 .7-6.6 .7 3.6 .7 8 .7-12.1 .7 5.5 .7 5.6 .7 1.9 .7-11.2 .7 3.2 .7-2.6 .7 5.5 .7-4.8 .7 3.5 .7-5.2 .7 5.5 .7-3.1 .7-1.5 .7-1.9 .7 5.6 .7 1.5 .7 1.7 .7-6.5 .7 4.5 .7-1.5 .7 10.1 .7-10.8 .7 2 .7-3.2 .7-.7 .7 3.3 .7 6.6 .7-2.3 .7 2 .7-2.2 .7-4.9 .7 .6 .7-4.3 .7 2.3 .7-2.2 .7 4.7 .7-.4 .7 7.6 .7-4.3 .7-5.4 .7 4.7 .7-.7 .7-.9 .7 2.6 .7 2.7 .7-10 .7 13.9 .7-11.8 .7 3.1 .7 1.8 .7 5.3 .7-13.1 .7 6.6 .7 2.7 .7-8 .7 .1 .7 2.6 .7 6.6 .7-2.1 .7 3.1 .7-5 .7-5 .7 10.9 .7-8.8 .7-1.1 .7-.8 .7-3.9 .7 5.6 .7 9.1 .7-6.3 .7-4.2 .7-4.2 .7 2.5 .7 5.3 .7-11.6 .7 4.5 .7-3.9 .7 14 .7-5 .7 7.3 .7 2.9 .7-.8 .7-9.2 .7 4.4 .7-4.2 .7-3.8 .7 12.2 .7-5.7 .7-3.3 .7 10.1 .7-12.8 .7 1.9 .7-3.4 .7 10 .7-8.6 .7 7 .7 4.5 .7-9.4 .7 5.7 .7 2.9 .7-8.1 .7 .4 .7-.7 .7-5.7 .7 3.1 .7-1.1 .7 6.7 .7-2.7 .7 8.7 .7-13.9 .7 2.2 .7 1.9 .7 9.2 .7-15.4 .7 1.5 .7 5.9 .7 9.2 .7-15.3 .7 16.6 .7-10.2 .7 2.6 .7 1.9 .7 .8 .7 0 .7-3.1 .7 2.9 .7-5.9 .7 .8 .7-.2 .7-.2 .7 4.8 .7-8 .7 8.4 .7-7.2 .7 10.6 .7 1 .7-11.3 .7-1.7 .7 2.4 .7-2.5 .7 13.2 .7-3.4 .7-8.1 .7 9.8 .7-11.7 .7 8.4 .7-13.4 .7 10.6 .7-8.7 .7 10.1 .7-7.6 .7 5.2 .7-2.4 .7 8.1 .7-14.3 .7 3 .7 8.9 .7-2.8 .7-5.7 .7 .2 .7-3.8 .7 13.5 .7-13.2 .7 5.2 .7 5.1 .7-7.6 .7-2.5 .7 12.8 .7 2 .7-5.7 .7 3 .7-9.3 .7-5.2 .7 1.4 .7 .8 .7-2.4 .7 5.3 .7-1.1 .7 5 .7-8.6 .7 3.9 .7 7 .7-1.8 .7 1.4 .7-8.4 .7 7 .7-7.6 .7 2.5 .7 5.2 .7 4.1 .7-1.9 .7 2.3 .7-9 .7 13.6 .7-11.7 .7 12.5 .7-6.9 .7-3.3 .7-3.3 .7 9.2 .7-6.7 .7-4 .7 5.4 .7 8.4 .7-12.3 .7 3.5 .7 6 .7-10.6 .7 11.2 .7-8.5 .7 1.8 .7 5.2 .7-9.2 .7 8.4 .7-8.7 .7 14.2 .7-5.5 .7 1.6 .7-4.3 .7-.5 .7 8.2 .7-6 .7 6.2 .7-7.9 .7-4.2 .7 11.3 .7-1.1 .7-5.6 .7-5.7 .7 2.8 .7 4.6 .7 3.1 .7-3.8 .7 5.8 .7-.6 .7 2.7 .7-3.1 .7-4 .7 4.9 .7-10.3 .7 .5 .7 8.5 .7-1.2 .7-8.6 .7 7.3 .7 3.9 .7 2.5 .7-11.4 .7 11 .7-6.7 .7-5.6 .7 3.9 .7 9.3 .7-1.1 .7-4.8 .7 .3 .7 1.5 .7 7 .7-9.3 .7 2.3 .7 .1 .7 6.4 .7-7 .7 3.9 .7 5.1 .7-12.6 .7 10.6 .7-.7 .7-8.7 .7 7.3 .7-4.8 .7-3.6 .7 6 .7-3.5 .7 9.1 .7-10.1 .7 1.3 .7 6.2 .7 .6 .7 .1 .7-5.2 .7 10.4 .7-1.9 .7-5.5 .7-.1 .7-3.8 .7 .6 .7 3 .7-3 .7 3.4 .7-5.1 .7 1.5 .7-3.1 .7 4.4 .7-5.8 .7 6.3 .7 6.1 .7-4.6 .7-4.4 .7 5.7 .7-.8 .7 1.2 .7-10.3 .7 11.3 .7-9.3 .7-1.3 .7 4.9 .7-7.1 .7 .8 .7 13.3 .7-3.8 .7-8.5 .7 10.2 .7-3.2 .7-6.5 .7 1.2 .7 5.7 .7 6.3 .7-8.4 .7 7.5 .7-5.6 .7-4.1 .7 6.6 .7 3 .7 .3 .7-5 .7-4.4 .7 1.2 .7-2.4 .7 0 .7 5.3 .7-4.6 .7 7.6 .7 1.4 .7 1 .7-2.6 .7-4.5 .7 0 .7 7 .7-1 .7 .6 .7-.8 .7 1.3 .7-10.5 .7 1 .7-1.3 .7 7 .7-1.3 .7 6.1 .7-6.8 .7-.7 .7-4.1 .7 11.1 .7-10.9 .7 9 .7-4.2 .7 1 .7 2.3 .7 1.6 .7-5.4 .7-.5 .7 3.4 .7-2.8 .7 1.9 .7-1.2 .7 1.5 .7 6.1 .7-8.5 .7-1.4 .7-1.6 .7-2.1 .7 6 .7 .3 .7-4.5 .7 6.6 .7-2.3 .7 1.2 .7 1.7 .7-9.1 .7 5.5 .7-3.7 .7 7.5 .7-1.3 .7 .8 .7-3.8 .7 5.7 .7-4.6 .7 .7 .7-1.5 .7-2.5 .7 .2 .7 .9 .7 .9 .7 3.4 .7-7.4 .7 1.9 .7 1.2 .7 5.3 .7-4.9 .7 4.1 .7-1.2 .7-3.9 .7 4 .7 4.6 .7-4.8 .7 3.2 .7 1.2 .7-2 .7 2.2 .7-5.4 .7-3.4 .7 5.8 .7-5.6 .7 5.4 .7-5.5 .7-1.7 .7 6.1 .7-6.7 .7 7.3 .7-5.5 .7 7.3 .7 .4 .7-5.1 .7-1.8 .7 3.8 .7-4.5 .7 4.8 .7-4.9 .7 7.3 .7-3.2 .7 1 .7-.8 .7 .8 .7-5 .7 2.8 .7-1.7 .7-.4 .7 2.2 .7-3.5 .7 6.2 .7 1.9 .7-8.3 .7 4.6 .7 4.3 .7-8.4 .7 4.9 .7 1.4 .7-6.2 .7-1.8 .7 7.3 .7-1.1 .7-6.3 .7 1.4 .7 3.3 .7-1.6 .7 1.4 .7 4.8 .7-7 .7 .6 .7 5.2 .7-3.1 .7 3.5 .7-8.5 .7 3.6 .7 1 .7-1.1 .7 1.9 .7 2.8 .7-2.9 .7-.7 .7-3 .7 3.6 .7-3.9 .7-2.5 .7 6.5 .7-4.4 .7 2.3 .7-5.4 .7 5.5 .7-1.4 .7-5.4 .7 5 .7-5.7 .7-1.6 .7 5.1 .7-8.8 .7 1.7 .7-3.2 .7 1.3 .7-.1 .7-2.2 .7 1.1 .7-5.4 .7 .9 .7-.3 .7 1.2 .7-4.3 .7-.7 .7-1 .7 5.1 .7-2.9 .7-3.6 .7 2.8 .7-4.1 .7-1.1 .7 3.2 .7-3.5 .7-2.3 .7 4 .7-1.2 .7-1.4 .7-1.1 .7-2 .7 2.4 .6 .6 .8-.3 .7-1.3 .7 1.9 .7-4.1 .7 3.6 .7-3.2 .7 1.8 .7 .6 .7-.9 .7 6 .7-2.3 .7 4.7 .7 .8 .7-6 .7 6.2 .7-3 .7 .8 .7-1.9 .7 1.6 .7 4 .7 .8 .7 1.6 .7 .2 .7-2.1 .7 2.8 .7-6.3 .7 8.7 .7-7 .7 2 .7-.6 .7 1.7 .7-.9 .7 2.4 .7-1.2 .7 4.7 .7 6.6 .7-7 .7 2.1 .7 4.1 .7-3.2 .7 1.8 .7-3.3 .7 2.8 .7-4.1 .7 5.6 .7 2.7 .7-6.1 .7 1.1 .7 5.1 .7-9.7 .7 2.5 .7 6.1 .7 2.1 .7-3.5 .7-3.1 .7 3.6 .7 .9 .7-1.8 .7 2.7 .7-.5 .7-2.8 .7-1.9 .7 1.8 .7-2.3 .7 6.2 .7 1 .7-2.5 .7-2.7 .7 1.5 .7-1.5 .7-6.3 .7 3.3 .7 2.7 .7 3.2 .7-9.3 .7 4.4 .7-.8 .7-3.1 .7 1.9 .7 7.5 .7-11.4 .7 1.1 .7 8.1 .7-.7 .7-3.5 .7 .2 .7 2.7 .7-5.9 .7 5.5 .7-.5 .7-1.7 .7-4.6 .7 10.9 .7-.2 .7 1.1 .7-6.4 .7-5 .7-2.7 .7 7.3 .7-10.1 .7 10.9 .7-6.5 .7 2 .7 6.9 .7-10.4 .7 3.8 .7 1.4 .7-6.6 .7 4.7 .7 .4 .7 8 .7 .7 .7-4.8 .7-9.5 .7 10.8 .7 2.8 .7-.2 .7-12.5 .7 9.9 .7-10.8 .7 8.6 .7 4.3 .7-5.1 .7-1.7 .7-3.2 .7 11.4 .7-9.5 .7 2.2 .7-2.3 .7 7.6 .7-1 .7-1.8 .7-6.9 .7 6.4 .7 4.3 .7-5.1 .7 4.2 .7-1.5 .7 3.5 .7-9 .7 1.7 .7-6.7 .7 12.2 .7-9.2 .7 5 .7 4.1 .7-8.4 .7 4.3 .7 6 .7-4.2 .7-3.6 .7 .8 .7-1.2 .7 1.8 .7 6.8 .7-6.1 .7 1.5 .7-3.6 .7 1.7 .7 8.2 .7-2.7 .7 3.5 .7-9.3 .7-3.3 .7 15.1 .7-15.5 .7 3.3 .7 4.7 .7-2.9 .7 8.2 .7-2.5 .7 6.2 .7-12 .7 12.5 .7-9.4 .7-3.9 .7 4.2 .7-9.3 .7 5 .7-2.2 .7 14 .7 .5 .7-18.8 .7 11.4 .7-10.5 .7 16.4 .7-14.8 .7 9.3 .7 .4 .7 2.2 .7 .6 .7-14.7 .7 1.2 .7 7 .7-2.5 .7-3.5 .7 10.2 .7 2.2 .7-9.1 .7 7.1 .7-12.4 .7 1.1 .7 16.4 .7-17.8 .7 7.2 .7-8.7 .7-2.9 .7 3.5 .7-.9 .7 11.1 .7-.6 .7-2.7 .7-.9 .7 6.6 .7-1 .7-8 .7 5.3 .7-16 .7 12.9 .7-9.3 .7 4.9 .7-3 .7-3.8 .7-1 .7 18.5 .7-14.1 .7 .3 .7 9 .7-13.4 .7 11.3 .7-4.8 .7-6.2 .7-.7 .7 16.7 .7-1.3 .7-.2 .7-14.4 .7 15.3 .7-12.7 .7-1 .7 10 .7 6.1 .7 1.3 .7-16.3 .7 17.3 .7-9.8 .7-2.1 .7 12.7 .7-4.9 .7-10.8 .7 14.9 .7 1.4 .7-.2 .7-16.5 .7 7.5 .7-2.5 .7-5.3 .7 10.9 .7-8.1 .7 4.2 .7 8 .7-15.9 .7 .1 .7 3.3 .7 4.9 .7 7.8 .7-14.8 .7 7.5 .7 4.2 .7 .4 .7-8.1 .7-1.3 .7-2.9 .7 10.6 .7-9.7 .7 9.4 .7-11.6 .7 4.2 .7 .3 .7 4.7 .7 9.3 .7-4.7 .7-2 .7 2.5 .7-5.6 .7-6.4 .7-.3 .7 12.7 .7 1.8 .7-9 .7 9.5 .7-3.1 .7-7.8 .7 4.8 .7-1.3 .7-4.1 .7 15.4 .7-15.6 .7-1.1 .7 6.2 .7 6.1 .7-1.3 .7-13.1 .7 13.1 .7-9.7 .7-3.3 .7 2.2 .7-3.2 .7 8.5 .7-9.1 .7 8.1 .7-8.7 .7 7.4 .7-1.7 .7-1.8 .7-1.7 .7 12.2 .7-10.4 .7-1.7 .7-.6 .7 13.5 .7-12.7 .7 4.4 .7 3.1 .7-4.8 .7 14.1 .7 1.9 .7-4.4 .7-6 .7 4.4 .7 1.7 .7 4.5 .7-5 .7 .7 .7-10.6 .7 12.9 .7-13.3 .7-.2 .7 .5 .7-2.9 .7 6.3 .7 12 .7-8.3 .7-6.2 .7 3.6 .7 5 .7 5.6 .7-7.5 .7 4.9 .7-2 .7 2.7 .7-4.1 .7-5 .7 1.8 .7-14.1 .7 6.7 .7 2 .7 5.7 .7-13.4 .7 12.9 .7-14.4 .7 14.8 .7 1.8 .7 3.1 .7-19 .7 20.2 .7-15.2 .7 17 .7-4.7 .7-1.4 .7 3.7 .7-3.7 .7-3.5 .7 11.1 .7-10.5 .7 8.4 .7-16.3 .7-3.6 .7 14.2 .7 .5 .7-5.3 .7-2.9 .7 4.5 .7-8.4 .7 5.2 .7 7 .7 1.6 .7-14.8 .7 14.2 .7-6.8 .7-9.5 .7 11.9 .7-1.1 .7 9.5 .7-8.2 .7 12.8 .7-12.5 .7 3.6 .7-7.2 .7 13.2 .7-19.9 .7 22 .7-21.4 .7 4.4 .7 6.9 .7-.1 .7-12.2 .7-4.4 .7 17.3 .7-2.2 .7-5 .7 7.9 .7-2.9 .7-6 .7 8.1 .7-.2 .7-17.6 .7 15.9 .7 2.8 .7-2.8 .7-11 .7 18.1 .7-10.1 .7 .4 .7-4.1 .7 5.3 .7 2.9 .7 4.2 .7 2.4 .7-.4 .7-1.3 .7 2.6 .7-2.3 .7-15.6 .7 14.6 .7 5.2 .7-17.9 .7 15.2 .7 7.9 .7-1 .7-13.3 .7 11.2 .7-3.1 .7 7.3 .7-13.5 .7-6.8 .7 15.8 .7-7.6 .7 .1 .7 8.5 .7-10.2 .7-3.5 .7 1.7 .7 7.7 .7-1.2 .7-8.2 .7 10.9 .7-12.8 .7-2.4 .7 14.9 .7 1.3 .7-8.4 .7-6.7 .7 18.5 .7-11.8 .7 9.8 .7 5.8 .7-5.2 .7-7 .7-.3 .7 5.4 .7 8.9 .7-9.4 .7-2.6 .7 10 .7-11.9 .7-3 .7 8.4 .7-3.4 .7 9.1 .7-2.1 .7-9.6 .7 3.3 .7 8.1 .7 2 .7-3.8 .7-8.8 .7 12.5 .7-14.9 .7-.3 .7 1.5 .7 9.1 .7-7.9 .7 9.1 .7-12.4 .7 9.7 .7-2.1 .7-3.9 .7 9.3 .7-12.3 .7 5.3 .7-5.8 .7 3.2 .7 6.2 .7 3.2 .7-4.6 .7-.5 .7-2.4 .7 11 .7-7.4 .7 9.5 .7-11.7 .7 6.8 .7 .7 .7-7.1 .7 2.3 .7-2.4 .7 8.4 .7 1.9 .7-3 .7 2.7 .7-9.1 .7 0 .7 5.4 .7 6 .7-3.8 .7 3.1 .7-8 .7-.9 .7 6.4 .7-.8 .7-4.6 .7 0 .7 5.5 .7-1.5 .7 .4 .7 2.2 .7-6.8 .7 8.6 .7-8.2 .7 5.9 .7-6.8 .7 3.8 .7 3.3 .7 2.5 .7-5.3 .7-1.3 .7 .7 .7-5.2 .7 5 .7 3.2 .7 .5 .7 1.1 .7-5.5 .7 5.1 .7 1.2 .7-9.3 .7 6.4 .7 2 .7-6.8 .7-.4 .7-.9 .7 3 .7-1.4 .7 .1 .7-.6 .7-2.5 .7 3.4 .7-.6 .7-2 .7 5.2 .7-.6 .7 4.3 .7-8.6 .7 3.2 .7-2.9 .7 5.6 .7-3.4 .7 .3 .7-3.9 .7 2.6 .7 1.4 .7-5.5 .7 6.5 .7-3.3 .7 5.8 .7-8.1 .7-.2 .7 6.5 .7-3.5 .7 4 .7-2.9 .7 4.6 .7-5.4 .7 2.2 .7 2.5 .7-5 .7-2.2 .7 3 .7 2 .7 3.1 .7-.1 .7-4.5 .7 .6 .7 1.5 .7-3.4 .7 1.9 .7-.5 .7-2.5 .7 4.4 .7 2.1 .7-.9 .7 1.7 .7-6.1 .7 1.5 .7 2.3 .7-2.5 .7 3.8 .7-4.4 .7 3.9 .7 .4 .7 .8 .7-.1 .7-.7 .7-4.2 .7 2.2 .7 2.1 .7-5.5 .7 2.6 .7 4 .7-3 .7-2.9 .7 5 .7-.3 .7-.2 .7-1 .7 1 .7-3.7 .7 4.8 .7-6.2 .7 5.1 .7 2.9 .7-2.9 .7-6.4 .7 .9 .7 6.2 .7-6 .7 2.4 .7-.2 .7 5.8 .7-7.1 .7 .2 .7 3.9 .7-2.3 .7-.3 .7-.6 .7 7.1 .7-5.8 .7 .1 .7 .6 .7 1 .7 1.9 .7-6.8 .7 8.4 .7-4.2 .7-1.2 .7 5.9 .7-7.8 .7 5.9 .7 1.3 .7 1.6 .7-7.4 .7 3.9 .7 2.8 .7-1.3 .7-3 .7-3 .7 7.2 .7-4 .7-5.4 .7-.4 .7 8.5 .7-5.1 .7-2.3 .7 3.3 .7-4.8 .7 6.8 .7-6.5 .7 5.3 .7 4.1 .7 .4 .7-3.9 .7 1.2 .7 2.6 .7-4.7 .7 2.3 .7-1 .7 1.6 .7 .5 .7-3.9 .7 6.2 .7-4.9 .7-1.3 .7 5.8 .7 1.5 .7-9.1 .7 2.6 .7 2.8 .7-4.5 .7 4 .7-.5 .7-.5 .7 2 .7-4.2 .7 .5 .7 2.1 .7-5.2 .7 1.2 .7-1.7 .7 7 .7-2.4 .7 .6 .7-7.3 .7 4.1 .7-1.6 .7-1.9 .7 4.9 .7 3.4 .7-7.9 .7 2.5 .7 3.6 .7 1.1 .7 1.3 .7-5.6 .7 3 .7-4.1 .7 .6 .7 4.2 .7 2.9 .7-7.1 .7 1 .7 1.7 .7 3.8 .7-2.2 .7-5.7 .7 1.5 .7 1.1 .7 3.9 .7 1.8 .7-4.5 .7 5.4 .7-7.5 .7 7.8 .7-7.8 .7 2.4 .7 0 .7 2.2 .7 1.3 .7-4 .7 4.7 .7-.6 .7 1.6 .7-3.1 .7 2.3 .7-6.2 .7 3.5 .7-.9 .7 .7 .7 .3 .7-6"/>
<path stroke="#008080" d="M220.0 2858.7l.7 6.4 .7-9.8 .7-4.7 .7 18.8 .7-8.9 .7 1.7 .7-1.3 .7-1.4 .7-6.6 .7 4.9 .7 9.8 .7 4.3 .7 .3 .7 1.9 .7-18.1 .7 15.3 .7-.4 .7 0 .7 1.3 .7-9.1 .7 10.8 .7 4 .7-14.3 .7 18.2 .7-14.6 .7 5 .7 3.6 .7 1.2 .7-1 .7-3.1 .7 9 .7-8.9 .7 8.4 .7-9.8 .7 5.2 .7 4 .7-12.5 .7 1.3 .7 10.1 .7-9.6 .7-1.1 .7 3.7 .7 4.1 .7 5.4 .7 .3 .7-7.9 .7 .2 .7-2.8 .7-.4 .7 2 .7 10.5 .7-6.6 .7 .5 .7 .4 .7-1.2 .7 12.5 .7 .6 .7 .5 .7-2.9 .7-.3 .7-.5 .7-2 .7 5.8 .7-2.1 .7 4.4 .7 .1 .7-1.7 .7-2 .7 4.3 .7 .6 .7-.5 .7-9.3 .7 2.1 .7 7.7 .7 .8 .7-1.2 .7 1.7 .7 5.1 .7-14.6 .7 8.1 .7-2.9 .7-5.3 .7 11.8 .7-11.2 .7-.2 .7 3.9 .7-3.2 .7 11.5 .7-12.4 .7 11.6 .7-4.7 .7 11.7 .7-6.2 .7 2.1 .7 3.4 .7-10.4 .7 .1 .7 8.6 .7 2.4 .7-8.8 .7-3.7 .7 9.7 .7-14 .7-.8 .7 9.9 .7-1.4 .7-3.7 .7 .1 .7 3.5 .7 6.3 .7-7.9 .7 4.2 .7-5.9 .7 8.1 .7-3.4 .7-2.8 .7 8.3 .7-11.1 .7 12.3 .7-6.4 .7 4 .7-.8 .7-1.5 .7 1.8 .7-6.1 .7-1 .7-.5 .7 .4 .7 1 .7 4.3 .7 7.1 .7-3.9 .7-4.9 .7 3.3 .7 4.9 .7-9.7 .7 1.9 .7-2.3 .7 .4 .7 1.1 .7-.5 .7 7.8 .7-2.4 .7-1.5 .7-.5 .7 1.2 .7-5.5 .7 3.8 .7-3.4 .7 8.5 .7-10.2 .7 2.5 .7 1.5 .7-1.5 .7 2.1 .7-5.1 .7 9.3 .7-6.7 .7 2.7 .7 2.1 .7 2.4 .7 1.7 .7-7.1 .7 1.2 .7-.1 .7 3.1 .7 4 .7 1.2 .7-2 .7-5.9 .7 7.3 .7-7.4 .7 3.8 .7-2.6 .7 4.2 .7-2.3 .7-2.8 .7 4.6 .7-3.5 .7 6.5 .7-2.9 .7-.8 .7-2.5 .7 8.4 .7-7.1 .7 2.9 .7-.3 .7 .7 .7-5.1 .7 1.2 .7 6 .7-.1 .7-1.1 .7-3.5 .7-4.5 .7 8.9 .7 .7 .7-2 .7-1 .7 .7 .7 3.7 .7-1.6 .7 1.7 .7-6.3 .7 1.3 .7-.6 .7 4.1 .7-.5 .7-4.5 .7-.6 .7 2.9 .7 5.4 .7-1 .7-3.5 .7-1.6 .7 6.8 .7-2.1 .7-.1 .7 3.1 .7-4.9 .7-4.3 .7 5.9 .7-5.6 .7 .5 .7 6.6 .7-6.6 .7 8 .7-2.1 .7 1.7 .7-5.9 .7-.6 .7 6.5 .7-7.3 .7 2.2 .7 5.2 .7-9.7 .7 2.1 .7 7.2 .7-7.4 .7 4.8 .7-2.1 .7 3.6 .7 .5 .7-3 .7 2.4 .7-2.7 .7 1.4 .7-2.7 .7 4.8 .7 3.4 .7-5.4 .7 3.1 .7 1.9 .7-2.1 .7 1.2 .7-6.7 .7 3.6 .7-1.2 .7-.3 .7 1.7 .7-2.7 .7 3.3 .7-.7 .7-.1 .7 2.7 .7-.1 .7-5.7 .7 1.4 .7 3.3 .7-4.3 .7 7.8 .7-6.8 .7-.4 .7-1 .7 3.5 .7 4.1 .7-5.9 .7 3.8 .7 2.4 .7-.4 .7-1 .7-5 .7 4.8 .7 .1 .7-1.8 .7-1.3 .7-2.6 .7 5.5 .7 .4 .7-3.7 .7 2.3 .7-4 .7 3.7 .7 .3 .7-1.1 .7 1.5 .7-3.2 .7-1.7 .7-.8 .7 0 .7 1.3 .7 4.8 .7-5.3 .7 1.1 .7 2.9 .7-1.2 .7-.4 .7 1.2 .7 .6 .7 2.4 .7-6.5 .7 7.6 .7-4.4 .7-1.8 .7 5.7 .7-3.3 .7-.7 .7 2.4 .7 1.6 .7-.4 .7-1.8 .7-2.4 .7 4.2 .7 1.8 .7 .1 .7-1.6 .7-5.9 .7 5.7 .7-1.7 .7 1 .7-2.2 .7-2.4 .7 1.8 .7-.3 .7 3.4 .7-1.5 .7-2 .7 3.8 .7-1.8 .7 2.2 .7-1 .7-5.7 .7 4.1 .7-3.6 .7 1.8 .7-1.7 .7 .5 .7 1.8 .7-.6 .7-1.3 .7 4.3 .7-4 .7-.2 .7-2.5 .7 1.8 .7 4.6 .7-2.6 .7 2.5 .7-3.7 .7-1.5 .7 5.1 .7-5 .7 7.2 .7-2.3 .7-3.6 .7-.4 .7-.2 .7 .4 .7 3.5 .7 .6 .7 .3 .7 .6 .7-4 .7 .9 .7 2.2 .7 2.8 .7-5.2 .7 .3 .7 .9 .7 .1 .7 1 .7-4.2 .7 5.4 .7-6.5 .7 5.8 .7-1.5 .7-2.9 .7-1.6 .7 3.1 .7 2.3 .7-4 .7 2.5 .7-.4 .7-3 .7 2.8 .7-3.5 .7 4.1 .7-.4 .7 .7 .7-1.1 .7 1.7 .7-4.9 .7 4.9 .7-.6 .7-4.4 .7 5.6 .7-.8 .7-3.1 .7 4 .7-1.5 .7-1.8 .7 1.2 .7 .2 .7-.7 .7 4.7 .7 2.5 .7-4.3 .7 .7 .7-2.9 .7 4.2 .7 1.7 .7 1.8 .7-6.1 .7 3.2 .7-2.1 .7 2.7 .7-1.5 .7 2.2 .7-5 .7 3.6 .7-5.3 .7 4.5 .7-4.8 .7 .6 .7 3.8 .7-2.6 .7 4.2 .7-4.3 .7 3.7 .7-3.5 .7 4 .7-3.1 .7-2 .7-1.5 .7 5.2 .7-.8 .7-3.8 .7 1.6 .7 3.2 .7-1.7 .7-3.3 .7 5.1 .7-3 .7-4 .7 1.4 .7 4.9 .7-6.2 .7 4.8 .7-1.3 .7 1.8 .7-4.8 .7 4.9 .7 0 .7-1.5 .7-2.5 .7 3.3 .7-3.3 .7 3.9 .7 2.2 .7-6 .7-.1 .7 4 .7 2.2 .7-5 .7 5 .7-3.7 .7-1.1 .7 0 .7 3.5 .7-3.9 .7 4.1 .7-5 .7 .1 .7 1.5 .7-.1 .7-2.1 .7 5.5 .7-3.9 .7-.7 .7 4.7 .7-3.7 .7 1.5 .7 2.7 .7 .2 .7-4 .7 7.1 .7-3.9 .7 2.2 .7 .4 .7-.2 .7-5.1 .7 4.9 .7-4.2 .7 3.3 .7-.8 .7 .2 .7-1.1 .7-2.1 .7-.1 .7 .6 .7 1.4 .7-4.1 .7 4.7 .7-.7 .7-1 .7-2.7 .7 3.4 .7-1.6 .7-3.2 .7-.6 .7 4.7 .7-4.1 .7 .8 .7 0 .7 2.3 .7-3.4 .7 .6 .7 4.3 .7-3 .7 5.5 .7-4.1 .7 4.1 .7-1 .7-2.9 .7-.7 .7 5 .7-.7 .7 .9 .7 .3 .7-2.6 .7 2 .7 .7 .7-1.3 .7-.9 .7-4.1 .7 3.2 .7-2.6 .7-2.3 .7 1.4 .7 4.9 .7-4.3 .7 4.4 .7-6.8 .7 5.7 .7-5 .7 4.3 .7-5 .7 .3 .7 6.2 .7-.8 .7 .9 .7-2.7 .7 3.3 .7 1.1 .7-3.9 .7 4.1 .7-4.3 .7 4.7 .7 0 .7-7.4 .7 6.8 .7 .1 .7-3.1 .7-1.8 .7 2 .7-3.5 .7 6.1 .7-2.5 .7-4.7 .7-1 .7 3.9 .7-2.9 .7 0 .7 6.7 .7-7.8 .7 6 .7-1.9 .7-1.3 .7 4.2 .7-5.3 .7-.9 .7 6.9 .7-4.1 .7 4.5 .7-.4 .7 .2 .7-4.2 .7 4.6 .7-2 .7-3.1 .7 1.3 .7 5.3 .7-8.8 .7 .4 .7 8.4 .7-7.7 .7-.1 .7 3.8 .7-3.7 .7 6.9 .7-5.2 .7 4.9 .7-3.1 .7-.4 .7-.6 .7 3 .7 2.9 .7-4.7 .7 4.9 .7-7.9 .7 8.2 .7-8.2 .7-.5 .7 2.3 .7 5.3 .7-5.8 .7 6.5 .7-2.9 .7-1.9 .7 4.1 .7-6.5 .7 5.4 .7-2.1 .7 1 .7 .7 .7-8.3 .7 7.6 .7-.9 .7-5.6 .7 4.7 .7-1.5 .7 1.8 .7-4.5 .7 6.5 .7-.1 .7 1.8 .7-4.9 .7 4.2 .7 0 .7-.4 .7-3.7 .7 3.6 .7-4.8 .7 .1 .7 4.4 .7-6.7 .7 2.2 .7 2.6 .7 1.1 .7-6.6 .7 6.2 .7-3.5 .7-2.5 .7 6.6 .7 .7 .7-3.7 .7 1.8 .7-3.1 .7-.3 .7 2.1 .7-3.3 .7 0 .7 2.5 .7 1.4 .7-4.9 .7 2.5 .7 2.4 .7 .8 .7-4.5 .7 3.3 .7 .5 .7 .2 .7-4.3 .7 5.8 .7 .3 .7-.2 .7-5.7 .7-.5 .7 4 .7 .1 .7 1.1 .7-2 .7 3 .7-3.1 .7 1.1 .7-3.1 .7 6.1 .7 .1 .7-3.2 .7-1.1 .7 2 .7-1.3 .7-3.7 .7 4.3 .7-2.5 .7-.6 .7 4.9 .7-1.2 .7-1.6 .7-4.3 .7 2.9 .7-1 .7 4.4 .7 .3 .7-.8 .7-2.7 .7-1.2 .7 4.1 .7-5.4 .7 5.5 .7 0 .7-1.1 .7-.2 .7 .5 .7-3.7 .7-.9 .7 7.5 .7-5.2 .7 .8 .7 .8 .7 2.7 .7-5.7 .7 5.2 .7-4 .7 2.8 .7 1 .7-1.2 .7-6.9 .7 3.1 .7-2.4 .7 4.3 .7-2.2 .7 1.1 .7 1 .7 .5 .7 2.4 .7-.8 .7-3.1 .7 2.2 .7-3.4 .7-1 .7 3.1 .7-1.6 .7 2.7 .7-2.6 .7 2.5 .7 3.9 .7-3.4 .7-.5 .7-2.8 .7 1.3 .7-.7 .7 .7 .7 1.5 .7-4.3 .7 3.3 .7 2.8 .7-2.5 .7 4 .7-2.4 .7 .6 .7-4.9 .7 3.4 .7 1.1 .7-4.3 .7 1.3 .7-2.8 .7 4.2 .7-2.9 .7-1.5 .7-.2 .7 2 .7 1.8 .7-.1 .7-.5 .7-3.3 .7 1.3 .7-4.2 .7 3.4 .7-3.4 .7 2.6 .7 6 .7-5.2 .7 1.4 .7 1.8 .7-6.5 .7 5.8 .7-.4 .7-5.4 .7-.3 .7 7.9 .7-3.4 .7-3.5 .7 .9 .7 2 .7 0 .7-3.5 .7 5.7 .7 2.7 .7-6.2 .7 .6 .7 2.8 .7-4.6 .7 2.2 .7 4.5 .7 1.6 .7-5.2 .7-2.2 .7 1.6 .7-2.1 .7 5.5 .7-5.2 .7 2.7 .7-5.3 .7 7.2 .7-.9 .7-4.2 .7 5.8 .7 0 .7-3.1 .7 .8 .7-5.5 .7-2 .7-1.3 .7 4.2 .7 1.7 .7 2.6 .7-8.9 .7 7.5 .7-2.4 .7 2.7 .7-4.6 .7-4.1 .7 2.4 .7 4.2 .7-6 .7 7.1 .7-1.6 .7-5 .7 2.5 .7 3.6 .7-10.3 .7 9.7 .7-3.6 .7-7.1 .7 .9 .7 2 .7-.3 .7 1.2 .7 4 .7 .1 .7 5.6 .7-.1 .7-9.7 .7 2.6 .7 9.5 .7-12.4 .7 6.6 .7 3.1 .7-7.3 .7 7.9 .7-6.2 .7-6.9 .7-.6 .7-.1 .7 9.7 .7 1.9 .7-17.1 .7 9.5 .7-7.5 .7 2.1 .7-2.9 .7 11.7 .7-5 .7-7.9 .7 2 .7 1.2 .7 2.1 .7-8.4 .7 7.2 .7 2.8 .7-3.9 .7 2.3 .7 6.8 .7-10.6 .7-1.2 .7 1.5 .7-6.4 .7 5.5 .7 5.3 .7-12.6 .7-.4 .7 8.3 .7-1.1 .7 6.6 .7 .3 .7-13.4 .7 10.7 .7-10.4 .7 7.6 .7-3.6 .7 10.1 .7-12.4 .7 10.5 .7 .3 .7-6.7 .7-2.4 .7-4.8 .7 7.7 .7-1.3 .7-2.9 .7-1.1 .7-5 .7-1.2 .7 1.4 .7 7.7 .7-11.7 .7 .1 .7-1.3 .7 4.4 .7-7 .7-.2 .7-10.3 .7 .5 .7-1.6 .7-5.2 .7-15.5 .7-12.3 .7-11.2 .7-17.5 .7-12.5 .7-30.7 .7-27.6 .7-26.2 .7-30.6 .7-29 .7-12 .3-4.7 .4 4.2 .7 17.9 .7 24.5 .7 31.2 .7 29 .7 32.8 .7 18.9 .7 21.1 .7 16.8 .7 8.1 .7 17.9 .7 4.7 .7 4.2 .7 10.4 .7 2.3 .7-2.4 .7 2.4 .7 5 .7 5.9 .7-.5 .7-.6 .7 9 .7-1.2 .7-1.7 .7 2.4 .7-2 .7 12.5 .7 0 .7-3.3 .7 2.7 .7-.6 .7-2.7 .7 2.6 .7-6.2 .7 2.3 .7 6.2 .7-3.5 .7 6.1 .7 1.1 .7-6.5 .7-.6 .7 1.5 .7 10 .7-4.1 .7-3.7 .7 6.9 .7-8.9 .7 6.3 .7-6.4 .7 4.1 .7 2.7 .7-4.2 .7-3.4 .7 6.3 .7-3.8 .7 5.4 .7-7.7 .7-2.2 .7-.2 .7 2.3 .7 1.2 .7 5.1 .7-1.1 .7 .7 .7-4.8 .7-6.5 .7 1.1 .7 .3 .7 2 .7-7.6 .7 6.9 .7-.8 .7-4.2 .7-6.2 .7-3.3 .7 2 .7-4.6 .7-4.7 .7-4.1 .7-10.8 .7-5.6 .7-16.7 .7-11 .7-11.8 .7-24.2 .7-19.1 .7-20.3 .7-24.2 .7-17.8 .8-9.4 .6 3.3 .7 16.7 .7 19.9 .7 26.4 .7 22 .7 20.2 .7 15.6 .7 12.6 .7 6.9 .7 14.3 .7 3.9 .7 5.6 .7 4.7 .7 3.9 .7 4.8 .7 3.4 .7-1.7 .7 2.6 .7-2.8 .7 3 .7 .4 .7-1.3 .7-1.1 .7-5.1 .7 7.3 .7 2.7 .7-10.3 .7 2.5 .7 .8 .7 2.5 .7 2.7 .7-1.7 .7-9.4 .7 3.5 .7 4.8 .7-3.5 .7 .3 .7-5.6 .7 .7 .7-6.7 .7-1.8 .7-6.7 .7-3.8 .7-5.9 .7-7.3 .7 3.7 .7-9.8 .7-9.5 .7-6 .7-16.4 .7-15.4 .7-17.4 .7-23.9 .7-21.3 .7-36.2 .7-41 .7-43.5 .7-54.1 .7-58.3 .7-50 .7-43.1 .9-23.1 .5 6 .7 29.4 .7 44.9 .7 52.8 .7 54.3 .7 47.8 .7 39 .7 34.1 .7 31.6 .7 24.5 .7 16.5 .7 7.6 .7 14.2 .7 7.3 .7 7.7 .7 14 .7 3 .7 2.5 .7 2.3 .7-.5 .7 7.7 .7-4.2 .7 11.3 .7-6.1 .7 2.7 .7 8.2 .7-2.6 .7-3.6 .7 12.9 .7-1.1 .7-7.4 .7 6.6 .7 3.6 .7 6 .7 3.7 .7-3.1 .7-4 .7 4.1 .7 2.4 .7-1.1 .7 12.2 .7 3.1 .7 .7 .7-9.4 .7 9.2 .7-6.2 .7 6.3 .7 3.4 .7-4.5 .7 5.8 .7 5.3 .7 4.1 .7-4.3 .7-4.9 .7 .4 .7 5.8 .7-7.1 .7 14.9 .7-12.3 .7 7.7 .7-3.4 .7 11.7 .7-6.6 .7 6.6 .7-.3 .7 5.8 .7-1.3 .7-1.4 .7-1.6 .7 5.2 .7-1.7 .7-1.1 .7 3.6 .7-4.9 .7 4.1 .7 4.3 .7 .5 .7-3.1 .7 1.7 .7 2.5 .7-.3 .7 1.6 .7-5.7 .7-.1 .7 1.6 .7 3.3 .7 1.2 .7 1.9 .7-2 .7-1.2 .7-1.5 .7 6.5 .7-.6 .7-1.8 .7 .7 .7 4.1 .7 .3 .7-2 .7-.3 .7-.4 .7-2 .7-1.4 .7-1.4 .7 7.1 .7-2.2 .7-3.9 .7 1.2 .7 1.3 .7 2.5 .7-4.3 .7 7.3 .7-6.1 .7 5.5 .7 1.9 .7-5.8 .7 2.2 .7 2.6 .7 .9 .7-3.6 .7 1.6 .7-1.3 .7-3.2 .7 5.1 .7-3.7 .7 2.8 .7 .5 .7-3.1 .7-2.5 .7 1.3 .7 4.6 .7-6 .7 2 .7 4.6 .7-6.1 .7-1.8 .7 7.7 .7-6 .7 4.6 .7 4.7 .7-.7 .7-.7 .7-5.1 .7-.6 .7 7.5 .7-8.8 .7 .1 .7 9 .7-9.3 .7 1.3 .7 1.4 .7-2.9 .7 1.9 .7 4.1 .7 .2 .7 .2 .7-2.4 .7 2.6 .7 2.4 .7-10.1 .7 8.7 .7-8.4 .7 .1 .7 4.9 .7 3.3 .7-1.8 .7 1.2 .7-6.6 .7 4.8 .7-3.8 .7 1.6 .7-.6 .7 3.1 .7-5.3 .7 4.2 .7-3.7 .7 .9 .7-1 .7 6.9 .7-9.2 .7 5.7 .7-2 .7 .9 .7 4.5 .7-2 .7 .9 .7 .7 .7-4.4 .7 .3 .7-3.6 .7 8.1 .7-4.5 .7 1 .7 3.3 .7-.7 .7-1.1 .7 .6 .7 1.9 .7-.4 .7-7.4 .7 7 .7-6.2 .7 2.5 .7 4.9 .7-4.9 .7-2 .7 5.8 .7-8.2 .7 7.8 .7-7.8 .7 3.2 .7-5.3 .7 5.9 .7 .1 .7-.2 .7-1.1 .7 3.6 .7 3.3 .7-7.9 .7 3.8 .7-5.1 .7 2.5 .7-.3 .7 .2 .7-3 .7-1.3 .7 3 .7-.6 .7-4.4 .7 4.4 .7 4.7 .7-6.4 .7 6.6 .7-5.8 .7 5.5 .7-3.7 .7 4.2 .7 .4 .7-8.5 .7 2 .7 .6 .7 2.9 .7 3 .7-9.7 .7 7.9 .7 1.5 .7-6.5 .7 .2 .7 7.4 .7-7.4 .7 1.8 .7-.6 .7 7.3 .7-8 .7 1.1 .7-3.8 .7-.5 .7 10.8 .7-2 .7-9.5 .7 6.5 .7-3.1 .7-4.4 .7 9.4 .7-2.2 .7-4.2 .7 3.6 .7-5.6 .7 5.9 .7-8.9 .7 1.6 .7 8.4 .7-1.3 .7-1.1 .7 3.4 .7-8.1 .7 5 .7 1.5 .7-.6 .7-7.4 .7 9.2 .7-1.9 .7-4.6 .7-2.4 .7-.4 .7 7.8 .7-2.3 .7-7 .7 9.8 .7-3.3 .7-3.1 .7 6.8 .7-4.7 .7-4.1 .7 1.6 .7 4.9 .7-6 .7 11.3 .7-8.8 .7-.7 .7 7.8 .7 .5 .7-8.4 .7 7.4 .7-3.8 .7 4.7 .7-1 .7 .4 .7-.2 .7 2.4 .7 .7 .7-8.5 .7 5.9 .7 1.2 .7-1.9 .7 2.3 .7 1 .7-1.5 .7-4 .7-1.1 .7 1.1 .7-5.3 .7 3 .7 3.6 .7-5.8 .7 .4 .7 3.1 .7-2 .7-.3 .7 6.7 .7 1 .7 1.7 .7-.1 .7-.2 .7-4 .7 2.8 .7 3.3 .7-8.2 .7 3.9 .7 2.5 .7-4 .7-.3 .7 5.2 .7 .2 .7-1.2 .7-3 .7-.3 .7-.6 .7 2.2 .7 1.3 .7 1.1 .7-4.3 .7-2.8 .7 .2 .7 4.4 .7-6.7 .7-.6 .7 2.2 .7-3.6 .7 5.6 .7 1.5 .7-4.5 .7-4.6 .7 6.5 .7-5.9 .7 3.3 .7-7.4 .7 1.1 .7-3.8 .7 .8 .7-4.3 .7-5 .7-4.2 .7-3.2 .7-5.5 .7-9.5 .7-12.5 .7-12.9 .7-12.4 .7-9.9 .7-4.9 .4-1.2 1 5.6 .7 9.7 .7 11.3 .7 12.9 .7 11.1 .7 9.4 .7 2.9 .7 12.4 .7 3 .7 .9 .7 6.9 .7 .9 .7 6.4 .7-1.5 .7-2.5 .7 6.2 .7 3 .7-2.9 .7 3.9 .7-1.5 .7-.6 .7-.2 .7-1.3 .7 6 .7-4.2 .7 .5 .7-1.7 .7 0 .7 5.5 .7-.2 .7-2.1 .7 2 .7-3.1 .7 2.8 .7-.9 .7-.6 .7 3.8 .7-2 .7 1.2 .7-3.1 .7 4.2 .7-1.7 .7 .5 .7 2 .7-5.3 .7 1.5 .7-2 .7 4.7 .7-5 .7 4.2 .7 2 .7-4.6 .7-.5 .7 4.7 .7-3.6 .7 0 .7 4.9 .7-4.4 .7 2.5 .7 1.2 .7-.8 .7 1.1 .7 1.2 .7-2.5 .7-.8 .7 0 .7-1.2 .7 5.1 .7-4.1 .7-1.5 .7 4.8 .7-4.4 .7 4.4 .7-6 .7 .6 .7-.1 .7 .8 .7 1.6 .7-1.6 .7 4.6 .7-2.7 .7 2.9 .7-.1 .7 .3 .7-2.2 .7 1 .7-3.4 .7 4.2 .7-.3 .7-2 .7 1.8 .7-.8 .7 1.5 .7-2 .7 1.8 .7 1 .7-.7 .7 2.5 .7-1.6 .7-3.9 .7-.5 .7 5.4 .7-5.5 .7 0 .7 2.2 .7 3.3 .7-5 .7 2.2 .7-3.5 .7 1.3 .7-1.1 .7 3.1 .7-.6 .7 1.6 .7-5.1 .7 5.1 .7-4.7 .7-.1 .7 3.4 .7-2.4 .7 2.7 .7-3.7 .7 .8 .7 3.3 .7-3.6 .7 4.2 .7 .7 .7-1.3 .7-.1 .7 1.9 .7-5.9 .7 1.1 .7 .8 .7-2.4 .7 4.5 .7-.8 .7-2.6 .7 4.3 .7-1.5 .7-2.4 .7 .5 .7 2.6 .7-1.9 .7 3 .7 .4 .7-5.5 .7 2.6 .7 .1 .7 3.9 .7-1.1 .7-5.8 .7 1.4 .7-.6 .7 4.3 .7-4.3 .7-1.3 .7 6.5 .7-1.6 .7 2.1 .7-2.4 .7 2.6 .7-1.7 .7-6.3 .7 5.1 .7 2.2 .7-3.7 .7-3.7 .7-.3 .7 7.6 .7-2.1 .7 1 .7 .6 .7-.2 .7-1.1 .7-1.5 .7-1.2 .7 6.2 .7-1.1 .7-5.9 .7 5.5 .7 1.6 .7 .6 .7-5.7 .7 6.2 .7-4.2 .7 1.6 .7-1.4 .7 .9 .7 1.8 .7-1.1 .7-7.6 .7 5.2 .7-3.9 .7-2.4 .7 .8 .7 4.7 .7-7.2 .7 3.3 .7-.1 .7 5.7 .7-1.2 .7-6.4 .7 2.7 .7 5.6 .7-4.1 .7 5.4 .7-7.4 .7 1.1 .7-1.2 .7 9.7 .7-7.1 .7 2.5 .7 .9 .7 1.5 .7-9.5 .7 .1 .7 2 .7-4.8 .7 1.3 .7 4.9 .7-7 .7 3.9 .7-6.7 .7 6.7 .7 3.5 .7-4.7 .7 5 .7-9.1 .7 5.6 .7 4.2 .7-2.7 .7-.2 .7-1.2 .7 3.3 .7-.6 .7-1.6 .7 .7 .7-2.2 .7 1.1 .7-2.6 .7 1.4 .7-5.2 .7 .2 .7 2.3 .7 3.7 .7-3 .7-6.4 .7-.7 .7 4.4 .7 2.2 .7-7.2 .7 9.1 .7-6.6 .7-4.8 .7 11.4 .7-1.9 .7-4.9 .7 3.3 .7-2.6 .7-.6 .7 5.3 .7-2.3 .7 4.4 .7-3.8 .7-6.4 .7 7.1 .7 4.1 .7 .1 .7-.6 .7-10.7 .7 2 .7 8.1 .7-.6 .7-7.2 .7 7.5 .7 1 .7-11.5 .7 5.7 .7 1.9 .7-6.7 .7-2.5 .7 5.8 .7-2.5 .7 5.3 .7-10.8 .7 2.1 .7 .9 .7 3.9 .7-5 .7-9.4 .7 10 .7-2.2 .7-1 .7-3.3 .7-.9 .7-8.7 .7-2.9 .7 .7 .7-7.9 .7-4.1 .7-13.4 .7-6 .7-14.6 .7-11.3 .7-16.7 .7-18.7 .7-11.7 .7-11.6 .6-3.5 .8 3.4 .7 13.4 .7 17 .7 18.7 .7 13.7 .7 14.3 .7 10 .7 7.6 .7 4.2 .7 11.1 .7 2 .7 2.1 .7 .7 .7 9.2 .7 3.3 .7-1.4 .7-2.5 .7 10.2 .7 .2 .7 2.3 .7-3.2 .7-3.1 .7 .4 .7-.4 .7-1.5 .7 1.7 .7 9.8 .7-8.9 .7 5.9 .7-6.8 .7 8 .7-3.6 .7-5.5 .7 11.5 .7-6.7 .7-1.7 .7-1.2 .7 3.7 .7-.3 .7 .9 .7-2.5 .7-.4 .7 7 .7 1.8 .7-.7 .7-.6 .7-6.6 .7 2.6 .7 2.6 .7-6.7 .7 4.3 .7 6.5 .7-11.1 .7 6.5 .7 2.9 .7-2.7 .7 1.1 .7-6.4 .7-3.5 .7 6.6 .7 1.8 .7-8 .7 8.1 .7-10.5 .7 6.6 .7-2.1 .7-5.2 .7-.2 .7 1.3 .7-1.2 .7-1.3 .7 6.5 .7 .8 .7-3.3 .7-2.7 .7-2.1 .7 8.5 .7 .2 .7-7.1 .7-1.4 .7 5.8 .7 1.6 .7-5.5 .7-1.7 .7 5.6 .7-3 .7 .8 .7-.9 .7 .7 .7-1 .7 9.2 .7-.5 .7-10 .7 9.3 .7 .8 .7 .6 .7-8.5 .7 4.2 .7 2.5 .7 4.1 .7-5.1 .7-.8 .7 9.4 .7-12.5 .7 1.5 .7 7.1 .7-1.2 .7-2.9 .7 3.8 .7 1.1 .7-4.1 .7-4.2 .7 7.2 .7-7.8 .7 5.4 .7-2.4 .7 .7 .7 8 .7-2.1 .7-1 .7-10.7 .7 2.1 .7 10 .7-5.4 .7-4.1 .7 .4 .7 3.8 .7-2.7 .7 2.1 .7 8 .7-12.6 .7 1.7 .7 2.3 .7 .7 .7 1.6 .7 8.9 .7-12.3 .7 8.2 .7 2.2 .7 1.1 .7-8.7 .7 11.9 .7-7.2 .7 5.1 .7-.9 .7 4.1 .7-.1 .7-7.9 .7 4.2 .7-5.7 .7 5.2 .7-1.9 .7 4.5 .7-5.5 .7 5.8 .7-4.1 .7-4.4 .7 6.8 .7-3.7 .7 2.4 .7-6 .7 2 .7-1.2 .7 1.6 .7 2.1 .7 3.8 .7 .3 .7 1.5 .7-3.6 .7-2.6 .7 .4 .7 2 .7 3 .7-8.1 .7 4.3 .7 1.4 .7-4.5 .7 5.1 .7-6.8 .7-3.1 .7-.1 .7 .4 .7 1.4 .7 4.2 .7-8.5 .7 1.3 .7 5.2 .7-3.9 .7 2.6 .7-9.6 .7 9.4 .7-4.4 .7-5.7 .7 5 .7-1.9 .7-8.5 .7 3.9 .7-6.7 .7-3.7 .7-1.4 .7-11.3 .7-4.1 .7-14.5 .7-5.8 .7-17.7 .7-13.7 .7-10.8 .7-12.8 .7-9.4 .4-2.5 1 8.7 .7 9.5 .7 16.8 .7 12 .7 18.3 .7 7.4 .7 9.6 .7 4.5 .7 8.7 .7 10.1 .7-3.6 .7 1 .7 8.5 .7-6.2 .7 4.2 .7-.8 .7 8.2 .7 1 .7-8.6 .7 6.9 .7 3.3 .7-6 .7-3 .7 4.8 .7 3.7 .7-6.3 .7-.8 .7 6 .7 3.1 .7-1.2 .7-5.9 .7 3.2 .7 1.9 .7 1.6 .7-2 .7-7.1 .7 4.5 .7-1.7 .7 0 .7 2.9 .7 2.6 .7-.6 .7-6.4 .7 12.2 .7-9.2 .7 5 .7-2 .7 4.9 .7-6.5 .7 4.9 .7-5.6 .7-4.1 .7 1.2 .7 .3 .7 .2 .7-3.1 .7 2.9 .7-2.6 .7 .8 .7-2.1 .7-1.3 .7 6.4 .7-12.7 .7 5.8 .7 8.2 .7-5.2 .7-6.2 .7 .4 .7 11.2 .7-5.4 .7-6.2 .7 15.6 .7-4.6 .7-5.7 .7 1.5 .7 2 .7 4.3 .7 0 .7-7.3 .7 8 .7 2.5 .7-1.2 .7-8.7 .7 9 .7-6.5 .7-6.7 .7 .1 .7 .9 .7 6.3 .7 .8 .7 .9 .7-2.5 .7-2.6 .7 1.6 .7-3.7 .7 1.9 .7 7.1 .7-1.5 .7 2.9 .7 2.4 .7-7.9 .7 5.1 .7 8 .7-11.1 .7 2.6 .7 1.6 .7 8.2 .7-14.5 .7 11.3 .7-1.2 .7-8.1 .7-2.9 .7 3.4 .7 5.7 .7-3.3 .7 5.6 .7 4.6 .7 .5 .7-2.4 .7 0 .7 3 .7-.8 .7-2.3 .7 2.8 .7-6.1 .7 3.6 .7 .8 .7-.3 .7 1.6 .7-8.5 .7 .7 .7 9.8 .7-10 .7 4.8 .7 4.6 .7-2.5 .7 2.8 .7-7 .7-.5 .7 9.1 .7 .3 .7-12.4 .7 5 .7 6.9 .7-3 .7-7.5 .7-2 .7 5.3 .7 4.2 .7-.5 .7-10.7 .7 .4 .7 11.3 .7-9.4 .7-1.4 .7 9.1 .7-3.8 .7-7.2 .7 5.9 .7-7.6 .7-3.6 .7 0 .7-6.5 .7-2.8 .7-15 .7-3.8 .7-10.4 .7-9.5 .7-13.6 .7-7.5 .7-7 .3-.4 .4 1.6 .7 7.2 .7 9.4 .7 9.1 .7 13.6 .7 6.3 .7 14.9 .7 0 .7 10.9 .7 5.4 .7 1.7 .7 4 .7 4.9 .7-7.4 .7 1.8 .7 8.4 .7 3.1 .7-5.9 .7 .3 .7 .2 .7 7 .7-7.1 .7 8.3 .7-9.2 .7 6.1 .7-1.7 .7-7.8 .7 5.2 .7-5.3 .7-1.6 .7-6.7 .7-5.7 .7-2.3 .7-7.5 .7-5.1 .7-2.5 .7-3.7 .4-.9 1 3.9 .7 5.8 .7 2.7 .7 5.5 .7 8.8 .7 1.9 .7 6 .7 .9 .7 3.8 .7 4.7 .7 4.9 .7-3.9 .7 4.2 .7 2.5 .7-1.6 .7-4.8 .7 3.6 .7-.9 .7-1 .7 3.9 .7-2.8 .7 7.5 .7-2.6 .7 1.9 .7-5.3 .7 2.6 .7 3.6 .7 .1 .7-5.2 .7 2.2 .7 4.4 .7-5.5 .7 2.7 .7-.1 .7-3 .7 5.7 .7 .9 .7-6.7 .7 2 .7 5.8 .7-2.6 .7-2.3 .7 .8 .7 5.1 .7-5.1 .7 3.6 .7-2.5 .7 3.3 .7-3.5 .7 3.7 .7 1.3 .7-5.5 .7 2.5 .7 2.1 .7-4 .7-1.3 .7 6.7 .7-1.5 .7 .2 .7-5.5 .7 4.8 .7-2.2 .7 1.8 .7-3.4 .7-1 .7 2.9 .7-.9 .7-3.1 .7 5.8 .7-7 .7 .3 .7 5.7 .7-2 .7-1.8 .7-1.7 .7-.7 .7 6.1 .7-6.2 .7 1.7 .7-2 .7 4.8 .7-6.2 .7 6.2 .7-1.5 .7-2.2 .7 2.3 .7-1 .7-.6 .7 3.9 .7-.1 .7-2.9 .7 1.5 .7-1 .7 5.2 .7-4.1 .7-1.8 .7 4.3 .7-1.1 .7 2.4 .7-3.2 .7-4.4 .7 4.9 .7 2.1 .7-7.4 .7 .1 .7 4.4 .7-4.8 .7 3.5 .7-.7 .7-2.7 .7 2.1 .7-.7 .7-2.7 .7-4.1 .7-3 .7 2.4 .7 1.7 .7-4.4 .7 2.8 .3 1.3 .4-.7 .7-.6 .7 1.6 .7 1.4 .7-5.3 .7 6.3 .7 1 .7 .6 .7-4.7 .7 4.5 .7 .2 .7 .6 .7 3.1 .7-2.5 .7-2.9 .7-.2 .7 7.4 .7-3.5 .7 3 .7-4.4 .7 6.1 .7 .2 .7-6.1 .7 5.5 .7 .4 .7-2.3 .7 4.1 .7-.8 .7 .1 .7 0 .7 .4 .7-.2 .7-3 .7 3.6 .7-1.8 .7 2.8 .7 0 .7-1.9 .7-6.6 .7 7.9 .7-1.4 .7-6 .7 4 .7-.5 .7-.1 .7 3.6 .7-2.9 .7 2.4 .7-5.1 .7 2 .7-6.1 .7 7.7 .7-5.1 .7 .8 .7-1.1 .7 6 .7 .1 .7-3 .7 5 .7-2.8 .7 1.5 .7-.6 .7 .8 .7-5.6 .7-.3 .7 1.9 .7-3.2 .7 5.6 .7-3.1 .7-.8 .7 2 .7 1.2 .7-5 .7 7.8 .7-1.4 .7-5.7 .7 5.7 .7-6.8 .7 5.8 .7-5.9 .7-.6 .7 3.9 .7 3.1 .7-6 .7 7.5 .7-7.3 .7 1.1 .7-.9 .7-1 .7 1.8 .7 1.2 .7 .7 .7 3.9 .7-3.8 .7-4.4 .7 5.9 .7 2.2 .7-6.1 .7 6.4 .7-2.2 .7 1.6 .7-4 .7-4.8 .7 4.4 .7-2 .7 1.6 .7 1.7 .7-3.2 .7 3.7 .7-2 .7 3.1 .7-3.4 .7 .3 .7-1 .7 7.3 .7-4.4 .7 4.1 .7-.8 .7-2.7 .7-2.2 .7 5.4 .7-5 .7 .8 .7 1.9 .7-3.2 .7 0 .7-.4 .7 2.8 .7 3 .7-2.2 .7-3.2 .7-2.4 .7 3.4 .7-.8 .7-2.9 .7 4.5 .7 .4 .7-8.8 .7 .8 .7-.1 .7 1.7 .7-.8 .7-6.7 .7-1.7 .7-2 .7-2.2 .7 1.7 .7-4.6 .7-2.2 .5 1.3 .9 2.9 .7-2.2 .7 3.5 .7 3.6 .7 3.7 .7 .3 .7 6.5 .7 .7 .7-1.4 .7-.1 .7 5.4 .7-3.9 .7 5.5 .7-4.8 .7 3.6 .7-3.8 .7 8.1 .7-4.8 .7 3.1 .7-1.7 .7 1.5 .7-3.1 .7 1.1 .7 1.4 .7 3.5 .7 .1 .7-.7 .7-4.3 .7 2.5 .7 4.3 .7-7.7 .7 5.6 .7-2.4 .7 .4 .7-.9 .7-2.5 .7 3.6 .7 4.7 .7-1.1 .7-4.4 .7-.4 .7 1.5 .7-3.2 .7 6.5 .7-5.4 .7 2.6 .7-3.4 .7-.8 .7 5 .7-2.6 .7 3.1 .7-6.3 .7 5.2 .7-2.7 .7 4.8 .7-5.9 .7 4.8 .7 .3 .7-2.3 .7-3.8 .7-1.2 .7 7.2 .7-6.5 .7 4.2 .7-.3 .7 2.8 .7 .7 .7-6 .7 .8 .7 5.8 .7-5.8 .7 5.7 .7-1 .7 1.5 .7-.2 .7-1.3 .7 .2 .7-6.6 .7 4.6 .7-.8 .7 .6 .7 2.9 .7-4.4 .7 4.8 .7-.3 .7-7 .7 5.2 .7-.4 .7-1.3 .7-.8 .7 1.9 .7-4.4 .7 2.5 .7 3.3 .7-7.9 .7 3.5"/>
</g>
<path d="M245.6 2950 V2963.8M363.9 2950 V2977.4M482.2 2950 V2963.8M600.6 2950 V2977.4M718.9 2950 V2963.8M837.2 2950 V2977.4M955.5 2950 V2963.8M1073.9 2950 V2977.4M1192.2 2950 V2963.8M1310.5 2950 V2977.4M1428.9 2950 V2963.8M1547.2 2950 V2977.4M1665.5 2950 V2963.8M1783.9 2950 V2977.4M1902.2 2950 V2963.8M2020.5 2950 V2977.4" stroke="#000" stroke-width="5.8" stroke-linecap="round" fill="none"/>
<text x="363.9" y="3038.5" text-anchor="middle" style="font-family:'Liberation Sans',Arial,sans-serif;font-size:54.5px">10</text>
<text x="600.6" y="3038.5" text-anchor="middle" style="font-family:'Liberation Sans',Arial,sans-serif;font-size:54.5px">20</text>
<text x="837.2" y="3038.5" text-anchor="middle" style="font-family:'Liberation Sans',Arial,sans-serif;font-size:54.5px">30</text>
<text x="1073.9" y="3038.5" text-anchor="middle" style="font-family:'Liberation Sans',Arial,sans-serif;font-size:54.5px">40</text>
<text x="1310.5" y="3038.5" text-anchor="middle" style="font-family:'Liberation Sans',Arial,sans-serif;font-size:54.5px">50</text>
<text x="1547.2" y="3038.5" text-anchor="middle" style="font-family:'Liberation Sans',Arial,sans-serif;font-size:54.5px">60</text>
<text x="1783.9" y="3038.5" text-anchor="middle" style="font-family:'Liberation Sans',Arial,sans-serif;font-size:54.5px">70</text>
<text x="2020.5" y="3038.5" text-anchor="middle" style="font-family:'Liberation Sans',Arial,sans-serif;font-size:54.5px">80</text>
<text x="865.6" y="3139.8" style="font-family:'Liberation Sans',Arial,sans-serif;font-size:67px">2</text>
<text transform="translate(904.8,3140.3) scale(1.16,1)" style="font-family:'Liberation Serif','Times New Roman',serif;font-size:58.5px">θ</text>
<text x="951.5" y="3139.8" style="font-family:'Liberation Sans',Arial,sans-serif;font-size:67.4px">(degrees)</text>
<text transform="translate(121,767.2) rotate(-90)" text-anchor="middle" style="font-family:'Liberation Sans',Arial,sans-serif;font-size:68px">Relative Intensity (a.u)</text>
<text transform="translate(115,2246.3) rotate(-90)" text-anchor="middle" style="font-family:'Liberation Sans',Arial,sans-serif;font-size:68px">Relative Intensity (a.u)</text>
<text x="20.0" y="190.6" style="font-family:'Liberation Serif','Times New Roman',serif;font-size:86px">(a)</text>
<text x="31.5" y="1641.3" style="font-family:'Liberation Serif','Times New Roman',serif;font-size:86px">(b)</text>
<text x="1692.1" y="637.2" style="font-family:'Liberation Sans',Arial,sans-serif;font-weight:bold;font-size:64px">MgAl-COP</text>
<text x="1585.8" y="837.0" style="font-family:'Liberation Sans',Arial,sans-serif;font-weight:bold;font-size:64px">2MgZnAl-COP</text>
<text x="1677.3" y="984.7" style="font-family:'Liberation Sans',Arial,sans-serif;font-weight:bold;font-size:64px">Mg2ZnAl-U</text>
<text x="1789.4" y="1401.1" style="font-family:'Liberation Sans',Arial,sans-serif;font-weight:bold;font-size:64px">ZnAl-U</text>
<text x="273.6" y="1775.3" style="font-family:'Liberation Sans',Arial,sans-serif;font-weight:bold;font-size:64px">MgAl-TT</text>
<text x="258.6" y="2105.0" style="font-family:'Liberation Sans',Arial,sans-serif;font-weight:bold;font-size:64px">2MgZnAl-TT</text>
<text x="257.4" y="2277.6" style="font-family:'Liberation Sans',Arial,sans-serif;font-weight:bold;font-size:64px">Mg2ZnAl-TT</text>
<text x="270.2" y="2816.7" style="font-family:'Liberation Sans',Arial,sans-serif;font-weight:bold;font-size:64px">ZnAl-TT</text>
<text x="1788.6" y="198.8" style="font-family:'Liberation Sans',Arial,sans-serif;font-weight:bold;font-size:69.6px">*</text>
<text transform="translate(1839.4,207.9) scale(1,1.04)" style="font-family:'Liberation Sans',Arial,sans-serif;font-weight:bold;font-size:77px">LDH</text>
<text x="1786.3" y="1583" style="font-family:'Liberation Sans',Arial,sans-serif;font-weight:bold;font-size:80px;fill:#8b008b">°</text>
<text transform="translate(1838.3,1578.7) scale(1,1.04)" style="font-family:'Liberation Sans',Arial,sans-serif;font-weight:bold;font-size:80px;fill:#8b008b">MgO</text>
<text x="1788.4" y="1696.1" style="font-family:'Liberation Sans',Arial,sans-serif;font-weight:bold;font-size:80px;fill:#008a00;stroke:#008a00;stroke-width:1.1px">+</text>
<text transform="translate(1855.2,1696.9) scale(1,1.04)" style="font-family:'Liberation Sans',Arial,sans-serif;font-weight:bold;font-size:79.5px;fill:#008a00">ZnO</text>
<text transform="translate(335.5,201.2) rotate(-90)" text-anchor="middle" style="font-family:'Liberation Sans',Arial,sans-serif;font-size:66.5px;fill:#000">(003)</text>
<text transform="translate(706.6,233.8) rotate(-90)" text-anchor="middle" style="font-family:'Liberation Sans',Arial,sans-serif;font-size:66.5px;fill:#000">(006)</text>
<text transform="translate(963.7,208.3) rotate(-90)" text-anchor="middle" style="font-family:'Liberation Sans',Arial,sans-serif;font-size:66.5px;fill:#000">(009)</text>
<text transform="translate(1081.7,348.2) rotate(-90)" text-anchor="middle" style="font-family:'Liberation Sans',Arial,sans-serif;font-size:66.5px;fill:#000">(015)</text>
<text transform="translate(1255.5,426.6) rotate(-90)" text-anchor="middle" style="font-family:'Liberation Sans',Arial,sans-serif;font-size:66.5px;fill:#000">(018)</text>
<text transform="translate(1553.8,522.9) rotate(-90)" text-anchor="middle" style="font-family:'Liberation Sans',Arial,sans-serif;font-size:66.5px;fill:#000">(110)</text>
<text transform="translate(1628.9,508.3) rotate(-90)" text-anchor="middle" style="font-family:'Liberation Sans',Arial,sans-serif;font-size:66.5px;fill:#000">(113)</text>
<text transform="translate(337.3,1166.3) rotate(-90)" text-anchor="middle" style="font-family:'Liberation Sans',Arial,sans-serif;font-size:66.5px;fill:#000">(003)</text>
<text transform="translate(563.4,1256.8) rotate(-90)" text-anchor="middle" style="font-family:'Liberation Sans',Arial,sans-serif;font-size:66.5px;fill:#000">(006)</text>
<text transform="translate(955.7,1203.4) rotate(-90)" text-anchor="middle" style="font-family:'Liberation Sans',Arial,sans-serif;font-size:66.5px;fill:#000">(009)</text>
<text transform="translate(1039.0,1204.0) rotate(-90)" text-anchor="middle" style="font-family:'Liberation Sans',Arial,sans-serif;font-size:66.5px;fill:#000">(015)</text>
<text transform="translate(1174.5,1262.0) rotate(-90)" text-anchor="middle" style="font-family:'Liberation Sans',Arial,sans-serif;font-size:66.5px;fill:#000">(018)</text>
<text transform="translate(1549.7,1270.0) rotate(-90)" text-anchor="middle" style="font-family:'Liberation Sans',Arial,sans-serif;font-size:66.5px;fill:#000">(110)</text>
<text transform="translate(1621.1,1266.7) rotate(-90)" text-anchor="middle" style="font-family:'Liberation Sans',Arial,sans-serif;font-size:66.5px;fill:#000">(113)</text>
<text transform="translate(996.9,1671.2) rotate(-90)" text-anchor="middle" style="font-family:'Liberation Sans',Arial,sans-serif;font-size:66.5px;fill:#8b008b">(111)</text>
<text transform="translate(1231.7,1574.4) rotate(-90)" text-anchor="middle" style="font-family:'Liberation Sans',Arial,sans-serif;font-size:66.5px;fill:#8b008b">(200)</text>
<text transform="translate(1633.1,1567.2) rotate(-90)" text-anchor="middle" style="font-family:'Liberation Sans',Arial,sans-serif;font-size:66.5px;fill:#8b008b">(220)</text>
<text transform="translate(888.4,2456.6) rotate(-90)" text-anchor="middle" style="font-family:'Liberation Sans',Arial,sans-serif;font-size:66.5px;fill:#008a00">(100)</text>
<text transform="translate(966.5,2519.2) rotate(-90)" text-anchor="middle" style="font-family:'Liberation Sans',Arial,sans-serif;font-size:66.5px;fill:#008a00">(002)</text>
<text transform="translate(1072.3,2468.2) rotate(-90)" text-anchor="middle" style="font-family:'Liberation Sans',Arial,sans-serif;font-size:66.5px;fill:#008a00">(101)</text>
<text transform="translate(1278.2,2625.2) rotate(-90)" text-anchor="middle" style="font-family:'Liberation Sans',Arial,sans-serif;font-size:66.5px;fill:#008a00">(102)</text>
<text transform="translate(1495.3,2592.9) rotate(-90)" text-anchor="middle" style="font-family:'Liberation Sans',Arial,sans-serif;font-size:66.5px;fill:#008a00">(110)</text>
<text transform="translate(1641.6,2613.8) rotate(-90)" text-anchor="middle" style="font-family:'Liberation Sans',Arial,sans-serif;font-size:66.5px;fill:#008a00">(103)</text>
<text transform="translate(1763.7,2653.3) rotate(-90)" text-anchor="middle" style="font-family:'Liberation Sans',Arial,sans-serif;font-size:66.5px;fill:#008a00">(112)</text>
<text transform="translate(1820.9,2709.8) rotate(-90)" text-anchor="middle" style="font-family:'Liberation Sans',Arial,sans-serif;font-size:66.5px;fill:#008a00">(201)</text>
<text transform="translate(1974.0,2724.4) rotate(-90)" text-anchor="middle" style="font-family:'Liberation Sans',Arial,sans-serif;font-size:66.5px;fill:#008a00">(202)</text>
<text x="407.9" y="78.0" text-anchor="middle" style="font-family:'Liberation Sans',Arial,sans-serif;font-weight:bold;font-size:61px;fill:#000">*</text>
<text x="684.0" y="374.5" text-anchor="middle" style="font-family:'Liberation Sans',Arial,sans-serif;font-weight:bold;font-size:61px;fill:#000">*</text>
<text x="948.0" y="342.0" text-anchor="middle" style="font-family:'Liberation Sans',Arial,sans-serif;font-weight:bold;font-size:61px;fill:#000">*</text>
<text x="1017.0" y="677.0" text-anchor="middle" style="font-family:'Liberation Sans',Arial,sans-serif;font-weight:bold;font-size:61px;fill:#000">*</text>
<text x="1057.6" y="483.7" text-anchor="middle" style="font-family:'Liberation Sans',Arial,sans-serif;font-weight:bold;font-size:61px;fill:#000">*</text>
<text x="1173.0" y="708.6" text-anchor="middle" style="font-family:'Liberation Sans',Arial,sans-serif;font-weight:bold;font-size:61px;fill:#000">*</text>
<text x="1237.0" y="567.3" text-anchor="middle" style="font-family:'Liberation Sans',Arial,sans-serif;font-weight:bold;font-size:61px;fill:#000">*</text>
<text x="1377.0" y="687.4" text-anchor="middle" style="font-family:'Liberation Sans',Arial,sans-serif;font-weight:bold;font-size:61px;fill:#000">*</text>
<text x="1464.0" y="692.0" text-anchor="middle" style="font-family:'Liberation Sans',Arial,sans-serif;font-weight:bold;font-size:61px;fill:#000">*</text>
<text x="1554.3" y="660.7" text-anchor="middle" style="font-family:'Liberation Sans',Arial,sans-serif;font-weight:bold;font-size:61px;fill:#000">*</text>
<text x="1588.8" y="648.8" text-anchor="middle" style="font-family:'Liberation Sans',Arial,sans-serif;font-weight:bold;font-size:61px;fill:#000">*</text>
<text x="369.9" y="793.6" text-anchor="middle" style="font-family:'Liberation Sans',Arial,sans-serif;font-weight:bold;font-size:61px;fill:#ff0000">*</text>
<text x="604.0" y="815.5" text-anchor="middle" style="font-family:'Liberation Sans',Arial,sans-serif;font-weight:bold;font-size:61px;fill:#ff0000">*</text>
<text x="953.6" y="813.9" text-anchor="middle" style="font-family:'Liberation Sans',Arial,sans-serif;font-weight:bold;font-size:61px;fill:#ff0000">*</text>
<text x="1558.5" y="831.6" text-anchor="middle" style="font-family:'Liberation Sans',Arial,sans-serif;font-weight:bold;font-size:61px;fill:#ff0000">*</text>
<text x="1575.8" y="840.5" text-anchor="middle" style="font-family:'Liberation Sans',Arial,sans-serif;font-weight:bold;font-size:61px;fill:#ff0000">*</text>
<text x="406.9" y="910.0" text-anchor="middle" style="font-family:'Liberation Sans',Arial,sans-serif;font-weight:bold;font-size:61px;fill:#0000ff">*</text>
<text x="683.5" y="957.5" text-anchor="middle" style="font-family:'Liberation Sans',Arial,sans-serif;font-weight:bold;font-size:61px;fill:#0000ff">*</text>
<text x="948.0" y="911.0" text-anchor="middle" style="font-family:'Liberation Sans',Arial,sans-serif;font-weight:bold;font-size:61px;fill:#0000ff">*</text>
<text x="1055.0" y="957.5" text-anchor="middle" style="font-family:'Liberation Sans',Arial,sans-serif;font-weight:bold;font-size:61px;fill:#0000ff">*</text>
<text x="1236.6" y="971.5" text-anchor="middle" style="font-family:'Liberation Sans',Arial,sans-serif;font-weight:bold;font-size:61px;fill:#0000ff">*</text>
<text x="1551.3" y="991.5" text-anchor="middle" style="font-family:'Liberation Sans',Arial,sans-serif;font-weight:bold;font-size:61px;fill:#0000ff">*</text>
<text x="1590.0" y="994.0" text-anchor="middle" style="font-family:'Liberation Sans',Arial,sans-serif;font-weight:bold;font-size:61px;fill:#0000ff">*</text>
<text x="365.9" y="1077.0" text-anchor="middle" style="font-family:'Liberation Sans',Arial,sans-serif;font-weight:bold;font-size:61px;fill:#008080">*</text>
<text x="365.9" y="1081.5" text-anchor="middle" style="font-family:'Liberation Sans',Arial,sans-serif;font-weight:bold;font-size:61px;fill:#008080">*</text>
<text x="601.0" y="1206.5" text-anchor="middle" style="font-family:'Liberation Sans',Arial,sans-serif;font-weight:bold;font-size:61px;fill:#008080">*</text>
<text x="944.9" y="1353.0" text-anchor="middle" style="font-family:'Liberation Sans',Arial,sans-serif;font-weight:bold;font-size:61px;fill:#008080">*</text>
<text x="1021.4" y="1379.4" text-anchor="middle" style="font-family:'Liberation Sans',Arial,sans-serif;font-weight:bold;font-size:61px;fill:#008080">*</text>
<text x="1157.3" y="1419.6" text-anchor="middle" style="font-family:'Liberation Sans',Arial,sans-serif;font-weight:bold;font-size:61px;fill:#008080">*</text>
<text x="1553.2" y="1421.5" text-anchor="middle" style="font-family:'Liberation Sans',Arial,sans-serif;font-weight:bold;font-size:61px;fill:#008080">*</text>
<text x="1578.0" y="1421.5" text-anchor="middle" style="font-family:'Liberation Sans',Arial,sans-serif;font-weight:bold;font-size:61px;fill:#008080">*</text>
<text x="993.0" y="1878.6" text-anchor="middle" style="font-family:'Liberation Sans',Arial,sans-serif;font-weight:bold;font-size:79px;fill:#ff0000;stroke:#ff0000;stroke-width:1.1px">+</text>
<text x="881.7" y="1987.9" text-anchor="middle" style="font-family:'Liberation Sans',Arial,sans-serif;font-weight:bold;font-size:79px;fill:#ff0000;stroke:#ff0000;stroke-width:1.1px">+</text>
<text x="952.0" y="2046.6" text-anchor="middle" style="font-family:'Liberation Sans',Arial,sans-serif;font-weight:bold;font-size:79px;fill:#ff0000;stroke:#ff0000;stroke-width:1.1px">+</text>
<text x="1259.4" y="2123.3" text-anchor="middle" style="font-family:'Liberation Sans',Arial,sans-serif;font-weight:bold;font-size:79px;fill:#ff0000;stroke:#ff0000;stroke-width:1.1px">+</text>
<text x="1471.0" y="2076.9" text-anchor="middle" style="font-family:'Liberation Sans',Arial,sans-serif;font-weight:bold;font-size:79px;fill:#ff0000;stroke:#ff0000;stroke-width:1.1px">+</text>
<text x="1625.6" y="2016.3" text-anchor="middle" style="font-family:'Liberation Sans',Arial,sans-serif;font-weight:bold;font-size:79px;fill:#ff0000;stroke:#ff0000;stroke-width:1.1px">+</text>
<text x="1743.5" y="2107.6" text-anchor="middle" style="font-family:'Liberation Sans',Arial,sans-serif;font-weight:bold;font-size:79px;fill:#ff0000;stroke:#ff0000;stroke-width:1.1px">+</text>
<text x="1777.0" y="2134.4" text-anchor="middle" style="font-family:'Liberation Sans',Arial,sans-serif;font-weight:bold;font-size:79px;fill:#ff0000;stroke:#ff0000;stroke-width:1.1px">+</text>
<text x="894.0" y="2255.5" text-anchor="middle" style="font-family:'Liberation Sans',Arial,sans-serif;font-weight:bold;font-size:79px;fill:#0000ff;stroke:#0000ff;stroke-width:1.1px">+</text>
<text x="995.5" y="2199.6" text-anchor="middle" style="font-family:'Liberation Sans',Arial,sans-serif;font-weight:bold;font-size:79px;fill:#0000ff;stroke:#0000ff;stroke-width:1.1px">+</text>
<text x="1486.4" y="2292.5" text-anchor="middle" style="font-family:'Liberation Sans',Arial,sans-serif;font-weight:bold;font-size:79px;fill:#0000ff;stroke:#0000ff;stroke-width:1.1px">+</text>
<text x="992.8" y="2361.6" text-anchor="middle" style="font-family:'Liberation Sans',Arial,sans-serif;font-weight:bold;font-size:79px;fill:#008080;stroke:#008080;stroke-width:1.1px">+</text>
<text x="882.3" y="2596.6" text-anchor="middle" style="font-family:'Liberation Sans',Arial,sans-serif;font-weight:bold;font-size:79px;fill:#008080;stroke:#008080;stroke-width:1.1px">+</text>
<text x="951.9" y="2670.6" text-anchor="middle" style="font-family:'Liberation Sans',Arial,sans-serif;font-weight:bold;font-size:79px;fill:#008080;stroke:#008080;stroke-width:1.1px">+</text>
<text x="1255.0" y="2788.6" text-anchor="middle" style="font-family:'Liberation Sans',Arial,sans-serif;font-weight:bold;font-size:79px;fill:#008080;stroke:#008080;stroke-width:1.1px">+</text>
<text x="1474.0" y="2744.1" text-anchor="middle" style="font-family:'Liberation Sans',Arial,sans-serif;font-weight:bold;font-size:79px;fill:#008080;stroke:#008080;stroke-width:1.1px">+</text>
<text x="1622.5" y="2757.6" text-anchor="middle" style="font-family:'Liberation Sans',Arial,sans-serif;font-weight:bold;font-size:79px;fill:#008080;stroke:#008080;stroke-width:1.1px">+</text>
<text x="1735.7" y="2784.3" text-anchor="middle" style="font-family:'Liberation Sans',Arial,sans-serif;font-weight:bold;font-size:79px;fill:#008080;stroke:#008080;stroke-width:1.1px">+</text>
<text x="1771.0" y="2842.5" text-anchor="middle" style="font-family:'Liberation Sans',Arial,sans-serif;font-weight:bold;font-size:79px;fill:#008080;stroke:#008080;stroke-width:1.1px">+</text>
<text x="1955.2" y="2867.8" text-anchor="middle" style="font-family:'Liberation Sans',Arial,sans-serif;font-weight:bold;font-size:79px;fill:#008080;stroke:#008080;stroke-width:1.1px">+</text>
<text x="992.3" y="1812.9" text-anchor="middle" style="font-family:'Liberation Sans',Arial,sans-serif;font-weight:bold;font-size:80px;fill:#000">°</text>
<text x="1151.4" y="1616.4" text-anchor="middle" style="font-family:'Liberation Sans',Arial,sans-serif;font-weight:bold;font-size:80px;fill:#000">°</text>
<text x="1610.4" y="1713.7" text-anchor="middle" style="font-family:'Liberation Sans',Arial,sans-serif;font-weight:bold;font-size:80px;fill:#000">°</text>
<text x="992.3" y="1944.9" text-anchor="middle" style="font-family:'Liberation Sans',Arial,sans-serif;font-weight:bold;font-size:80px;fill:#ff0000">°</text>
<text x="1144.4" y="2164.3" text-anchor="middle" style="font-family:'Liberation Sans',Arial,sans-serif;font-weight:bold;font-size:80px;fill:#ff0000">°</text>
<text x="1621.2" y="2088.9" text-anchor="middle" style="font-family:'Liberation Sans',Arial,sans-serif;font-weight:bold;font-size:80px;fill:#ff0000">°</text>
<text x="992.3" y="2255.4" text-anchor="middle" style="font-family:'Liberation Sans',Arial,sans-serif;font-weight:bold;font-size:80px;fill:#0000ff">°</text>
</svg></body></html>
